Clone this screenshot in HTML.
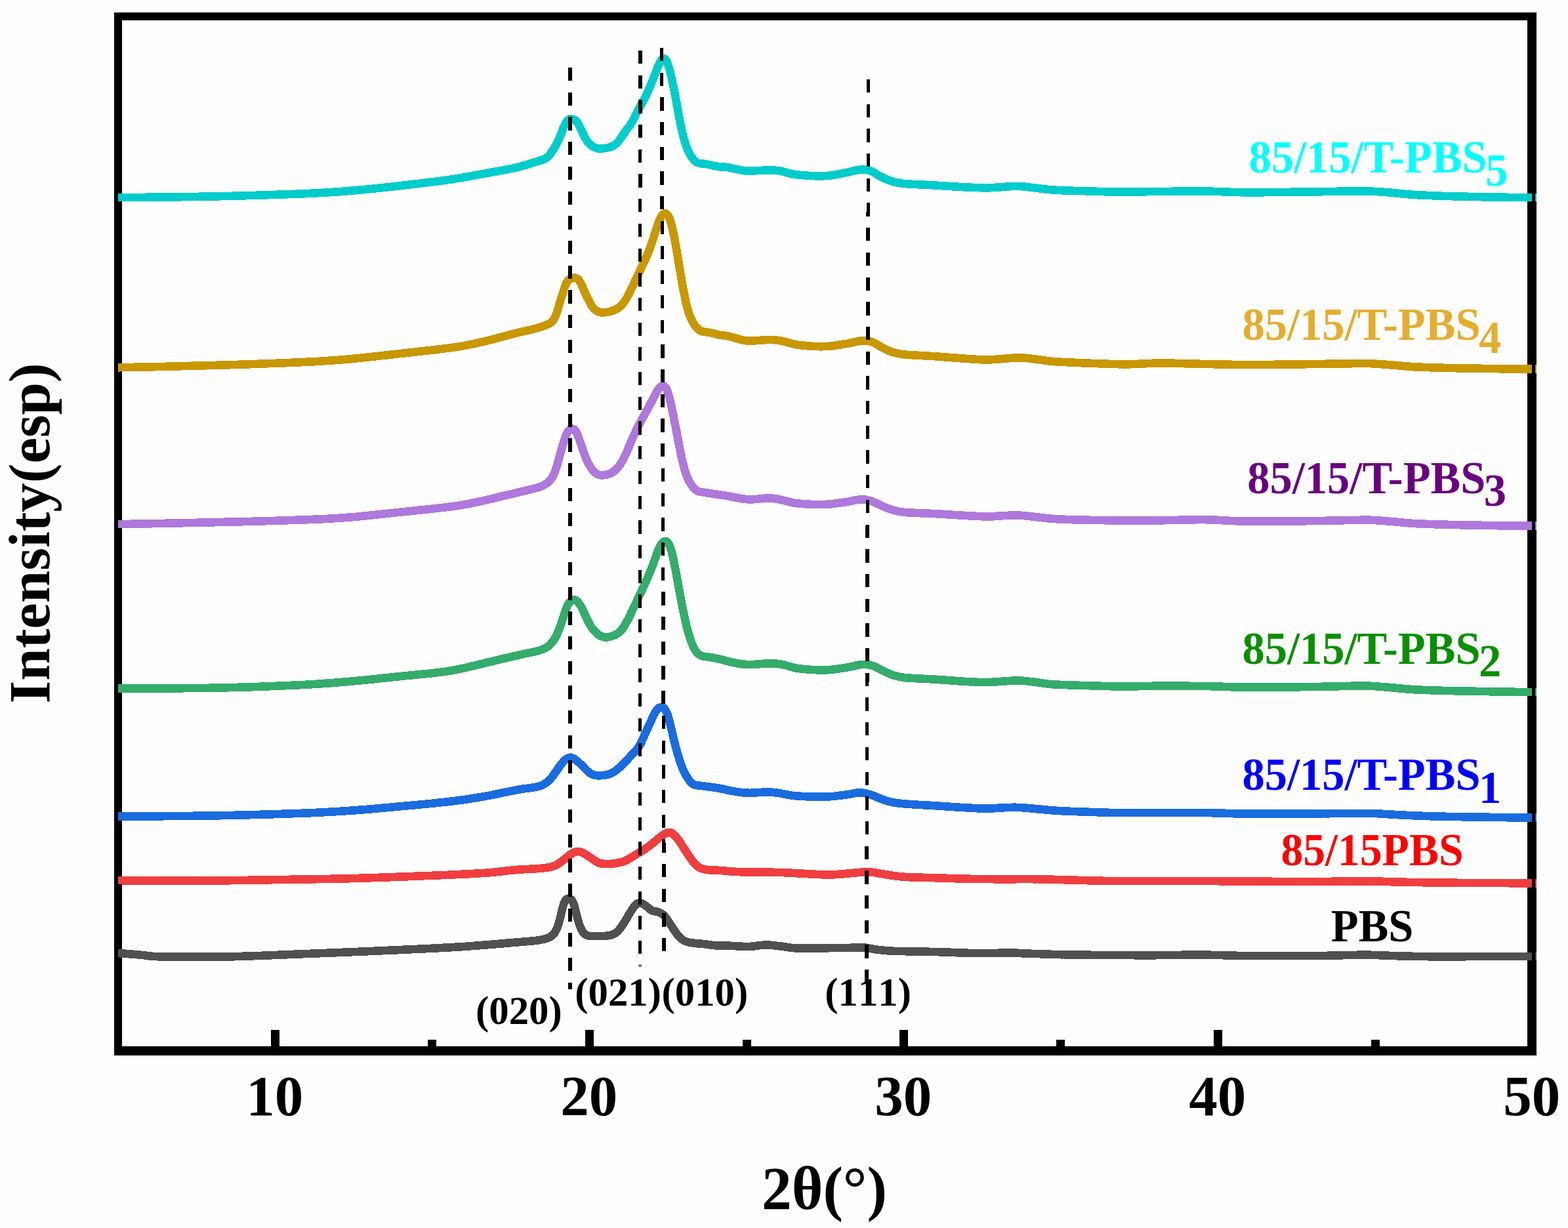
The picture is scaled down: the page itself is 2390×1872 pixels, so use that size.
<!DOCTYPE html>
<html lang="en">
<head>
<meta charset="utf-8">
<title>XRD patterns of PBS blends</title>
<style>
html,body{margin:0;padding:0;background:#fefefe;}
body{width:2390px;height:1872px;overflow:hidden;}
svg{display:block;}
text{font-family:'Liberation Serif','Times New Roman',Times,serif;font-weight:bold;}
.c{fill:none;stroke-width:12.6;stroke-linejoin:round;stroke-linecap:butt;shape-rendering:crispEdges;}
.ci{fill:none;stroke-width:10;stroke-linejoin:round;stroke-linecap:butt;}
.d{stroke:#000;fill:none;shape-rendering:crispEdges;}
</style>
</head>
<body>
<svg xmlns="http://www.w3.org/2000/svg" width="2390" height="1872" viewBox="0 0 2390 1872">
<rect x="0" y="0" width="2390" height="1872" fill="#fefefe"/>
<g fill="#000">
<rect x="174" y="19" width="2168" height="12"/>
<rect x="174" y="19" width="12" height="1590"/>
<rect x="174" y="1595" width="2168" height="14"/>
<rect x="2328" y="19" width="14" height="1590"/>
<rect x="413" y="1570" width="13" height="26"/>
<rect x="892" y="1570" width="13" height="26"/>
<rect x="1371" y="1570" width="13" height="26"/>
<rect x="1850" y="1570" width="13" height="26"/>
<rect x="652" y="1585" width="13" height="11"/>
<rect x="1132" y="1585" width="13" height="11"/>
<rect x="1610" y="1585" width="13" height="11"/>
<rect x="2090" y="1585" width="13" height="11"/>
</g>
<g stroke="#505050"><path class="c" d="M180,1453L183,1453.2L186,1453.4L189,1453.6L192,1453.8L195,1454.1L198,1454.3L201,1454.5L204,1454.8L207,1455L210,1455.3L213,1455.6L216,1455.9L219,1456.2L221.9,1456.6L224.9,1457L227.9,1457.4L230.9,1457.7L233.9,1457.9L236.9,1458.1L239.9,1458.2L242.9,1458.3L245.9,1458.3L248.9,1458.4L251.9,1458.4L254.9,1458.4L257.9,1458.4L260.9,1458.5L264,1458.5L267,1458.5L270,1458.5L273,1458.5L276,1458.5L279,1458.5L282,1458.5L285,1458.5L288,1458.5L291,1458.5L294,1458.5L297,1458.5L300,1458.5L303,1458.5L306.1,1458.5L309.1,1458.5L312.1,1458.5L315.1,1458.5L318.1,1458.5L321.1,1458.5L324.1,1458.5L327.1,1458.5L330.1,1458.5L333.1,1458.5L336.1,1458.5L339.1,1458.5L342.1,1458.4L345.2,1458.4L348.2,1458.4L351.2,1458.3L354.2,1458.2L357.2,1458.2L360.2,1458.1L363.2,1458L366.2,1457.9L369.2,1457.8L372.2,1457.7L375.2,1457.6L378.2,1457.5L381.2,1457.4L384.2,1457.3L387.2,1457.2L390.2,1457.1L393.2,1457L396.2,1456.9L399.3,1456.8L402.3,1456.6L405.3,1456.5L408.3,1456.4L411.3,1456.3L414.3,1456.2L417.3,1456L420.3,1455.9L423.3,1455.8L426.3,1455.7L429.3,1455.5L432.3,1455.4L435.3,1455.3L438.3,1455.2L441.3,1455L444.3,1454.9L447.3,1454.8L450.3,1454.7L453.3,1454.6L456.3,1454.4L459.3,1454.3L462.4,1454.2L465.4,1454.1L468.4,1454L471.4,1453.9L474.4,1453.7L477.4,1453.6L480.4,1453.5L483.4,1453.4L486.4,1453.3L489.4,1453.1L492.4,1453L495.4,1452.9L498.4,1452.8L501.4,1452.7L504.4,1452.5L507.4,1452.4L510.4,1452.3L513.4,1452.2L516.4,1452.1L519.4,1451.9L522.5,1451.8L525.5,1451.7L528.5,1451.6L531.5,1451.4L534.5,1451.3L537.5,1451.2L540.5,1451.1L543.5,1450.9L546.5,1450.8L549.5,1450.7L552.5,1450.6L555.5,1450.4L558.5,1450.3L561.5,1450.2L564.5,1450L567.5,1449.9L570.5,1449.8L573.5,1449.6L576.5,1449.5L579.5,1449.4L582.5,1449.2L585.5,1449.1L588.5,1449L591.6,1448.8L594.6,1448.7L597.6,1448.6L600.6,1448.4L603.6,1448.3L606.6,1448.2L609.6,1448L612.6,1447.9L615.6,1447.7L618.6,1447.6L621.6,1447.5L624.6,1447.3L627.6,1447.2L630.6,1447.1L633.6,1446.9L636.6,1446.8L639.6,1446.6L642.6,1446.5L645.6,1446.4L648.6,1446.2L651.6,1446.1L654.6,1445.9L657.6,1445.8L660.6,1445.6L663.6,1445.5L666.7,1445.3L669.7,1445.2L672.7,1445L675.7,1444.8L678.7,1444.7L681.7,1444.5L684.7,1444.4L687.7,1444.2L690.7,1444L693.7,1443.8L696.7,1443.7L699.7,1443.5L702.7,1443.3L705.7,1443.1L708.7,1442.9L711.7,1442.7L714.7,1442.5L717.7,1442.2L720.7,1442L723.7,1441.8L726.7,1441.6L729.7,1441.3L732.7,1441.1L735.7,1440.8L738.7,1440.6L741.7,1440.4L744.7,1440.1L747.7,1439.9L750.7,1439.6L753.7,1439.4L756.6,1439.1L759.6,1438.9L762.6,1438.6L765.6,1438.4L768.6,1438.1L771.6,1437.8L774.6,1437.6L777.6,1437.3L780.6,1437.1L783.6,1436.8L786.6,1436.5L789.6,1436.3L792.6,1436L795.6,1435.8L798.6,1435.5L801.6,1435.3L804.6,1435L807.6,1434.8L810.6,1434.5L813.6,1434.2L816.6,1433.9L819.6,1433.6L822.5,1433.1L825.5,1432.5L828.4,1431.8L831.3,1431.1L834.2,1430.2L837,1429L839.6,1427.6L842,1425.8L844.1,1423.6L845.9,1421.2L847.4,1418.6L848.7,1415.9L849.8,1413.1L850.8,1410.3L851.7,1407.4L852.5,1404.5L853.2,1401.6L854,1398.7L854.7,1395.7L855.3,1392.8L856,1389.9L856.7,1386.9L857.5,1384L858.3,1381.1L859.2,1378.3L860.2,1375.4L861.6,1372.8L863.6,1370.6L866.4,1369.6L869.3,1370.2L871.6,1372.2L873.1,1374.8L874.3,1377.5L875.2,1380.4L876.1,1383.3L876.9,1386.2L877.6,1389.1L878.3,1392L879,1394.9L879.8,1397.8L880.5,1400.7L881.3,1403.6L882.2,1406.5L883.1,1409.4L884.1,1412.2L885.3,1415L886.6,1417.7L888.2,1420.3L890.1,1422.6L892.3,1424.6L895,1426L897.9,1426.8L900.9,1427L903.9,1427L906.9,1427.1L909.9,1427.1L912.9,1427.1L915.9,1427L918.9,1426.9L921.9,1426.8L924.9,1426.5L927.9,1426.1L930.8,1425.5L933.7,1424.7L936.5,1423.5L939,1421.9L941.3,1419.9L943.3,1417.7L945.2,1415.4L947,1413L948.7,1410.5L950.4,1408L952,1405.4L953.5,1402.9L955.1,1400.3L956.6,1397.7L958.1,1395.1L959.6,1392.5L961.2,1389.9L962.8,1387.4L964.4,1384.9L966.2,1382.4L968.1,1380.1L970.3,1378.1L973,1376.7L975.9,1376.3L978.8,1377.2L981.4,1378.6L983.9,1380.4L986.2,1382.2L988.5,1384.2L990.7,1386.2L993.2,1387.9L996,1389L998.9,1389.5L1001.9,1389.9L1004.8,1390.8L1007.5,1392.1L1010,1393.8L1012.2,1395.9L1014.2,1398.1L1016,1400.5L1017.8,1402.9L1019.5,1405.4L1021.1,1407.9L1022.7,1410.4L1024.4,1413L1026,1415.5L1027.7,1418L1029.4,1420.5L1031.1,1422.9L1033,1425.3L1035,1427.6L1037.1,1429.7L1039.4,1431.6L1041.8,1433.4L1044.5,1434.8L1047.3,1435.8L1050.2,1436.5L1053.2,1437.1L1056.2,1437.5L1059.1,1437.9L1062.1,1438.2L1065.1,1438.5L1068.1,1438.7L1071.1,1439L1074.1,1439.2L1077.1,1439.6L1080.1,1440L1083.1,1440.4L1086,1440.9L1089,1441.2L1092,1441.3L1095,1441.3L1098,1441.3L1101,1441.3L1104.1,1441.4L1107.1,1441.5L1110.1,1441.6L1113.1,1441.8L1116.1,1442L1119.1,1442.1L1122.1,1442.3L1125.1,1442.5L1128.1,1442.6L1131.1,1442.8L1134.1,1442.9L1137.1,1443L1140.1,1443L1143.1,1442.9L1146.1,1442.7L1149.1,1442.4L1152.1,1442L1155.1,1441.6L1158,1441.2L1161,1440.9L1164,1440.6L1167,1440.5L1170,1440.5L1173,1440.7L1176,1440.9L1179,1441.2L1182,1441.6L1185,1441.9L1188,1442.3L1191,1442.6L1194,1443L1196.9,1443.5L1199.9,1443.9L1202.9,1444.4L1205.8,1444.8L1208.8,1445.1L1211.8,1445.4L1214.8,1445.5L1217.8,1445.5L1220.9,1445.5L1223.9,1445.5L1226.9,1445.5L1229.9,1445.5L1232.9,1445.5L1235.9,1445.5L1238.9,1445.4L1241.9,1445.4L1244.9,1445.4L1247.9,1445.3L1250.9,1445.3L1253.9,1445.3L1256.9,1445.2L1259.9,1445.2L1263,1445.2L1266,1445.1L1269,1445.1L1272,1445.1L1275,1445L1278,1445L1281,1445L1284,1444.9L1287,1444.9L1290,1444.9L1293,1444.8L1296,1444.8L1299,1444.7L1302,1444.7L1305.1,1444.7L1308.1,1444.6L1311.1,1444.6L1314.1,1444.6L1317.1,1444.6L1320.1,1444.8L1323.1,1445.2L1326,1445.7L1329,1446.3L1331.9,1446.9L1334.9,1447.4L1337.9,1447.8L1340.9,1448.1L1343.8,1448.4L1346.8,1448.7L1349.8,1449L1352.8,1449.3L1355.8,1449.5L1358.8,1449.6L1361.8,1449.8L1364.8,1449.8L1367.9,1449.9L1370.9,1450L1373.9,1450.1L1376.9,1450.1L1379.9,1450.2L1382.9,1450.2L1385.9,1450.3L1388.9,1450.4L1391.9,1450.4L1394.9,1450.4L1397.9,1450.5L1400.9,1450.5L1403.9,1450.6L1406.9,1450.6L1409.9,1450.7L1413,1450.7L1416,1450.8L1419,1450.9L1422,1450.9L1425,1451L1428,1451.1L1431,1451.2L1434,1451.3L1437,1451.4L1440,1451.5L1443,1451.6L1446,1451.7L1449,1451.8L1452,1451.9L1455,1452.1L1458,1452.2L1461,1452.3L1464,1452.4L1467.1,1452.5L1470.1,1452.6L1473.1,1452.7L1476.1,1452.8L1479.1,1452.8L1482.1,1452.9L1485.1,1452.9L1488.1,1453L1491.1,1453L1494.1,1453L1497.1,1453.1L1500.1,1453.1L1503.1,1453L1506.1,1453L1509.1,1453L1512.2,1453L1515.2,1453L1518.2,1452.9L1521.2,1452.8L1524.2,1452.7L1527.2,1452.6L1530.2,1452.4L1533.2,1452.3L1536.2,1452.3L1539.2,1452.3L1542.2,1452.4L1545.2,1452.5L1548.2,1452.6L1551.2,1452.8L1554.2,1453L1557.2,1453.2L1560.2,1453.3L1563.2,1453.5L1566.2,1453.6L1569.2,1453.7L1572.2,1453.8L1575.3,1453.9L1578.3,1454L1581.3,1454.1L1584.3,1454.2L1587.3,1454.3L1590.3,1454.4L1593.3,1454.5L1596.3,1454.6L1599.3,1454.7L1602.3,1454.8L1605.3,1454.9L1608.3,1454.9L1611.3,1455L1614.3,1455.1L1617.3,1455.2L1620.3,1455.2L1623.3,1455.3L1626.4,1455.3L1629.4,1455.4L1632.4,1455.4L1635.4,1455.5L1638.4,1455.5L1641.4,1455.5L1644.4,1455.6L1647.4,1455.6L1650.4,1455.6L1653.4,1455.7L1656.4,1455.7L1659.4,1455.7L1662.4,1455.8L1665.4,1455.8L1668.5,1455.8L1671.5,1455.8L1674.5,1455.8L1677.5,1455.9L1680.5,1455.9L1683.5,1455.9L1686.5,1455.9L1689.5,1455.9L1692.5,1456L1695.5,1456L1698.5,1456L1701.5,1456L1704.5,1456L1707.5,1456.1L1710.6,1456.1L1713.6,1456.1L1716.6,1456.1L1719.6,1456.1L1722.6,1456.1L1725.6,1456.1L1728.6,1456.2L1731.6,1456.2L1734.6,1456.2L1737.6,1456.2L1740.6,1456.2L1743.6,1456.2L1746.6,1456.2L1749.6,1456.2L1752.7,1456.2L1755.7,1456.2L1758.7,1456.2L1761.7,1456.2L1764.7,1456.1L1767.7,1456.1L1770.7,1456.1L1773.7,1456.1L1776.7,1456L1779.7,1456L1782.7,1456L1785.7,1455.9L1788.7,1455.9L1791.7,1455.9L1794.8,1455.8L1797.8,1455.8L1800.8,1455.8L1803.8,1455.7L1806.8,1455.7L1809.8,1455.7L1812.8,1455.7L1815.8,1455.6L1818.8,1455.6L1821.8,1455.6L1824.8,1455.6L1827.8,1455.6L1830.8,1455.6L1833.8,1455.6L1836.9,1455.6L1839.9,1455.7L1842.9,1455.7L1845.9,1455.8L1848.9,1455.8L1851.9,1455.9L1854.9,1456L1857.9,1456L1860.9,1456.1L1863.9,1456.2L1866.9,1456.3L1869.9,1456.4L1872.9,1456.5L1875.9,1456.5L1878.9,1456.6L1881.9,1456.7L1885,1456.8L1888,1456.8L1891,1456.9L1894,1456.9L1897,1457L1900,1457L1903,1457L1906,1457L1909,1457L1912,1457L1915,1457L1918,1457L1921,1457.1L1924,1457.1L1927.1,1457.1L1930.1,1457.1L1933.1,1457.1L1936.1,1457.1L1939.1,1457.1L1942.1,1457.1L1945.1,1457.1L1948.1,1457.1L1951.1,1457.1L1954.1,1457.1L1957.1,1457.1L1960.1,1457.1L1963.1,1457.1L1966.1,1457.1L1969.2,1457.1L1972.2,1457.1L1975.2,1457.1L1978.2,1457.1L1981.2,1457L1984.2,1457L1987.2,1457L1990.2,1457L1993.2,1457L1996.2,1457L1999.2,1457L2002.2,1457L2005.2,1457L2008.3,1457L2011.3,1457L2014.3,1456.9L2017.3,1456.9L2020.3,1456.9L2023.3,1456.8L2026.3,1456.7L2029.3,1456.7L2032.3,1456.6L2035.3,1456.5L2038.3,1456.4L2041.3,1456.4L2044.3,1456.3L2047.3,1456.2L2050.3,1456.1L2053.3,1456.1L2056.4,1456L2059.4,1455.9L2062.4,1455.9L2065.4,1455.8L2068.4,1455.8L2071.4,1455.7L2074.4,1455.7L2077.4,1455.7L2080.4,1455.7L2083.4,1455.7L2086.4,1455.7L2089.4,1455.8L2092.4,1455.9L2095.4,1456L2098.4,1456.1L2101.5,1456.2L2104.5,1456.3L2107.5,1456.5L2110.5,1456.6L2113.5,1456.7L2116.5,1456.8L2119.5,1456.9L2122.5,1457L2125.5,1457.1L2128.5,1457.2L2131.5,1457.2L2134.5,1457.3L2137.5,1457.4L2140.5,1457.5L2143.5,1457.5L2146.5,1457.6L2149.5,1457.7L2152.5,1457.8L2155.6,1457.8L2158.6,1457.9L2161.6,1457.9L2164.6,1458L2167.6,1458L2170.6,1458.1L2173.6,1458.1L2176.6,1458.2L2179.6,1458.2L2182.6,1458.2L2185.6,1458.2L2188.6,1458.2L2191.6,1458.2L2194.6,1458.2L2197.7,1458.2L2200.7,1458.2L2203.7,1458.2L2206.7,1458.2L2209.7,1458.2L2212.7,1458.2L2215.7,1458.2L2218.7,1458.2L2221.7,1458.2L2224.7,1458.2L2227.7,1458.2L2230.7,1458.2L2233.7,1458.2L2236.7,1458.1L2239.8,1458.1L2242.8,1458.1L2245.8,1458.1L2248.8,1458.1L2251.8,1458.1L2254.8,1458.1L2257.8,1458.1L2260.8,1458.1L2263.8,1458.1L2266.8,1458.1L2269.8,1458.1L2272.8,1458.1L2275.8,1458.1L2278.8,1458.1L2281.9,1458.1L2284.9,1458L2287.9,1458L2290.9,1458L2293.9,1458L2296.9,1458L2299.9,1458L2302.9,1458L2305.9,1458L2308.9,1458L2311.9,1458L2314.9,1458L2317.9,1458L2320.9,1458L2324,1458L2327,1458L2330,1458L2333,1458L2336,1458L2339,1458L2342,1458"/><path class="ci" d="M180,1453L183,1453.2L186,1453.4L189,1453.6L192,1453.8L195,1454.1L198,1454.3L201,1454.5L204,1454.8L207,1455L210,1455.3L213,1455.6L216,1455.9L219,1456.2L221.9,1456.6L224.9,1457L227.9,1457.4L230.9,1457.7L233.9,1457.9L236.9,1458.1L239.9,1458.2L242.9,1458.3L245.9,1458.3L248.9,1458.4L251.9,1458.4L254.9,1458.4L257.9,1458.4L260.9,1458.5L264,1458.5L267,1458.5L270,1458.5L273,1458.5L276,1458.5L279,1458.5L282,1458.5L285,1458.5L288,1458.5L291,1458.5L294,1458.5L297,1458.5L300,1458.5L303,1458.5L306.1,1458.5L309.1,1458.5L312.1,1458.5L315.1,1458.5L318.1,1458.5L321.1,1458.5L324.1,1458.5L327.1,1458.5L330.1,1458.5L333.1,1458.5L336.1,1458.5L339.1,1458.5L342.1,1458.4L345.2,1458.4L348.2,1458.4L351.2,1458.3L354.2,1458.2L357.2,1458.2L360.2,1458.1L363.2,1458L366.2,1457.9L369.2,1457.8L372.2,1457.7L375.2,1457.6L378.2,1457.5L381.2,1457.4L384.2,1457.3L387.2,1457.2L390.2,1457.1L393.2,1457L396.2,1456.9L399.3,1456.8L402.3,1456.6L405.3,1456.5L408.3,1456.4L411.3,1456.3L414.3,1456.2L417.3,1456L420.3,1455.9L423.3,1455.8L426.3,1455.7L429.3,1455.5L432.3,1455.4L435.3,1455.3L438.3,1455.2L441.3,1455L444.3,1454.9L447.3,1454.8L450.3,1454.7L453.3,1454.6L456.3,1454.4L459.3,1454.3L462.4,1454.2L465.4,1454.1L468.4,1454L471.4,1453.9L474.4,1453.7L477.4,1453.6L480.4,1453.5L483.4,1453.4L486.4,1453.3L489.4,1453.1L492.4,1453L495.4,1452.9L498.4,1452.8L501.4,1452.7L504.4,1452.5L507.4,1452.4L510.4,1452.3L513.4,1452.2L516.4,1452.1L519.4,1451.9L522.5,1451.8L525.5,1451.7L528.5,1451.6L531.5,1451.4L534.5,1451.3L537.5,1451.2L540.5,1451.1L543.5,1450.9L546.5,1450.8L549.5,1450.7L552.5,1450.6L555.5,1450.4L558.5,1450.3L561.5,1450.2L564.5,1450L567.5,1449.9L570.5,1449.8L573.5,1449.6L576.5,1449.5L579.5,1449.4L582.5,1449.2L585.5,1449.1L588.5,1449L591.6,1448.8L594.6,1448.7L597.6,1448.6L600.6,1448.4L603.6,1448.3L606.6,1448.2L609.6,1448L612.6,1447.9L615.6,1447.7L618.6,1447.6L621.6,1447.5L624.6,1447.3L627.6,1447.2L630.6,1447.1L633.6,1446.9L636.6,1446.8L639.6,1446.6L642.6,1446.5L645.6,1446.4L648.6,1446.2L651.6,1446.1L654.6,1445.9L657.6,1445.8L660.6,1445.6L663.6,1445.5L666.7,1445.3L669.7,1445.2L672.7,1445L675.7,1444.8L678.7,1444.7L681.7,1444.5L684.7,1444.4L687.7,1444.2L690.7,1444L693.7,1443.8L696.7,1443.7L699.7,1443.5L702.7,1443.3L705.7,1443.1L708.7,1442.9L711.7,1442.7L714.7,1442.5L717.7,1442.2L720.7,1442L723.7,1441.8L726.7,1441.6L729.7,1441.3L732.7,1441.1L735.7,1440.8L738.7,1440.6L741.7,1440.4L744.7,1440.1L747.7,1439.9L750.7,1439.6L753.7,1439.4L756.6,1439.1L759.6,1438.9L762.6,1438.6L765.6,1438.4L768.6,1438.1L771.6,1437.8L774.6,1437.6L777.6,1437.3L780.6,1437.1L783.6,1436.8L786.6,1436.5L789.6,1436.3L792.6,1436L795.6,1435.8L798.6,1435.5L801.6,1435.3L804.6,1435L807.6,1434.8L810.6,1434.5L813.6,1434.2L816.6,1433.9L819.6,1433.6L822.5,1433.1L825.5,1432.5L828.4,1431.8L831.3,1431.1L834.2,1430.2L837,1429L839.6,1427.6L842,1425.8L844.1,1423.6L845.9,1421.2L847.4,1418.6L848.7,1415.9L849.8,1413.1L850.8,1410.3L851.7,1407.4L852.5,1404.5L853.2,1401.6L854,1398.7L854.7,1395.7L855.3,1392.8L856,1389.9L856.7,1386.9L857.5,1384L858.3,1381.1L859.2,1378.3L860.2,1375.4L861.6,1372.8L863.6,1370.6L866.4,1369.6L869.3,1370.2L871.6,1372.2L873.1,1374.8L874.3,1377.5L875.2,1380.4L876.1,1383.3L876.9,1386.2L877.6,1389.1L878.3,1392L879,1394.9L879.8,1397.8L880.5,1400.7L881.3,1403.6L882.2,1406.5L883.1,1409.4L884.1,1412.2L885.3,1415L886.6,1417.7L888.2,1420.3L890.1,1422.6L892.3,1424.6L895,1426L897.9,1426.8L900.9,1427L903.9,1427L906.9,1427.1L909.9,1427.1L912.9,1427.1L915.9,1427L918.9,1426.9L921.9,1426.8L924.9,1426.5L927.9,1426.1L930.8,1425.5L933.7,1424.7L936.5,1423.5L939,1421.9L941.3,1419.9L943.3,1417.7L945.2,1415.4L947,1413L948.7,1410.5L950.4,1408L952,1405.4L953.5,1402.9L955.1,1400.3L956.6,1397.7L958.1,1395.1L959.6,1392.5L961.2,1389.9L962.8,1387.4L964.4,1384.9L966.2,1382.4L968.1,1380.1L970.3,1378.1L973,1376.7L975.9,1376.3L978.8,1377.2L981.4,1378.6L983.9,1380.4L986.2,1382.2L988.5,1384.2L990.7,1386.2L993.2,1387.9L996,1389L998.9,1389.5L1001.9,1389.9L1004.8,1390.8L1007.5,1392.1L1010,1393.8L1012.2,1395.9L1014.2,1398.1L1016,1400.5L1017.8,1402.9L1019.5,1405.4L1021.1,1407.9L1022.7,1410.4L1024.4,1413L1026,1415.5L1027.7,1418L1029.4,1420.5L1031.1,1422.9L1033,1425.3L1035,1427.6L1037.1,1429.7L1039.4,1431.6L1041.8,1433.4L1044.5,1434.8L1047.3,1435.8L1050.2,1436.5L1053.2,1437.1L1056.2,1437.5L1059.1,1437.9L1062.1,1438.2L1065.1,1438.5L1068.1,1438.7L1071.1,1439L1074.1,1439.2L1077.1,1439.6L1080.1,1440L1083.1,1440.4L1086,1440.9L1089,1441.2L1092,1441.3L1095,1441.3L1098,1441.3L1101,1441.3L1104.1,1441.4L1107.1,1441.5L1110.1,1441.6L1113.1,1441.8L1116.1,1442L1119.1,1442.1L1122.1,1442.3L1125.1,1442.5L1128.1,1442.6L1131.1,1442.8L1134.1,1442.9L1137.1,1443L1140.1,1443L1143.1,1442.9L1146.1,1442.7L1149.1,1442.4L1152.1,1442L1155.1,1441.6L1158,1441.2L1161,1440.9L1164,1440.6L1167,1440.5L1170,1440.5L1173,1440.7L1176,1440.9L1179,1441.2L1182,1441.6L1185,1441.9L1188,1442.3L1191,1442.6L1194,1443L1196.9,1443.5L1199.9,1443.9L1202.9,1444.4L1205.8,1444.8L1208.8,1445.1L1211.8,1445.4L1214.8,1445.5L1217.8,1445.5L1220.9,1445.5L1223.9,1445.5L1226.9,1445.5L1229.9,1445.5L1232.9,1445.5L1235.9,1445.5L1238.9,1445.4L1241.9,1445.4L1244.9,1445.4L1247.9,1445.3L1250.9,1445.3L1253.9,1445.3L1256.9,1445.2L1259.9,1445.2L1263,1445.2L1266,1445.1L1269,1445.1L1272,1445.1L1275,1445L1278,1445L1281,1445L1284,1444.9L1287,1444.9L1290,1444.9L1293,1444.8L1296,1444.8L1299,1444.7L1302,1444.7L1305.1,1444.7L1308.1,1444.6L1311.1,1444.6L1314.1,1444.6L1317.1,1444.6L1320.1,1444.8L1323.1,1445.2L1326,1445.7L1329,1446.3L1331.9,1446.9L1334.9,1447.4L1337.9,1447.8L1340.9,1448.1L1343.8,1448.4L1346.8,1448.7L1349.8,1449L1352.8,1449.3L1355.8,1449.5L1358.8,1449.6L1361.8,1449.8L1364.8,1449.8L1367.9,1449.9L1370.9,1450L1373.9,1450.1L1376.9,1450.1L1379.9,1450.2L1382.9,1450.2L1385.9,1450.3L1388.9,1450.4L1391.9,1450.4L1394.9,1450.4L1397.9,1450.5L1400.9,1450.5L1403.9,1450.6L1406.9,1450.6L1409.9,1450.7L1413,1450.7L1416,1450.8L1419,1450.9L1422,1450.9L1425,1451L1428,1451.1L1431,1451.2L1434,1451.3L1437,1451.4L1440,1451.5L1443,1451.6L1446,1451.7L1449,1451.8L1452,1451.9L1455,1452.1L1458,1452.2L1461,1452.3L1464,1452.4L1467.1,1452.5L1470.1,1452.6L1473.1,1452.7L1476.1,1452.8L1479.1,1452.8L1482.1,1452.9L1485.1,1452.9L1488.1,1453L1491.1,1453L1494.1,1453L1497.1,1453.1L1500.1,1453.1L1503.1,1453L1506.1,1453L1509.1,1453L1512.2,1453L1515.2,1453L1518.2,1452.9L1521.2,1452.8L1524.2,1452.7L1527.2,1452.6L1530.2,1452.4L1533.2,1452.3L1536.2,1452.3L1539.2,1452.3L1542.2,1452.4L1545.2,1452.5L1548.2,1452.6L1551.2,1452.8L1554.2,1453L1557.2,1453.2L1560.2,1453.3L1563.2,1453.5L1566.2,1453.6L1569.2,1453.7L1572.2,1453.8L1575.3,1453.9L1578.3,1454L1581.3,1454.1L1584.3,1454.2L1587.3,1454.3L1590.3,1454.4L1593.3,1454.5L1596.3,1454.6L1599.3,1454.7L1602.3,1454.8L1605.3,1454.9L1608.3,1454.9L1611.3,1455L1614.3,1455.1L1617.3,1455.2L1620.3,1455.2L1623.3,1455.3L1626.4,1455.3L1629.4,1455.4L1632.4,1455.4L1635.4,1455.5L1638.4,1455.5L1641.4,1455.5L1644.4,1455.6L1647.4,1455.6L1650.4,1455.6L1653.4,1455.7L1656.4,1455.7L1659.4,1455.7L1662.4,1455.8L1665.4,1455.8L1668.5,1455.8L1671.5,1455.8L1674.5,1455.8L1677.5,1455.9L1680.5,1455.9L1683.5,1455.9L1686.5,1455.9L1689.5,1455.9L1692.5,1456L1695.5,1456L1698.5,1456L1701.5,1456L1704.5,1456L1707.5,1456.1L1710.6,1456.1L1713.6,1456.1L1716.6,1456.1L1719.6,1456.1L1722.6,1456.1L1725.6,1456.1L1728.6,1456.2L1731.6,1456.2L1734.6,1456.2L1737.6,1456.2L1740.6,1456.2L1743.6,1456.2L1746.6,1456.2L1749.6,1456.2L1752.7,1456.2L1755.7,1456.2L1758.7,1456.2L1761.7,1456.2L1764.7,1456.1L1767.7,1456.1L1770.7,1456.1L1773.7,1456.1L1776.7,1456L1779.7,1456L1782.7,1456L1785.7,1455.9L1788.7,1455.9L1791.7,1455.9L1794.8,1455.8L1797.8,1455.8L1800.8,1455.8L1803.8,1455.7L1806.8,1455.7L1809.8,1455.7L1812.8,1455.7L1815.8,1455.6L1818.8,1455.6L1821.8,1455.6L1824.8,1455.6L1827.8,1455.6L1830.8,1455.6L1833.8,1455.6L1836.9,1455.6L1839.9,1455.7L1842.9,1455.7L1845.9,1455.8L1848.9,1455.8L1851.9,1455.9L1854.9,1456L1857.9,1456L1860.9,1456.1L1863.9,1456.2L1866.9,1456.3L1869.9,1456.4L1872.9,1456.5L1875.9,1456.5L1878.9,1456.6L1881.9,1456.7L1885,1456.8L1888,1456.8L1891,1456.9L1894,1456.9L1897,1457L1900,1457L1903,1457L1906,1457L1909,1457L1912,1457L1915,1457L1918,1457L1921,1457.1L1924,1457.1L1927.1,1457.1L1930.1,1457.1L1933.1,1457.1L1936.1,1457.1L1939.1,1457.1L1942.1,1457.1L1945.1,1457.1L1948.1,1457.1L1951.1,1457.1L1954.1,1457.1L1957.1,1457.1L1960.1,1457.1L1963.1,1457.1L1966.1,1457.1L1969.2,1457.1L1972.2,1457.1L1975.2,1457.1L1978.2,1457.1L1981.2,1457L1984.2,1457L1987.2,1457L1990.2,1457L1993.2,1457L1996.2,1457L1999.2,1457L2002.2,1457L2005.2,1457L2008.3,1457L2011.3,1457L2014.3,1456.9L2017.3,1456.9L2020.3,1456.9L2023.3,1456.8L2026.3,1456.7L2029.3,1456.7L2032.3,1456.6L2035.3,1456.5L2038.3,1456.4L2041.3,1456.4L2044.3,1456.3L2047.3,1456.2L2050.3,1456.1L2053.3,1456.1L2056.4,1456L2059.4,1455.9L2062.4,1455.9L2065.4,1455.8L2068.4,1455.8L2071.4,1455.7L2074.4,1455.7L2077.4,1455.7L2080.4,1455.7L2083.4,1455.7L2086.4,1455.7L2089.4,1455.8L2092.4,1455.9L2095.4,1456L2098.4,1456.1L2101.5,1456.2L2104.5,1456.3L2107.5,1456.5L2110.5,1456.6L2113.5,1456.7L2116.5,1456.8L2119.5,1456.9L2122.5,1457L2125.5,1457.1L2128.5,1457.2L2131.5,1457.2L2134.5,1457.3L2137.5,1457.4L2140.5,1457.5L2143.5,1457.5L2146.5,1457.6L2149.5,1457.7L2152.5,1457.8L2155.6,1457.8L2158.6,1457.9L2161.6,1457.9L2164.6,1458L2167.6,1458L2170.6,1458.1L2173.6,1458.1L2176.6,1458.2L2179.6,1458.2L2182.6,1458.2L2185.6,1458.2L2188.6,1458.2L2191.6,1458.2L2194.6,1458.2L2197.7,1458.2L2200.7,1458.2L2203.7,1458.2L2206.7,1458.2L2209.7,1458.2L2212.7,1458.2L2215.7,1458.2L2218.7,1458.2L2221.7,1458.2L2224.7,1458.2L2227.7,1458.2L2230.7,1458.2L2233.7,1458.2L2236.7,1458.1L2239.8,1458.1L2242.8,1458.1L2245.8,1458.1L2248.8,1458.1L2251.8,1458.1L2254.8,1458.1L2257.8,1458.1L2260.8,1458.1L2263.8,1458.1L2266.8,1458.1L2269.8,1458.1L2272.8,1458.1L2275.8,1458.1L2278.8,1458.1L2281.9,1458.1L2284.9,1458L2287.9,1458L2290.9,1458L2293.9,1458L2296.9,1458L2299.9,1458L2302.9,1458L2305.9,1458L2308.9,1458L2311.9,1458L2314.9,1458L2317.9,1458L2320.9,1458L2324,1458L2327,1458L2330,1458L2333,1458L2336,1458L2339,1458L2342,1458"/></g>
<g stroke="#f03e40"><path class="c" d="M180,1342.1L183,1342.1L186,1342.2L189,1342.2L192,1342.2L195,1342.3L198,1342.3L201,1342.3L204.1,1342.4L207.1,1342.4L210.1,1342.4L213.1,1342.4L216.1,1342.5L219.1,1342.5L222.1,1342.5L225.1,1342.5L228.1,1342.6L231.1,1342.6L234.1,1342.6L237.1,1342.6L240.1,1342.6L243.1,1342.6L246.1,1342.6L249.2,1342.7L252.2,1342.7L255.2,1342.7L258.2,1342.7L261.2,1342.7L264.2,1342.7L267.2,1342.7L270.2,1342.7L273.2,1342.7L276.2,1342.7L279.2,1342.7L282.2,1342.7L285.2,1342.7L288.2,1342.7L291.2,1342.7L294.3,1342.7L297.3,1342.6L300.3,1342.6L303.3,1342.6L306.3,1342.6L309.3,1342.6L312.3,1342.6L315.3,1342.6L318.3,1342.5L321.3,1342.5L324.3,1342.5L327.3,1342.4L330.3,1342.4L333.3,1342.4L336.3,1342.4L339.4,1342.3L342.4,1342.3L345.4,1342.3L348.4,1342.2L351.4,1342.2L354.4,1342.1L357.4,1342.1L360.4,1342.1L363.4,1342L366.4,1342L369.4,1341.9L372.4,1341.9L375.4,1341.8L378.4,1341.8L381.4,1341.7L384.4,1341.7L387.5,1341.6L390.5,1341.6L393.5,1341.5L396.5,1341.5L399.5,1341.4L402.5,1341.4L405.5,1341.3L408.5,1341.3L411.5,1341.2L414.5,1341.2L417.5,1341.1L420.5,1341.1L423.5,1341L426.5,1341L429.5,1340.9L432.5,1340.9L435.6,1340.8L438.6,1340.8L441.6,1340.8L444.6,1340.7L447.6,1340.7L450.6,1340.6L453.6,1340.6L456.6,1340.5L459.6,1340.5L462.6,1340.4L465.6,1340.4L468.6,1340.3L471.6,1340.3L474.6,1340.3L477.6,1340.2L480.6,1340.2L483.7,1340.1L486.7,1340.1L489.7,1340L492.7,1340L495.7,1339.9L498.7,1339.9L501.7,1339.8L504.7,1339.8L507.7,1339.7L510.7,1339.6L513.7,1339.6L516.7,1339.5L519.7,1339.5L522.7,1339.4L525.7,1339.3L528.7,1339.3L531.8,1339.2L534.8,1339.1L537.8,1339.1L540.8,1339L543.8,1338.9L546.8,1338.8L549.8,1338.7L552.8,1338.6L555.8,1338.5L558.8,1338.4L561.8,1338.3L564.8,1338.2L567.8,1338.1L570.8,1338L573.8,1337.9L576.8,1337.8L579.8,1337.7L582.8,1337.6L585.8,1337.5L588.9,1337.4L591.9,1337.3L594.9,1337.2L597.9,1337L600.9,1336.9L603.9,1336.8L606.9,1336.7L609.9,1336.6L612.9,1336.5L615.9,1336.4L618.9,1336.3L621.9,1336.2L624.9,1336.1L627.9,1335.9L630.9,1335.8L633.9,1335.7L636.9,1335.6L639.9,1335.5L642.9,1335.4L645.9,1335.2L648.9,1335.1L651.9,1335L655,1334.9L658,1334.8L661,1334.6L664,1334.5L667,1334.4L670,1334.3L673,1334.1L676,1334L679,1333.9L682,1333.8L685,1333.6L688,1333.5L691,1333.4L694,1333.2L697,1333.1L700,1333L703,1332.8L706,1332.7L709,1332.5L712,1332.4L715,1332.2L718,1332.1L721,1331.9L724,1331.7L727,1331.6L730,1331.4L733,1331.2L736,1331L739,1330.8L742,1330.6L745,1330.4L748,1330.1L751,1329.8L754,1329.5L757,1329.2L760,1328.9L763,1328.5L766,1328.2L769,1327.8L771.9,1327.5L774.9,1327.2L777.9,1326.8L780.9,1326.5L783.9,1326.3L786.9,1326L789.9,1325.8L792.9,1325.6L795.9,1325.4L798.9,1325.2L801.9,1325.1L804.9,1324.9L807.9,1324.8L810.9,1324.6L813.9,1324.5L816.9,1324.3L819.9,1324.1L822.9,1323.9L825.9,1323.6L828.9,1323.3L831.9,1322.9L834.9,1322.5L837.8,1322L840.8,1321.3L843.6,1320.4L846.4,1319.3L849.1,1317.9L851.6,1316.3L854.1,1314.5L856.5,1312.8L858.9,1311L861.3,1309.1L863.6,1307.2L865.9,1305.3L868.3,1303.5L870.8,1301.8L873.4,1300.2L876.1,1299L879,1298.1L882,1298L884.9,1298.6L887.7,1299.7L890.3,1301.1L892.9,1302.7L895.4,1304.3L897.9,1306L900.4,1307.7L902.9,1309.4L905.4,1311.1L907.9,1312.7L910.5,1314.3L913.2,1315.5L916.1,1316.3L919.1,1316.7L922.1,1316.9L925.1,1317L928.1,1317L931.1,1316.8L934.1,1316.6L937.1,1316.2L940,1315.8L943,1315.3L945.9,1314.6L948.8,1313.8L951.7,1312.8L954.4,1311.6L957.1,1310.2L959.7,1308.7L962.3,1307.1L964.8,1305.5L967.4,1304L969.9,1302.4L972.5,1300.9L975.1,1299.3L977.7,1297.8L980.2,1296.2L982.7,1294.5L985.2,1292.8L987.6,1291.1L990,1289.3L992.4,1287.4L994.8,1285.6L997.1,1283.7L999.4,1281.7L1001.7,1279.8L1004.1,1277.9L1006.4,1276.1L1008.9,1274.3L1011.3,1272.5L1013.9,1270.9L1016.6,1269.6L1019.5,1269L1022.4,1269.4L1025.1,1270.8L1027.4,1272.7L1029.5,1274.9L1031.5,1277.1L1033.4,1279.5L1035.2,1281.9L1036.9,1284.4L1038.5,1286.9L1040.2,1289.4L1041.8,1291.9L1043.4,1294.5L1045,1297L1046.6,1299.6L1048.3,1302.1L1049.9,1304.6L1051.6,1307.1L1053.3,1309.5L1055.1,1312L1056.9,1314.3L1058.9,1316.6L1061.1,1318.7L1063.4,1320.6L1065.9,1322.3L1068.5,1323.7L1071.4,1324.7L1074.3,1325.4L1077.3,1325.8L1080.2,1326.2L1083.2,1326.4L1086.2,1326.6L1089.3,1326.7L1092.3,1326.7L1095.3,1326.8L1098.3,1326.9L1101.3,1327.2L1104.2,1327.6L1107.2,1327.9L1110.2,1328.1L1113.2,1328.4L1116.2,1328.6L1119.2,1328.7L1122.2,1328.9L1125.2,1329L1128.2,1329.2L1131.2,1329.3L1134.2,1329.4L1137.3,1329.4L1140.3,1329.5L1143.3,1329.6L1146.3,1329.6L1149.3,1329.6L1152.3,1329.6L1155.3,1329.7L1158.3,1329.7L1161.3,1329.7L1164.3,1329.7L1167.3,1329.7L1170.3,1329.7L1173.3,1329.7L1176.3,1329.7L1179.3,1329.8L1182.4,1329.8L1185.4,1329.9L1188.4,1330L1191.4,1330L1194.4,1330.2L1197.4,1330.3L1200.4,1330.5L1203.4,1330.6L1206.4,1330.8L1209.4,1331L1212.4,1331.1L1215.4,1331.3L1218.4,1331.4L1221.4,1331.6L1224.4,1331.7L1227.4,1331.9L1230.4,1332.1L1233.4,1332.3L1236.4,1332.4L1239.4,1332.6L1242.4,1332.8L1245.4,1332.9L1248.4,1333.1L1251.4,1333.2L1254.4,1333.3L1257.4,1333.3L1260.4,1333.4L1263.4,1333.4L1266.5,1333.4L1269.5,1333.3L1272.5,1333.2L1275.5,1333L1278.5,1332.8L1281.5,1332.6L1284.5,1332.3L1287.4,1332L1290.4,1331.7L1293.4,1331.4L1296.4,1331.1L1299.4,1330.9L1302.4,1330.6L1305.4,1330.3L1308.4,1330.1L1311.4,1329.8L1314.4,1329.6L1317.4,1329.4L1320.4,1329.2L1323.4,1329.2L1326.4,1329.4L1329.4,1329.7L1332.4,1330.1L1335.3,1330.6L1338.3,1331.1L1341.3,1331.6L1344.2,1332.1L1347.2,1332.5L1350.2,1333.1L1353.1,1333.6L1356.1,1334.1L1359.1,1334.6L1362,1335L1365,1335.4L1368,1335.7L1371,1336.1L1374,1336.4L1377,1336.6L1380,1336.9L1383,1337.1L1386,1337.2L1389,1337.3L1392,1337.4L1395,1337.5L1398,1337.6L1401,1337.6L1404,1337.7L1407,1337.8L1410,1337.8L1413,1337.9L1416,1338L1419,1338.1L1422,1338.1L1425.1,1338.2L1428.1,1338.3L1431.1,1338.4L1434.1,1338.5L1437.1,1338.6L1440.1,1338.7L1443.1,1338.8L1446.1,1338.9L1449.1,1339L1452.1,1339.1L1455.1,1339.2L1458.1,1339.2L1461.1,1339.3L1464.1,1339.4L1467.1,1339.5L1470.1,1339.6L1473.1,1339.6L1476.1,1339.7L1479.2,1339.8L1482.2,1339.8L1485.2,1339.9L1488.2,1339.9L1491.2,1339.9L1494.2,1340L1497.2,1340L1500.2,1340L1503.2,1340.1L1506.2,1340.1L1509.2,1340.1L1512.2,1340.1L1515.2,1340.2L1518.2,1340.2L1521.2,1340.2L1524.2,1340.2L1527.3,1340.2L1530.3,1340.2L1533.3,1340.2L1536.3,1340.2L1539.3,1340.2L1542.3,1340.2L1545.3,1340.2L1548.3,1340.2L1551.3,1340.1L1554.3,1340.1L1557.3,1340.1L1560.3,1340.1L1563.3,1340.1L1566.3,1340.1L1569.4,1340.1L1572.4,1340.1L1575.4,1340.2L1578.4,1340.2L1581.4,1340.2L1584.4,1340.3L1587.4,1340.3L1590.4,1340.4L1593.4,1340.5L1596.4,1340.5L1599.4,1340.6L1602.4,1340.7L1605.4,1340.8L1608.4,1340.9L1611.4,1341L1614.4,1341L1617.4,1341.1L1620.5,1341.2L1623.5,1341.3L1626.5,1341.4L1629.5,1341.5L1632.5,1341.5L1635.5,1341.6L1638.5,1341.7L1641.5,1341.8L1644.5,1341.9L1647.5,1342L1650.5,1342.1L1653.5,1342.1L1656.5,1342.2L1659.5,1342.3L1662.5,1342.4L1665.5,1342.5L1668.5,1342.5L1671.5,1342.6L1674.6,1342.7L1677.6,1342.7L1680.6,1342.8L1683.6,1342.8L1686.6,1342.9L1689.6,1342.9L1692.6,1342.9L1695.6,1343L1698.6,1343L1701.6,1343L1704.6,1343L1707.6,1343L1710.6,1343L1713.6,1343L1716.6,1343L1719.6,1343L1722.7,1343L1725.7,1343L1728.7,1343L1731.7,1343L1734.7,1343L1737.7,1343L1740.7,1343L1743.7,1343L1746.7,1343L1749.7,1343L1752.7,1343L1755.7,1343L1758.7,1343L1761.7,1343L1764.7,1343L1767.8,1343L1770.8,1343L1773.8,1343L1776.8,1343L1779.8,1343L1782.8,1343L1785.8,1343L1788.8,1343L1791.8,1343L1794.8,1343L1797.8,1343L1800.8,1343L1803.8,1343L1806.8,1343L1809.8,1343L1812.9,1343L1815.9,1343L1818.9,1343L1821.9,1343L1824.9,1343L1827.9,1343L1830.9,1343L1833.9,1343L1836.9,1343L1839.9,1343L1842.9,1343.1L1845.9,1343.1L1848.9,1343.1L1851.9,1343.1L1854.9,1343.1L1858,1343.2L1861,1343.2L1864,1343.2L1867,1343.3L1870,1343.3L1873,1343.3L1876,1343.4L1879,1343.4L1882,1343.4L1885,1343.5L1888,1343.5L1891,1343.5L1894,1343.5L1897,1343.6L1900,1343.6L1903.1,1343.6L1906.1,1343.6L1909.1,1343.6L1912.1,1343.6L1915.1,1343.7L1918.1,1343.7L1921.1,1343.7L1924.1,1343.7L1927.1,1343.7L1930.1,1343.7L1933.1,1343.7L1936.1,1343.7L1939.1,1343.8L1942.1,1343.8L1945.1,1343.8L1948.2,1343.8L1951.2,1343.8L1954.2,1343.8L1957.2,1343.8L1960.2,1343.8L1963.2,1343.8L1966.2,1343.8L1969.2,1343.8L1972.2,1343.9L1975.2,1343.9L1978.2,1343.9L1981.2,1343.9L1984.2,1343.9L1987.2,1343.9L1990.2,1343.9L1993.3,1343.9L1996.3,1343.9L1999.3,1343.9L2002.3,1343.9L2005.3,1343.9L2008.3,1343.9L2011.3,1343.9L2014.3,1343.9L2017.3,1343.9L2020.3,1343.8L2023.3,1343.8L2026.3,1343.8L2029.3,1343.8L2032.3,1343.7L2035.3,1343.7L2038.4,1343.6L2041.4,1343.6L2044.4,1343.6L2047.4,1343.5L2050.4,1343.5L2053.4,1343.5L2056.4,1343.4L2059.4,1343.4L2062.4,1343.4L2065.4,1343.3L2068.4,1343.3L2071.4,1343.3L2074.4,1343.3L2077.4,1343.3L2080.4,1343.3L2083.5,1343.3L2086.5,1343.3L2089.5,1343.4L2092.5,1343.4L2095.5,1343.5L2098.5,1343.5L2101.5,1343.6L2104.5,1343.7L2107.5,1343.8L2110.5,1343.9L2113.5,1344L2116.5,1344.1L2119.5,1344.2L2122.5,1344.3L2125.5,1344.4L2128.5,1344.5L2131.5,1344.5L2134.5,1344.6L2137.6,1344.6L2140.6,1344.7L2143.6,1344.8L2146.6,1344.8L2149.6,1344.9L2152.6,1344.9L2155.6,1345L2158.6,1345L2161.6,1345.1L2164.6,1345.1L2167.6,1345.2L2170.6,1345.2L2173.6,1345.3L2176.6,1345.3L2179.6,1345.3L2182.6,1345.4L2185.7,1345.4L2188.7,1345.5L2191.7,1345.5L2194.7,1345.5L2197.7,1345.6L2200.7,1345.6L2203.7,1345.6L2206.7,1345.7L2209.7,1345.7L2212.7,1345.7L2215.7,1345.7L2218.7,1345.7L2221.7,1345.8L2224.7,1345.8L2227.7,1345.8L2230.8,1345.8L2233.8,1345.8L2236.8,1345.9L2239.8,1345.9L2242.8,1345.9L2245.8,1345.9L2248.8,1345.9L2251.8,1346L2254.8,1346L2257.8,1346L2260.8,1346L2263.8,1346L2266.8,1346L2269.8,1346L2272.8,1346.1L2275.9,1346.1L2278.9,1346.1L2281.9,1346.1L2284.9,1346.1L2287.9,1346.1L2290.9,1346.1L2293.9,1346.1L2296.9,1346.1L2299.9,1346.2L2302.9,1346.2L2305.9,1346.2L2308.9,1346.2L2311.9,1346.2L2314.9,1346.2L2317.9,1346.2L2321,1346.2L2324,1346.2L2327,1346.2L2330,1346.2L2333,1346.2L2336,1346.2L2339,1346.2L2342,1346.2"/><path class="ci" d="M180,1342.1L183,1342.1L186,1342.2L189,1342.2L192,1342.2L195,1342.3L198,1342.3L201,1342.3L204.1,1342.4L207.1,1342.4L210.1,1342.4L213.1,1342.4L216.1,1342.5L219.1,1342.5L222.1,1342.5L225.1,1342.5L228.1,1342.6L231.1,1342.6L234.1,1342.6L237.1,1342.6L240.1,1342.6L243.1,1342.6L246.1,1342.6L249.2,1342.7L252.2,1342.7L255.2,1342.7L258.2,1342.7L261.2,1342.7L264.2,1342.7L267.2,1342.7L270.2,1342.7L273.2,1342.7L276.2,1342.7L279.2,1342.7L282.2,1342.7L285.2,1342.7L288.2,1342.7L291.2,1342.7L294.3,1342.7L297.3,1342.6L300.3,1342.6L303.3,1342.6L306.3,1342.6L309.3,1342.6L312.3,1342.6L315.3,1342.6L318.3,1342.5L321.3,1342.5L324.3,1342.5L327.3,1342.4L330.3,1342.4L333.3,1342.4L336.3,1342.4L339.4,1342.3L342.4,1342.3L345.4,1342.3L348.4,1342.2L351.4,1342.2L354.4,1342.1L357.4,1342.1L360.4,1342.1L363.4,1342L366.4,1342L369.4,1341.9L372.4,1341.9L375.4,1341.8L378.4,1341.8L381.4,1341.7L384.4,1341.7L387.5,1341.6L390.5,1341.6L393.5,1341.5L396.5,1341.5L399.5,1341.4L402.5,1341.4L405.5,1341.3L408.5,1341.3L411.5,1341.2L414.5,1341.2L417.5,1341.1L420.5,1341.1L423.5,1341L426.5,1341L429.5,1340.9L432.5,1340.9L435.6,1340.8L438.6,1340.8L441.6,1340.8L444.6,1340.7L447.6,1340.7L450.6,1340.6L453.6,1340.6L456.6,1340.5L459.6,1340.5L462.6,1340.4L465.6,1340.4L468.6,1340.3L471.6,1340.3L474.6,1340.3L477.6,1340.2L480.6,1340.2L483.7,1340.1L486.7,1340.1L489.7,1340L492.7,1340L495.7,1339.9L498.7,1339.9L501.7,1339.8L504.7,1339.8L507.7,1339.7L510.7,1339.6L513.7,1339.6L516.7,1339.5L519.7,1339.5L522.7,1339.4L525.7,1339.3L528.7,1339.3L531.8,1339.2L534.8,1339.1L537.8,1339.1L540.8,1339L543.8,1338.9L546.8,1338.8L549.8,1338.7L552.8,1338.6L555.8,1338.5L558.8,1338.4L561.8,1338.3L564.8,1338.2L567.8,1338.1L570.8,1338L573.8,1337.9L576.8,1337.8L579.8,1337.7L582.8,1337.6L585.8,1337.5L588.9,1337.4L591.9,1337.3L594.9,1337.2L597.9,1337L600.9,1336.9L603.9,1336.8L606.9,1336.7L609.9,1336.6L612.9,1336.5L615.9,1336.4L618.9,1336.3L621.9,1336.2L624.9,1336.1L627.9,1335.9L630.9,1335.8L633.9,1335.7L636.9,1335.6L639.9,1335.5L642.9,1335.4L645.9,1335.2L648.9,1335.1L651.9,1335L655,1334.9L658,1334.8L661,1334.6L664,1334.5L667,1334.4L670,1334.3L673,1334.1L676,1334L679,1333.9L682,1333.8L685,1333.6L688,1333.5L691,1333.4L694,1333.2L697,1333.1L700,1333L703,1332.8L706,1332.7L709,1332.5L712,1332.4L715,1332.2L718,1332.1L721,1331.9L724,1331.7L727,1331.6L730,1331.4L733,1331.2L736,1331L739,1330.8L742,1330.6L745,1330.4L748,1330.1L751,1329.8L754,1329.5L757,1329.2L760,1328.9L763,1328.5L766,1328.2L769,1327.8L771.9,1327.5L774.9,1327.2L777.9,1326.8L780.9,1326.5L783.9,1326.3L786.9,1326L789.9,1325.8L792.9,1325.6L795.9,1325.4L798.9,1325.2L801.9,1325.1L804.9,1324.9L807.9,1324.8L810.9,1324.6L813.9,1324.5L816.9,1324.3L819.9,1324.1L822.9,1323.9L825.9,1323.6L828.9,1323.3L831.9,1322.9L834.9,1322.5L837.8,1322L840.8,1321.3L843.6,1320.4L846.4,1319.3L849.1,1317.9L851.6,1316.3L854.1,1314.5L856.5,1312.8L858.9,1311L861.3,1309.1L863.6,1307.2L865.9,1305.3L868.3,1303.5L870.8,1301.8L873.4,1300.2L876.1,1299L879,1298.1L882,1298L884.9,1298.6L887.7,1299.7L890.3,1301.1L892.9,1302.7L895.4,1304.3L897.9,1306L900.4,1307.7L902.9,1309.4L905.4,1311.1L907.9,1312.7L910.5,1314.3L913.2,1315.5L916.1,1316.3L919.1,1316.7L922.1,1316.9L925.1,1317L928.1,1317L931.1,1316.8L934.1,1316.6L937.1,1316.2L940,1315.8L943,1315.3L945.9,1314.6L948.8,1313.8L951.7,1312.8L954.4,1311.6L957.1,1310.2L959.7,1308.7L962.3,1307.1L964.8,1305.5L967.4,1304L969.9,1302.4L972.5,1300.9L975.1,1299.3L977.7,1297.8L980.2,1296.2L982.7,1294.5L985.2,1292.8L987.6,1291.1L990,1289.3L992.4,1287.4L994.8,1285.6L997.1,1283.7L999.4,1281.7L1001.7,1279.8L1004.1,1277.9L1006.4,1276.1L1008.9,1274.3L1011.3,1272.5L1013.9,1270.9L1016.6,1269.6L1019.5,1269L1022.4,1269.4L1025.1,1270.8L1027.4,1272.7L1029.5,1274.9L1031.5,1277.1L1033.4,1279.5L1035.2,1281.9L1036.9,1284.4L1038.5,1286.9L1040.2,1289.4L1041.8,1291.9L1043.4,1294.5L1045,1297L1046.6,1299.6L1048.3,1302.1L1049.9,1304.6L1051.6,1307.1L1053.3,1309.5L1055.1,1312L1056.9,1314.3L1058.9,1316.6L1061.1,1318.7L1063.4,1320.6L1065.9,1322.3L1068.5,1323.7L1071.4,1324.7L1074.3,1325.4L1077.3,1325.8L1080.2,1326.2L1083.2,1326.4L1086.2,1326.6L1089.3,1326.7L1092.3,1326.7L1095.3,1326.8L1098.3,1326.9L1101.3,1327.2L1104.2,1327.6L1107.2,1327.9L1110.2,1328.1L1113.2,1328.4L1116.2,1328.6L1119.2,1328.7L1122.2,1328.9L1125.2,1329L1128.2,1329.2L1131.2,1329.3L1134.2,1329.4L1137.3,1329.4L1140.3,1329.5L1143.3,1329.6L1146.3,1329.6L1149.3,1329.6L1152.3,1329.6L1155.3,1329.7L1158.3,1329.7L1161.3,1329.7L1164.3,1329.7L1167.3,1329.7L1170.3,1329.7L1173.3,1329.7L1176.3,1329.7L1179.3,1329.8L1182.4,1329.8L1185.4,1329.9L1188.4,1330L1191.4,1330L1194.4,1330.2L1197.4,1330.3L1200.4,1330.5L1203.4,1330.6L1206.4,1330.8L1209.4,1331L1212.4,1331.1L1215.4,1331.3L1218.4,1331.4L1221.4,1331.6L1224.4,1331.7L1227.4,1331.9L1230.4,1332.1L1233.4,1332.3L1236.4,1332.4L1239.4,1332.6L1242.4,1332.8L1245.4,1332.9L1248.4,1333.1L1251.4,1333.2L1254.4,1333.3L1257.4,1333.3L1260.4,1333.4L1263.4,1333.4L1266.5,1333.4L1269.5,1333.3L1272.5,1333.2L1275.5,1333L1278.5,1332.8L1281.5,1332.6L1284.5,1332.3L1287.4,1332L1290.4,1331.7L1293.4,1331.4L1296.4,1331.1L1299.4,1330.9L1302.4,1330.6L1305.4,1330.3L1308.4,1330.1L1311.4,1329.8L1314.4,1329.6L1317.4,1329.4L1320.4,1329.2L1323.4,1329.2L1326.4,1329.4L1329.4,1329.7L1332.4,1330.1L1335.3,1330.6L1338.3,1331.1L1341.3,1331.6L1344.2,1332.1L1347.2,1332.5L1350.2,1333.1L1353.1,1333.6L1356.1,1334.1L1359.1,1334.6L1362,1335L1365,1335.4L1368,1335.7L1371,1336.1L1374,1336.4L1377,1336.6L1380,1336.9L1383,1337.1L1386,1337.2L1389,1337.3L1392,1337.4L1395,1337.5L1398,1337.6L1401,1337.6L1404,1337.7L1407,1337.8L1410,1337.8L1413,1337.9L1416,1338L1419,1338.1L1422,1338.1L1425.1,1338.2L1428.1,1338.3L1431.1,1338.4L1434.1,1338.5L1437.1,1338.6L1440.1,1338.7L1443.1,1338.8L1446.1,1338.9L1449.1,1339L1452.1,1339.1L1455.1,1339.2L1458.1,1339.2L1461.1,1339.3L1464.1,1339.4L1467.1,1339.5L1470.1,1339.6L1473.1,1339.6L1476.1,1339.7L1479.2,1339.8L1482.2,1339.8L1485.2,1339.9L1488.2,1339.9L1491.2,1339.9L1494.2,1340L1497.2,1340L1500.2,1340L1503.2,1340.1L1506.2,1340.1L1509.2,1340.1L1512.2,1340.1L1515.2,1340.2L1518.2,1340.2L1521.2,1340.2L1524.2,1340.2L1527.3,1340.2L1530.3,1340.2L1533.3,1340.2L1536.3,1340.2L1539.3,1340.2L1542.3,1340.2L1545.3,1340.2L1548.3,1340.2L1551.3,1340.1L1554.3,1340.1L1557.3,1340.1L1560.3,1340.1L1563.3,1340.1L1566.3,1340.1L1569.4,1340.1L1572.4,1340.1L1575.4,1340.2L1578.4,1340.2L1581.4,1340.2L1584.4,1340.3L1587.4,1340.3L1590.4,1340.4L1593.4,1340.5L1596.4,1340.5L1599.4,1340.6L1602.4,1340.7L1605.4,1340.8L1608.4,1340.9L1611.4,1341L1614.4,1341L1617.4,1341.1L1620.5,1341.2L1623.5,1341.3L1626.5,1341.4L1629.5,1341.5L1632.5,1341.5L1635.5,1341.6L1638.5,1341.7L1641.5,1341.8L1644.5,1341.9L1647.5,1342L1650.5,1342.1L1653.5,1342.1L1656.5,1342.2L1659.5,1342.3L1662.5,1342.4L1665.5,1342.5L1668.5,1342.5L1671.5,1342.6L1674.6,1342.7L1677.6,1342.7L1680.6,1342.8L1683.6,1342.8L1686.6,1342.9L1689.6,1342.9L1692.6,1342.9L1695.6,1343L1698.6,1343L1701.6,1343L1704.6,1343L1707.6,1343L1710.6,1343L1713.6,1343L1716.6,1343L1719.6,1343L1722.7,1343L1725.7,1343L1728.7,1343L1731.7,1343L1734.7,1343L1737.7,1343L1740.7,1343L1743.7,1343L1746.7,1343L1749.7,1343L1752.7,1343L1755.7,1343L1758.7,1343L1761.7,1343L1764.7,1343L1767.8,1343L1770.8,1343L1773.8,1343L1776.8,1343L1779.8,1343L1782.8,1343L1785.8,1343L1788.8,1343L1791.8,1343L1794.8,1343L1797.8,1343L1800.8,1343L1803.8,1343L1806.8,1343L1809.8,1343L1812.9,1343L1815.9,1343L1818.9,1343L1821.9,1343L1824.9,1343L1827.9,1343L1830.9,1343L1833.9,1343L1836.9,1343L1839.9,1343L1842.9,1343.1L1845.9,1343.1L1848.9,1343.1L1851.9,1343.1L1854.9,1343.1L1858,1343.2L1861,1343.2L1864,1343.2L1867,1343.3L1870,1343.3L1873,1343.3L1876,1343.4L1879,1343.4L1882,1343.4L1885,1343.5L1888,1343.5L1891,1343.5L1894,1343.5L1897,1343.6L1900,1343.6L1903.1,1343.6L1906.1,1343.6L1909.1,1343.6L1912.1,1343.6L1915.1,1343.7L1918.1,1343.7L1921.1,1343.7L1924.1,1343.7L1927.1,1343.7L1930.1,1343.7L1933.1,1343.7L1936.1,1343.7L1939.1,1343.8L1942.1,1343.8L1945.1,1343.8L1948.2,1343.8L1951.2,1343.8L1954.2,1343.8L1957.2,1343.8L1960.2,1343.8L1963.2,1343.8L1966.2,1343.8L1969.2,1343.8L1972.2,1343.9L1975.2,1343.9L1978.2,1343.9L1981.2,1343.9L1984.2,1343.9L1987.2,1343.9L1990.2,1343.9L1993.3,1343.9L1996.3,1343.9L1999.3,1343.9L2002.3,1343.9L2005.3,1343.9L2008.3,1343.9L2011.3,1343.9L2014.3,1343.9L2017.3,1343.9L2020.3,1343.8L2023.3,1343.8L2026.3,1343.8L2029.3,1343.8L2032.3,1343.7L2035.3,1343.7L2038.4,1343.6L2041.4,1343.6L2044.4,1343.6L2047.4,1343.5L2050.4,1343.5L2053.4,1343.5L2056.4,1343.4L2059.4,1343.4L2062.4,1343.4L2065.4,1343.3L2068.4,1343.3L2071.4,1343.3L2074.4,1343.3L2077.4,1343.3L2080.4,1343.3L2083.5,1343.3L2086.5,1343.3L2089.5,1343.4L2092.5,1343.4L2095.5,1343.5L2098.5,1343.5L2101.5,1343.6L2104.5,1343.7L2107.5,1343.8L2110.5,1343.9L2113.5,1344L2116.5,1344.1L2119.5,1344.2L2122.5,1344.3L2125.5,1344.4L2128.5,1344.5L2131.5,1344.5L2134.5,1344.6L2137.6,1344.6L2140.6,1344.7L2143.6,1344.8L2146.6,1344.8L2149.6,1344.9L2152.6,1344.9L2155.6,1345L2158.6,1345L2161.6,1345.1L2164.6,1345.1L2167.6,1345.2L2170.6,1345.2L2173.6,1345.3L2176.6,1345.3L2179.6,1345.3L2182.6,1345.4L2185.7,1345.4L2188.7,1345.5L2191.7,1345.5L2194.7,1345.5L2197.7,1345.6L2200.7,1345.6L2203.7,1345.6L2206.7,1345.7L2209.7,1345.7L2212.7,1345.7L2215.7,1345.7L2218.7,1345.7L2221.7,1345.8L2224.7,1345.8L2227.7,1345.8L2230.8,1345.8L2233.8,1345.8L2236.8,1345.9L2239.8,1345.9L2242.8,1345.9L2245.8,1345.9L2248.8,1345.9L2251.8,1346L2254.8,1346L2257.8,1346L2260.8,1346L2263.8,1346L2266.8,1346L2269.8,1346L2272.8,1346.1L2275.9,1346.1L2278.9,1346.1L2281.9,1346.1L2284.9,1346.1L2287.9,1346.1L2290.9,1346.1L2293.9,1346.1L2296.9,1346.1L2299.9,1346.2L2302.9,1346.2L2305.9,1346.2L2308.9,1346.2L2311.9,1346.2L2314.9,1346.2L2317.9,1346.2L2321,1346.2L2324,1346.2L2327,1346.2L2330,1346.2L2333,1346.2L2336,1346.2L2339,1346.2L2342,1346.2"/></g>
<g stroke="#1a6cde"><path class="c" d="M180,1244.4L183,1244.4L186,1244.4L189,1244.4L192,1244.4L195,1244.4L198,1244.4L201,1244.4L204,1244.4L207,1244.4L210,1244.4L213,1244.4L216.1,1244.4L219.1,1244.3L222.1,1244.3L225.1,1244.3L228.1,1244.3L231.1,1244.3L234.1,1244.3L237.1,1244.3L240.1,1244.2L243.1,1244.2L246.1,1244.2L249.1,1244.2L252.1,1244.1L255.1,1244.1L258.1,1244.1L261.1,1244.1L264.1,1244L267.1,1244L270.1,1244L273.1,1244L276.1,1243.9L279.1,1243.9L282.1,1243.9L285.2,1243.8L288.2,1243.8L291.2,1243.8L294.2,1243.8L297.2,1243.7L300.2,1243.7L303.2,1243.7L306.2,1243.6L309.2,1243.6L312.2,1243.5L315.2,1243.5L318.2,1243.5L321.2,1243.4L324.2,1243.4L327.2,1243.3L330.2,1243.3L333.2,1243.2L336.2,1243.2L339.2,1243.1L342.2,1243.1L345.2,1243L348.2,1242.9L351.2,1242.9L354.2,1242.8L357.3,1242.8L360.3,1242.7L363.3,1242.6L366.3,1242.6L369.3,1242.5L372.3,1242.4L375.3,1242.3L378.3,1242.3L381.3,1242.2L384.3,1242.1L387.3,1242L390.3,1242L393.3,1241.9L396.3,1241.8L399.3,1241.7L402.3,1241.6L405.3,1241.5L408.3,1241.4L411.3,1241.4L414.3,1241.3L417.3,1241.2L420.3,1241.1L423.3,1241L426.3,1240.9L429.3,1240.8L432.3,1240.7L435.3,1240.6L438.3,1240.5L441.3,1240.4L444.3,1240.3L447.3,1240.2L450.3,1240.1L453.4,1240L456.4,1239.9L459.4,1239.8L462.4,1239.7L465.4,1239.5L468.4,1239.4L471.4,1239.3L474.4,1239.2L477.4,1239L480.4,1238.9L483.4,1238.7L486.4,1238.6L489.4,1238.4L492.4,1238.3L495.4,1238.1L498.4,1238L501.4,1237.8L504.4,1237.6L507.4,1237.5L510.4,1237.3L513.4,1237.1L516.4,1236.9L519.4,1236.7L522.4,1236.5L525.4,1236.3L528.4,1236.1L531.4,1235.9L534.4,1235.7L537.4,1235.5L540.3,1235.3L543.3,1235.1L546.3,1234.8L549.3,1234.6L552.3,1234.4L555.3,1234.1L558.3,1233.9L561.3,1233.6L564.3,1233.4L567.3,1233.1L570.3,1232.9L573.3,1232.6L576.3,1232.3L579.3,1232.1L582.3,1231.8L585.3,1231.5L588.2,1231.3L591.2,1231L594.2,1230.7L597.2,1230.5L600.2,1230.2L603.2,1229.9L606.2,1229.6L609.2,1229.4L612.2,1229.1L615.2,1228.8L618.2,1228.6L621.2,1228.3L624.2,1228L627.1,1227.7L630.1,1227.5L633.1,1227.2L636.1,1226.9L639.1,1226.6L642.1,1226.3L645.1,1226L648.1,1225.8L651.1,1225.5L654.1,1225.2L657.1,1224.9L660,1224.6L663,1224.3L666,1224L669,1223.6L672,1223.3L675,1223L678,1222.7L681,1222.4L683.9,1222L686.9,1221.7L689.9,1221.3L692.9,1221L695.9,1220.6L698.9,1220.2L701.8,1219.8L704.8,1219.4L707.8,1219L710.8,1218.6L713.7,1218.1L716.7,1217.7L719.7,1217.2L722.6,1216.7L725.6,1216.2L728.6,1215.7L731.5,1215.2L734.5,1214.7L737.4,1214.2L740.4,1213.7L743.4,1213.1L746.3,1212.6L749.3,1212L752.2,1211.4L755.2,1210.8L758.1,1210.2L761,1209.6L764,1209L766.9,1208.4L769.9,1207.8L772.8,1207.2L775.7,1206.6L778.7,1205.9L781.6,1205.4L784.6,1204.8L787.5,1204.2L790.5,1203.7L793.4,1203.2L796.4,1202.7L799.4,1202.3L802.4,1201.9L805.3,1201.5L808.3,1201.1L811.3,1200.7L814.3,1200.2L817.2,1199.7L820.2,1199.1L823,1198.2L825.8,1197.1L828.5,1195.7L831.1,1194.2L833.6,1192.5L835.9,1190.6L838,1188.5L840,1186.2L841.9,1183.9L843.7,1181.5L845.4,1179L847.2,1176.6L848.9,1174.1L850.6,1171.6L852.3,1169.2L854.1,1166.7L855.9,1164.3L857.8,1162L859.9,1159.8L862.1,1157.8L864.5,1156.1L867.3,1154.9L870.3,1154.7L873.1,1155.7L875.7,1157.1L878.2,1158.9L880.5,1160.8L882.8,1162.8L884.9,1164.8L887.1,1166.9L889.2,1169.1L891.3,1171.2L893.3,1173.4L895.5,1175.5L897.8,1177.5L900.2,1179.2L902.9,1180.5L905.8,1181.5L908.7,1182.1L911.7,1182.3L914.7,1182.3L917.7,1182.1L920.7,1181.8L923.7,1181.3L926.6,1180.6L929.4,1179.6L932.2,1178.5L934.9,1177.1L937.4,1175.5L939.8,1173.7L942.2,1171.8L944.4,1169.8L946.6,1167.8L948.7,1165.7L950.9,1163.6L953,1161.4L955,1159.2L957.1,1157L959.2,1154.8L961.2,1152.7L963.3,1150.5L965.4,1148.4L967.5,1146.2L969.6,1144L971.5,1141.7L973.2,1139.3L974.8,1136.7L976.2,1134.1L977.6,1131.4L978.8,1128.6L980,1125.9L981.3,1123.1L982.5,1120.4L983.7,1117.7L985,1114.9L986.3,1112.2L987.5,1109.5L988.8,1106.8L990.1,1104.1L991.3,1101.3L992.6,1098.6L993.8,1095.8L995,1093.1L996.3,1090.4L997.7,1087.7L999.1,1085.1L1000.8,1082.6L1002.8,1080.4L1005.2,1078.6L1008.1,1077.9L1011,1078.8L1013.2,1080.9L1014.8,1083.4L1016.2,1086L1017.3,1088.8L1018.3,1091.7L1019.1,1094.6L1019.9,1097.4L1020.7,1100.4L1021.4,1103.3L1022.1,1106.2L1022.8,1109.1L1023.5,1112L1024.2,1115L1024.9,1117.9L1025.5,1120.8L1026.2,1123.7L1026.9,1126.7L1027.7,1129.6L1028.4,1132.5L1029.1,1135.4L1029.9,1138.3L1030.7,1141.2L1031.5,1144.1L1032.3,1147L1033.1,1149.9L1034,1152.8L1034.9,1155.6L1035.7,1158.5L1036.7,1161.4L1037.6,1164.2L1038.7,1167L1039.7,1169.8L1040.9,1172.6L1042.1,1175.4L1043.4,1178.1L1044.8,1180.7L1046.4,1183.3L1048,1185.8L1049.7,1188.3L1051.5,1190.7L1053.4,1193L1055.7,1195L1058.3,1196.4L1061.2,1197.1L1064.2,1197.4L1067.2,1197.7L1070.2,1198.1L1073.2,1198.5L1076.1,1198.9L1079.1,1199.3L1082.1,1199.6L1085.1,1200L1088.1,1200.4L1091,1200.9L1094,1201.3L1097,1201.8L1099.9,1202.4L1102.8,1203L1105.8,1203.7L1108.7,1204.4L1111.6,1205L1114.6,1205.6L1117.5,1206.1L1120.5,1206.6L1123.5,1207.1L1126.4,1207.6L1129.4,1207.9L1132.4,1208.3L1135.4,1208.5L1138.4,1208.7L1141.4,1208.8L1144.4,1208.8L1147.4,1208.7L1150.4,1208.5L1153.4,1208.3L1156.4,1208.1L1159.4,1207.9L1162.4,1207.7L1165.4,1207.6L1168.4,1207.5L1171.4,1207.5L1174.4,1207.6L1177.4,1207.8L1180.4,1208.2L1183.4,1208.5L1186.3,1208.9L1189.3,1209.4L1192.3,1210L1195.2,1210.5L1198.2,1211.1L1201.1,1211.7L1204.1,1212.2L1207,1212.7L1210,1213L1213,1213.3L1216,1213.5L1219,1213.7L1222,1213.9L1225,1214.1L1228,1214.2L1231,1214.3L1234,1214.5L1237,1214.5L1240,1214.6L1243,1214.7L1246,1214.7L1249,1214.7L1252,1214.7L1255,1214.6L1258,1214.6L1261,1214.5L1264,1214.3L1267,1214.1L1270,1213.9L1273,1213.6L1276,1213.2L1279,1212.9L1282,1212.5L1285,1212.1L1287.9,1211.7L1290.9,1211.3L1293.9,1210.9L1296.8,1210.3L1299.8,1209.7L1302.7,1209.1L1305.7,1208.7L1308.7,1208.4L1311.7,1208.4L1314.7,1208.7L1317.7,1209.1L1320.6,1209.7L1323.5,1210.5L1326.4,1211.3L1329.2,1212.3L1332.1,1213.3L1334.8,1214.5L1337.6,1215.7L1340.4,1216.8L1343.2,1217.8L1346,1218.9L1348.8,1219.9L1351.7,1220.9L1354.6,1221.7L1357.5,1222.5L1360.4,1223.1L1363.4,1223.6L1366.3,1224.1L1369.3,1224.5L1372.3,1224.8L1375.3,1225.1L1378.3,1225.4L1381.3,1225.6L1384.3,1225.8L1387.3,1226L1390.3,1226.2L1393.3,1226.4L1396.3,1226.6L1399.3,1226.8L1402.3,1226.9L1405.3,1227.1L1408.3,1227.3L1411.3,1227.4L1414.3,1227.6L1417.3,1227.8L1420.3,1227.9L1423.3,1228.1L1426.3,1228.3L1429.3,1228.5L1432.3,1228.7L1435.3,1228.9L1438.3,1229.1L1441.2,1229.3L1444.2,1229.5L1447.2,1229.7L1450.2,1229.9L1453.2,1230.1L1456.2,1230.3L1459.2,1230.5L1462.2,1230.7L1465.2,1230.9L1468.2,1231.1L1471.2,1231.2L1474.2,1231.4L1477.2,1231.6L1480.2,1231.7L1483.2,1231.9L1486.2,1232L1489.2,1232.2L1492.2,1232.3L1495.2,1232.4L1498.2,1232.5L1501.2,1232.6L1504.2,1232.6L1507.3,1232.6L1510.3,1232.5L1513.3,1232.4L1516.3,1232.1L1519.2,1231.9L1522.2,1231.6L1525.2,1231.4L1528.2,1231.3L1531.2,1231.2L1534.2,1231L1537.2,1230.9L1540.2,1230.8L1543.3,1230.8L1546.3,1230.7L1549.3,1230.8L1552.3,1230.9L1555.3,1231L1558.3,1231.2L1561.3,1231.4L1564.2,1231.7L1567.2,1232L1570.2,1232.3L1573.2,1232.5L1576.2,1232.8L1579.2,1233.1L1582.2,1233.4L1585.2,1233.6L1588.2,1233.9L1591.2,1234.2L1594.2,1234.5L1597.2,1234.8L1600.1,1235L1603.1,1235.3L1606.1,1235.5L1609.1,1235.7L1612.1,1235.9L1615.1,1236L1618.1,1236.2L1621.1,1236.3L1624.1,1236.5L1627.1,1236.6L1630.1,1236.8L1633.1,1236.9L1636.1,1237L1639.1,1237.1L1642.1,1237.2L1645.2,1237.3L1648.2,1237.4L1651.2,1237.5L1654.2,1237.6L1657.2,1237.7L1660.2,1237.8L1663.2,1237.9L1666.2,1238L1669.2,1238.1L1672.2,1238.2L1675.2,1238.3L1678.2,1238.4L1681.2,1238.5L1684.2,1238.6L1687.2,1238.7L1690.2,1238.8L1693.2,1238.8L1696.2,1238.9L1699.2,1238.9L1702.2,1239L1705.2,1239L1708.2,1239L1711.2,1239L1714.2,1239L1717.2,1239L1720.2,1239L1723.2,1239L1726.2,1239L1729.3,1239L1732.3,1239L1735.3,1239L1738.3,1239L1741.3,1239L1744.3,1239L1747.3,1239L1750.3,1239L1753.3,1239L1756.3,1239L1759.3,1239L1762.3,1239L1765.3,1239L1768.3,1239L1771.3,1239L1774.3,1239L1777.3,1239L1780.3,1239L1783.3,1239L1786.3,1239L1789.3,1239L1792.3,1239L1795.3,1239L1798.4,1239L1801.4,1239L1804.4,1239L1807.4,1239L1810.4,1239L1813.4,1239L1816.4,1239L1819.4,1239L1822.4,1239L1825.4,1239L1828.4,1239L1831.4,1239L1834.4,1239L1837.4,1239L1840.4,1239.1L1843.4,1239.1L1846.4,1239.2L1849.4,1239.3L1852.4,1239.4L1855.4,1239.4L1858.4,1239.5L1861.4,1239.6L1864.4,1239.7L1867.4,1239.8L1870.4,1239.9L1873.4,1240L1876.5,1240.1L1879.5,1240.2L1882.5,1240.3L1885.5,1240.4L1888.5,1240.4L1891.5,1240.5L1894.5,1240.5L1897.5,1240.6L1900.5,1240.6L1903.5,1240.6L1906.5,1240.6L1909.5,1240.6L1912.5,1240.6L1915.5,1240.6L1918.5,1240.6L1921.5,1240.6L1924.5,1240.6L1927.5,1240.6L1930.5,1240.6L1933.5,1240.6L1936.5,1240.6L1939.5,1240.6L1942.5,1240.5L1945.5,1240.5L1948.6,1240.5L1951.6,1240.5L1954.6,1240.5L1957.6,1240.5L1960.6,1240.5L1963.6,1240.5L1966.6,1240.5L1969.6,1240.4L1972.6,1240.4L1975.6,1240.4L1978.6,1240.4L1981.6,1240.4L1984.6,1240.4L1987.6,1240.4L1990.6,1240.4L1993.6,1240.4L1996.6,1240.3L1999.6,1240.3L2002.6,1240.3L2005.6,1240.3L2008.6,1240.3L2011.6,1240.3L2014.6,1240.3L2017.7,1240.2L2020.7,1240.2L2023.7,1240.2L2026.7,1240.2L2029.7,1240.1L2032.7,1240.1L2035.7,1240.1L2038.7,1240L2041.7,1240L2044.7,1240L2047.7,1239.9L2050.7,1239.9L2053.7,1239.9L2056.7,1239.9L2059.7,1239.9L2062.7,1239.8L2065.7,1239.8L2068.7,1239.8L2071.7,1239.8L2074.7,1239.8L2077.7,1239.8L2080.7,1239.8L2083.7,1239.8L2086.8,1239.8L2089.8,1239.9L2092.8,1240L2095.8,1240.1L2098.8,1240.2L2101.8,1240.4L2104.8,1240.6L2107.8,1240.8L2110.8,1240.9L2113.8,1241.1L2116.8,1241.3L2119.8,1241.5L2122.8,1241.7L2125.8,1241.9L2128.8,1242.1L2131.8,1242.2L2134.8,1242.4L2137.8,1242.5L2140.8,1242.7L2143.8,1242.8L2146.8,1242.9L2149.8,1243.1L2152.8,1243.2L2155.8,1243.3L2158.8,1243.4L2161.8,1243.6L2164.8,1243.7L2167.8,1243.8L2170.8,1243.9L2173.8,1244L2176.8,1244.1L2179.8,1244.2L2182.8,1244.3L2185.8,1244.4L2188.8,1244.5L2191.8,1244.5L2194.8,1244.6L2197.8,1244.7L2200.8,1244.7L2203.8,1244.8L2206.8,1244.8L2209.8,1244.9L2212.8,1244.9L2215.8,1245L2218.8,1245L2221.8,1245.1L2224.8,1245.1L2227.8,1245.2L2230.8,1245.2L2233.8,1245.3L2236.9,1245.3L2239.9,1245.4L2242.9,1245.4L2245.9,1245.4L2248.9,1245.5L2251.9,1245.5L2254.9,1245.6L2257.9,1245.6L2260.9,1245.7L2263.9,1245.7L2266.9,1245.7L2269.9,1245.8L2272.9,1245.8L2275.9,1245.9L2278.9,1245.9L2281.9,1246L2284.9,1246L2287.9,1246.1L2290.9,1246.1L2293.9,1246.1L2296.9,1246.2L2299.9,1246.2L2302.9,1246.3L2305.9,1246.3L2309,1246.3L2312,1246.4L2315,1246.4L2318,1246.4L2321,1246.5L2324,1246.5L2327,1246.5L2330,1246.5L2333,1246.5L2336,1246.5L2339,1246.5L2342,1246.5"/><path class="ci" d="M180,1244.4L183,1244.4L186,1244.4L189,1244.4L192,1244.4L195,1244.4L198,1244.4L201,1244.4L204,1244.4L207,1244.4L210,1244.4L213,1244.4L216.1,1244.4L219.1,1244.3L222.1,1244.3L225.1,1244.3L228.1,1244.3L231.1,1244.3L234.1,1244.3L237.1,1244.3L240.1,1244.2L243.1,1244.2L246.1,1244.2L249.1,1244.2L252.1,1244.1L255.1,1244.1L258.1,1244.1L261.1,1244.1L264.1,1244L267.1,1244L270.1,1244L273.1,1244L276.1,1243.9L279.1,1243.9L282.1,1243.9L285.2,1243.8L288.2,1243.8L291.2,1243.8L294.2,1243.8L297.2,1243.7L300.2,1243.7L303.2,1243.7L306.2,1243.6L309.2,1243.6L312.2,1243.5L315.2,1243.5L318.2,1243.5L321.2,1243.4L324.2,1243.4L327.2,1243.3L330.2,1243.3L333.2,1243.2L336.2,1243.2L339.2,1243.1L342.2,1243.1L345.2,1243L348.2,1242.9L351.2,1242.9L354.2,1242.8L357.3,1242.8L360.3,1242.7L363.3,1242.6L366.3,1242.6L369.3,1242.5L372.3,1242.4L375.3,1242.3L378.3,1242.3L381.3,1242.2L384.3,1242.1L387.3,1242L390.3,1242L393.3,1241.9L396.3,1241.8L399.3,1241.7L402.3,1241.6L405.3,1241.5L408.3,1241.4L411.3,1241.4L414.3,1241.3L417.3,1241.2L420.3,1241.1L423.3,1241L426.3,1240.9L429.3,1240.8L432.3,1240.7L435.3,1240.6L438.3,1240.5L441.3,1240.4L444.3,1240.3L447.3,1240.2L450.3,1240.1L453.4,1240L456.4,1239.9L459.4,1239.8L462.4,1239.7L465.4,1239.5L468.4,1239.4L471.4,1239.3L474.4,1239.2L477.4,1239L480.4,1238.9L483.4,1238.7L486.4,1238.6L489.4,1238.4L492.4,1238.3L495.4,1238.1L498.4,1238L501.4,1237.8L504.4,1237.6L507.4,1237.5L510.4,1237.3L513.4,1237.1L516.4,1236.9L519.4,1236.7L522.4,1236.5L525.4,1236.3L528.4,1236.1L531.4,1235.9L534.4,1235.7L537.4,1235.5L540.3,1235.3L543.3,1235.1L546.3,1234.8L549.3,1234.6L552.3,1234.4L555.3,1234.1L558.3,1233.9L561.3,1233.6L564.3,1233.4L567.3,1233.1L570.3,1232.9L573.3,1232.6L576.3,1232.3L579.3,1232.1L582.3,1231.8L585.3,1231.5L588.2,1231.3L591.2,1231L594.2,1230.7L597.2,1230.5L600.2,1230.2L603.2,1229.9L606.2,1229.6L609.2,1229.4L612.2,1229.1L615.2,1228.8L618.2,1228.6L621.2,1228.3L624.2,1228L627.1,1227.7L630.1,1227.5L633.1,1227.2L636.1,1226.9L639.1,1226.6L642.1,1226.3L645.1,1226L648.1,1225.8L651.1,1225.5L654.1,1225.2L657.1,1224.9L660,1224.6L663,1224.3L666,1224L669,1223.6L672,1223.3L675,1223L678,1222.7L681,1222.4L683.9,1222L686.9,1221.7L689.9,1221.3L692.9,1221L695.9,1220.6L698.9,1220.2L701.8,1219.8L704.8,1219.4L707.8,1219L710.8,1218.6L713.7,1218.1L716.7,1217.7L719.7,1217.2L722.6,1216.7L725.6,1216.2L728.6,1215.7L731.5,1215.2L734.5,1214.7L737.4,1214.2L740.4,1213.7L743.4,1213.1L746.3,1212.6L749.3,1212L752.2,1211.4L755.2,1210.8L758.1,1210.2L761,1209.6L764,1209L766.9,1208.4L769.9,1207.8L772.8,1207.2L775.7,1206.6L778.7,1205.9L781.6,1205.4L784.6,1204.8L787.5,1204.2L790.5,1203.7L793.4,1203.2L796.4,1202.7L799.4,1202.3L802.4,1201.9L805.3,1201.5L808.3,1201.1L811.3,1200.7L814.3,1200.2L817.2,1199.7L820.2,1199.1L823,1198.2L825.8,1197.1L828.5,1195.7L831.1,1194.2L833.6,1192.5L835.9,1190.6L838,1188.5L840,1186.2L841.9,1183.9L843.7,1181.5L845.4,1179L847.2,1176.6L848.9,1174.1L850.6,1171.6L852.3,1169.2L854.1,1166.7L855.9,1164.3L857.8,1162L859.9,1159.8L862.1,1157.8L864.5,1156.1L867.3,1154.9L870.3,1154.7L873.1,1155.7L875.7,1157.1L878.2,1158.9L880.5,1160.8L882.8,1162.8L884.9,1164.8L887.1,1166.9L889.2,1169.1L891.3,1171.2L893.3,1173.4L895.5,1175.5L897.8,1177.5L900.2,1179.2L902.9,1180.5L905.8,1181.5L908.7,1182.1L911.7,1182.3L914.7,1182.3L917.7,1182.1L920.7,1181.8L923.7,1181.3L926.6,1180.6L929.4,1179.6L932.2,1178.5L934.9,1177.1L937.4,1175.5L939.8,1173.7L942.2,1171.8L944.4,1169.8L946.6,1167.8L948.7,1165.7L950.9,1163.6L953,1161.4L955,1159.2L957.1,1157L959.2,1154.8L961.2,1152.7L963.3,1150.5L965.4,1148.4L967.5,1146.2L969.6,1144L971.5,1141.7L973.2,1139.3L974.8,1136.7L976.2,1134.1L977.6,1131.4L978.8,1128.6L980,1125.9L981.3,1123.1L982.5,1120.4L983.7,1117.7L985,1114.9L986.3,1112.2L987.5,1109.5L988.8,1106.8L990.1,1104.1L991.3,1101.3L992.6,1098.6L993.8,1095.8L995,1093.1L996.3,1090.4L997.7,1087.7L999.1,1085.1L1000.8,1082.6L1002.8,1080.4L1005.2,1078.6L1008.1,1077.9L1011,1078.8L1013.2,1080.9L1014.8,1083.4L1016.2,1086L1017.3,1088.8L1018.3,1091.7L1019.1,1094.6L1019.9,1097.4L1020.7,1100.4L1021.4,1103.3L1022.1,1106.2L1022.8,1109.1L1023.5,1112L1024.2,1115L1024.9,1117.9L1025.5,1120.8L1026.2,1123.7L1026.9,1126.7L1027.7,1129.6L1028.4,1132.5L1029.1,1135.4L1029.9,1138.3L1030.7,1141.2L1031.5,1144.1L1032.3,1147L1033.1,1149.9L1034,1152.8L1034.9,1155.6L1035.7,1158.5L1036.7,1161.4L1037.6,1164.2L1038.7,1167L1039.7,1169.8L1040.9,1172.6L1042.1,1175.4L1043.4,1178.1L1044.8,1180.7L1046.4,1183.3L1048,1185.8L1049.7,1188.3L1051.5,1190.7L1053.4,1193L1055.7,1195L1058.3,1196.4L1061.2,1197.1L1064.2,1197.4L1067.2,1197.7L1070.2,1198.1L1073.2,1198.5L1076.1,1198.9L1079.1,1199.3L1082.1,1199.6L1085.1,1200L1088.1,1200.4L1091,1200.9L1094,1201.3L1097,1201.8L1099.9,1202.4L1102.8,1203L1105.8,1203.7L1108.7,1204.4L1111.6,1205L1114.6,1205.6L1117.5,1206.1L1120.5,1206.6L1123.5,1207.1L1126.4,1207.6L1129.4,1207.9L1132.4,1208.3L1135.4,1208.5L1138.4,1208.7L1141.4,1208.8L1144.4,1208.8L1147.4,1208.7L1150.4,1208.5L1153.4,1208.3L1156.4,1208.1L1159.4,1207.9L1162.4,1207.7L1165.4,1207.6L1168.4,1207.5L1171.4,1207.5L1174.4,1207.6L1177.4,1207.8L1180.4,1208.2L1183.4,1208.5L1186.3,1208.9L1189.3,1209.4L1192.3,1210L1195.2,1210.5L1198.2,1211.1L1201.1,1211.7L1204.1,1212.2L1207,1212.7L1210,1213L1213,1213.3L1216,1213.5L1219,1213.7L1222,1213.9L1225,1214.1L1228,1214.2L1231,1214.3L1234,1214.5L1237,1214.5L1240,1214.6L1243,1214.7L1246,1214.7L1249,1214.7L1252,1214.7L1255,1214.6L1258,1214.6L1261,1214.5L1264,1214.3L1267,1214.1L1270,1213.9L1273,1213.6L1276,1213.2L1279,1212.9L1282,1212.5L1285,1212.1L1287.9,1211.7L1290.9,1211.3L1293.9,1210.9L1296.8,1210.3L1299.8,1209.7L1302.7,1209.1L1305.7,1208.7L1308.7,1208.4L1311.7,1208.4L1314.7,1208.7L1317.7,1209.1L1320.6,1209.7L1323.5,1210.5L1326.4,1211.3L1329.2,1212.3L1332.1,1213.3L1334.8,1214.5L1337.6,1215.7L1340.4,1216.8L1343.2,1217.8L1346,1218.9L1348.8,1219.9L1351.7,1220.9L1354.6,1221.7L1357.5,1222.5L1360.4,1223.1L1363.4,1223.6L1366.3,1224.1L1369.3,1224.5L1372.3,1224.8L1375.3,1225.1L1378.3,1225.4L1381.3,1225.6L1384.3,1225.8L1387.3,1226L1390.3,1226.2L1393.3,1226.4L1396.3,1226.6L1399.3,1226.8L1402.3,1226.9L1405.3,1227.1L1408.3,1227.3L1411.3,1227.4L1414.3,1227.6L1417.3,1227.8L1420.3,1227.9L1423.3,1228.1L1426.3,1228.3L1429.3,1228.5L1432.3,1228.7L1435.3,1228.9L1438.3,1229.1L1441.2,1229.3L1444.2,1229.5L1447.2,1229.7L1450.2,1229.9L1453.2,1230.1L1456.2,1230.3L1459.2,1230.5L1462.2,1230.7L1465.2,1230.9L1468.2,1231.1L1471.2,1231.2L1474.2,1231.4L1477.2,1231.6L1480.2,1231.7L1483.2,1231.9L1486.2,1232L1489.2,1232.2L1492.2,1232.3L1495.2,1232.4L1498.2,1232.5L1501.2,1232.6L1504.2,1232.6L1507.3,1232.6L1510.3,1232.5L1513.3,1232.4L1516.3,1232.1L1519.2,1231.9L1522.2,1231.6L1525.2,1231.4L1528.2,1231.3L1531.2,1231.2L1534.2,1231L1537.2,1230.9L1540.2,1230.8L1543.3,1230.8L1546.3,1230.7L1549.3,1230.8L1552.3,1230.9L1555.3,1231L1558.3,1231.2L1561.3,1231.4L1564.2,1231.7L1567.2,1232L1570.2,1232.3L1573.2,1232.5L1576.2,1232.8L1579.2,1233.1L1582.2,1233.4L1585.2,1233.6L1588.2,1233.9L1591.2,1234.2L1594.2,1234.5L1597.2,1234.8L1600.1,1235L1603.1,1235.3L1606.1,1235.5L1609.1,1235.7L1612.1,1235.9L1615.1,1236L1618.1,1236.2L1621.1,1236.3L1624.1,1236.5L1627.1,1236.6L1630.1,1236.8L1633.1,1236.9L1636.1,1237L1639.1,1237.1L1642.1,1237.2L1645.2,1237.3L1648.2,1237.4L1651.2,1237.5L1654.2,1237.6L1657.2,1237.7L1660.2,1237.8L1663.2,1237.9L1666.2,1238L1669.2,1238.1L1672.2,1238.2L1675.2,1238.3L1678.2,1238.4L1681.2,1238.5L1684.2,1238.6L1687.2,1238.7L1690.2,1238.8L1693.2,1238.8L1696.2,1238.9L1699.2,1238.9L1702.2,1239L1705.2,1239L1708.2,1239L1711.2,1239L1714.2,1239L1717.2,1239L1720.2,1239L1723.2,1239L1726.2,1239L1729.3,1239L1732.3,1239L1735.3,1239L1738.3,1239L1741.3,1239L1744.3,1239L1747.3,1239L1750.3,1239L1753.3,1239L1756.3,1239L1759.3,1239L1762.3,1239L1765.3,1239L1768.3,1239L1771.3,1239L1774.3,1239L1777.3,1239L1780.3,1239L1783.3,1239L1786.3,1239L1789.3,1239L1792.3,1239L1795.3,1239L1798.4,1239L1801.4,1239L1804.4,1239L1807.4,1239L1810.4,1239L1813.4,1239L1816.4,1239L1819.4,1239L1822.4,1239L1825.4,1239L1828.4,1239L1831.4,1239L1834.4,1239L1837.4,1239L1840.4,1239.1L1843.4,1239.1L1846.4,1239.2L1849.4,1239.3L1852.4,1239.4L1855.4,1239.4L1858.4,1239.5L1861.4,1239.6L1864.4,1239.7L1867.4,1239.8L1870.4,1239.9L1873.4,1240L1876.5,1240.1L1879.5,1240.2L1882.5,1240.3L1885.5,1240.4L1888.5,1240.4L1891.5,1240.5L1894.5,1240.5L1897.5,1240.6L1900.5,1240.6L1903.5,1240.6L1906.5,1240.6L1909.5,1240.6L1912.5,1240.6L1915.5,1240.6L1918.5,1240.6L1921.5,1240.6L1924.5,1240.6L1927.5,1240.6L1930.5,1240.6L1933.5,1240.6L1936.5,1240.6L1939.5,1240.6L1942.5,1240.5L1945.5,1240.5L1948.6,1240.5L1951.6,1240.5L1954.6,1240.5L1957.6,1240.5L1960.6,1240.5L1963.6,1240.5L1966.6,1240.5L1969.6,1240.4L1972.6,1240.4L1975.6,1240.4L1978.6,1240.4L1981.6,1240.4L1984.6,1240.4L1987.6,1240.4L1990.6,1240.4L1993.6,1240.4L1996.6,1240.3L1999.6,1240.3L2002.6,1240.3L2005.6,1240.3L2008.6,1240.3L2011.6,1240.3L2014.6,1240.3L2017.7,1240.2L2020.7,1240.2L2023.7,1240.2L2026.7,1240.2L2029.7,1240.1L2032.7,1240.1L2035.7,1240.1L2038.7,1240L2041.7,1240L2044.7,1240L2047.7,1239.9L2050.7,1239.9L2053.7,1239.9L2056.7,1239.9L2059.7,1239.9L2062.7,1239.8L2065.7,1239.8L2068.7,1239.8L2071.7,1239.8L2074.7,1239.8L2077.7,1239.8L2080.7,1239.8L2083.7,1239.8L2086.8,1239.8L2089.8,1239.9L2092.8,1240L2095.8,1240.1L2098.8,1240.2L2101.8,1240.4L2104.8,1240.6L2107.8,1240.8L2110.8,1240.9L2113.8,1241.1L2116.8,1241.3L2119.8,1241.5L2122.8,1241.7L2125.8,1241.9L2128.8,1242.1L2131.8,1242.2L2134.8,1242.4L2137.8,1242.5L2140.8,1242.7L2143.8,1242.8L2146.8,1242.9L2149.8,1243.1L2152.8,1243.2L2155.8,1243.3L2158.8,1243.4L2161.8,1243.6L2164.8,1243.7L2167.8,1243.8L2170.8,1243.9L2173.8,1244L2176.8,1244.1L2179.8,1244.2L2182.8,1244.3L2185.8,1244.4L2188.8,1244.5L2191.8,1244.5L2194.8,1244.6L2197.8,1244.7L2200.8,1244.7L2203.8,1244.8L2206.8,1244.8L2209.8,1244.9L2212.8,1244.9L2215.8,1245L2218.8,1245L2221.8,1245.1L2224.8,1245.1L2227.8,1245.2L2230.8,1245.2L2233.8,1245.3L2236.9,1245.3L2239.9,1245.4L2242.9,1245.4L2245.9,1245.4L2248.9,1245.5L2251.9,1245.5L2254.9,1245.6L2257.9,1245.6L2260.9,1245.7L2263.9,1245.7L2266.9,1245.7L2269.9,1245.8L2272.9,1245.8L2275.9,1245.9L2278.9,1245.9L2281.9,1246L2284.9,1246L2287.9,1246.1L2290.9,1246.1L2293.9,1246.1L2296.9,1246.2L2299.9,1246.2L2302.9,1246.3L2305.9,1246.3L2309,1246.3L2312,1246.4L2315,1246.4L2318,1246.4L2321,1246.5L2324,1246.5L2327,1246.5L2330,1246.5L2333,1246.5L2336,1246.5L2339,1246.5L2342,1246.5"/></g>
<g stroke="#34ac6c"><path class="c" d="M180,1049.4L183,1049.4L186,1049.4L189,1049.4L192,1049.4L195,1049.5L198,1049.5L201,1049.5L204.1,1049.5L207.1,1049.5L210.1,1049.5L213.1,1049.5L216.1,1049.5L219.1,1049.5L222.1,1049.5L225.1,1049.5L228.1,1049.4L231.1,1049.4L234.1,1049.4L237.1,1049.4L240.1,1049.4L243.1,1049.4L246.2,1049.4L249.2,1049.4L252.2,1049.4L255.2,1049.3L258.2,1049.3L261.2,1049.3L264.2,1049.3L267.2,1049.3L270.2,1049.2L273.2,1049.2L276.2,1049.2L279.2,1049.2L282.2,1049.1L285.2,1049.1L288.2,1049.1L291.3,1049.1L294.3,1049L297.3,1049L300.3,1049L303.3,1048.9L306.3,1048.9L309.3,1048.9L312.3,1048.8L315.3,1048.8L318.3,1048.8L321.3,1048.7L324.3,1048.7L327.3,1048.6L330.3,1048.6L333.4,1048.5L336.4,1048.5L339.4,1048.4L342.4,1048.3L345.4,1048.3L348.4,1048.2L351.4,1048.1L354.4,1048L357.4,1048L360.4,1047.9L363.4,1047.8L366.4,1047.7L369.4,1047.6L372.4,1047.5L375.4,1047.4L378.4,1047.4L381.4,1047.3L384.5,1047.2L387.5,1047.1L390.5,1047L393.5,1046.9L396.5,1046.7L399.5,1046.6L402.5,1046.5L405.5,1046.4L408.5,1046.3L411.5,1046.2L414.5,1046.1L417.5,1046L420.5,1045.8L423.5,1045.7L426.5,1045.6L429.5,1045.5L432.5,1045.3L435.5,1045.2L438.5,1045.1L441.5,1045L444.5,1044.8L447.5,1044.7L450.6,1044.5L453.6,1044.4L456.6,1044.2L459.6,1044.1L462.6,1043.9L465.6,1043.8L468.6,1043.6L471.6,1043.4L474.6,1043.2L477.6,1043L480.6,1042.9L483.6,1042.7L486.6,1042.5L489.6,1042.3L492.6,1042L495.6,1041.8L498.6,1041.6L501.6,1041.4L504.6,1041.2L507.6,1040.9L510.6,1040.7L513.6,1040.5L516.6,1040.2L519.6,1040L522.6,1039.7L525.6,1039.5L528.5,1039.2L531.5,1039L534.5,1038.7L537.5,1038.4L540.5,1038.1L543.5,1037.9L546.5,1037.6L549.5,1037.3L552.5,1037L555.5,1036.7L558.5,1036.4L561.5,1036.1L564.5,1035.8L567.5,1035.5L570.5,1035.2L573.4,1034.9L576.4,1034.6L579.4,1034.3L582.4,1033.9L585.4,1033.6L588.4,1033.3L591.4,1033L594.4,1032.7L597.4,1032.3L600.4,1032L603.3,1031.7L606.3,1031.4L609.3,1031.1L612.3,1030.8L615.3,1030.5L618.3,1030.2L621.3,1029.9L624.3,1029.6L627.3,1029.3L630.3,1029L633.3,1028.7L636.3,1028.4L639.3,1028.2L642.2,1027.9L645.2,1027.6L648.2,1027.3L651.2,1027L654.2,1026.7L657.2,1026.4L660.2,1026L663.2,1025.7L666.2,1025.3L669.2,1025L672.1,1024.6L675.1,1024.2L678.1,1023.8L681.1,1023.3L684,1022.9L687,1022.4L690,1021.9L692.9,1021.4L695.9,1020.8L698.8,1020.2L701.8,1019.6L704.7,1019L707.7,1018.3L710.6,1017.6L713.5,1016.9L716.4,1016.2L719.4,1015.5L722.3,1014.8L725.2,1014.1L728.1,1013.4L731,1012.7L734,1011.9L736.9,1011.2L739.8,1010.5L742.7,1009.9L745.7,1009.2L748.6,1008.5L751.5,1007.8L754.4,1007.1L757.4,1006.4L760.3,1005.7L763.2,1005L766.1,1004.3L769.1,1003.6L772,1003L774.9,1002.3L777.9,1001.6L780.8,1000.9L783.7,1000.2L786.6,999.5L789.6,998.8L792.5,998.2L795.4,997.6L798.4,996.9L801.3,996.3L804.3,995.7L807.2,995.1L810.2,994.5L813.1,993.9L816,993.2L819,992.5L821.9,991.7L824.7,990.7L827.5,989.6L830.3,988.4L832.9,987L835.4,985.3L837.7,983.4L839.8,981.2L841.7,978.9L843.5,976.5L845.1,974L846.7,971.4L848.1,968.7L849.4,966L850.6,963.3L851.7,960.5L852.8,957.7L853.8,954.9L854.8,952L855.8,949.2L856.7,946.3L857.7,943.5L858.6,940.6L859.5,937.7L860.5,934.9L861.4,932L862.5,929.2L863.6,926.4L864.8,923.7L866.2,921L868,918.6L870,916.4L872.5,914.7L875.4,914.2L878.2,915.3L880.4,917.2L882.3,919.6L884,922.1L885.6,924.6L887,927.3L888.4,930L889.7,932.7L890.9,935.4L892.2,938.2L893.4,940.9L894.6,943.6L895.9,946.3L897.3,949L898.8,951.7L900.3,954.2L902,956.7L903.8,959.1L905.8,961.4L907.8,963.6L910,965.7L912.3,967.6L914.8,969.2L917.6,970.5L920.5,971.2L923.5,971.4L926.5,971.2L929.4,970.7L932.3,969.9L935.2,969L938,967.8L940.6,966.3L943,964.5L945.2,962.5L947.3,960.3L949.1,957.9L950.8,955.5L952.4,952.9L953.9,950.3L955.4,947.7L956.8,945L958.2,942.4L959.5,939.7L960.8,937L962.1,934.3L963.4,931.6L964.8,928.8L966.1,926.1L967.4,923.4L968.6,920.7L969.9,918L971.2,915.3L972.5,912.5L973.8,909.8L975,907.1L976.3,904.4L977.6,901.6L978.8,898.9L980.1,896.2L981.4,893.5L982.6,890.7L983.9,888L985.1,885.3L986.3,882.5L987.5,879.8L988.7,877L989.9,874.2L991.1,871.4L992.2,868.7L993.3,865.9L994.4,863.1L995.4,860.2L996.5,857.4L997.5,854.6L998.5,851.8L999.5,848.9L1000.5,846.1L1001.5,843.3L1002.6,840.4L1003.7,837.7L1004.9,834.9L1006.3,832.2L1007.9,829.7L1009.7,827.3L1012.1,825.5L1015,825.1L1017.5,826.7L1019.3,829.1L1020.6,831.8L1021.7,834.6L1022.7,837.5L1023.5,840.3L1024.3,843.3L1025,846.2L1025.7,849.1L1026.3,852L1026.9,855L1027.6,857.9L1028.1,860.9L1028.7,863.8L1029.3,866.8L1029.9,869.7L1030.4,872.7L1031,875.6L1031.5,878.6L1032.1,881.6L1032.6,884.5L1033.1,887.5L1033.7,890.4L1034.2,893.4L1034.7,896.4L1035.3,899.3L1035.8,902.3L1036.3,905.2L1036.9,908.2L1037.4,911.1L1038,914.1L1038.6,917.1L1039.1,920L1039.7,923L1040.3,925.9L1040.9,928.8L1041.5,931.8L1042.1,934.7L1042.8,937.7L1043.4,940.6L1044,943.6L1044.7,946.5L1045.3,949.4L1046,952.4L1046.7,955.3L1047.5,958.2L1048.2,961.1L1049,964L1049.9,966.9L1050.7,969.8L1051.7,972.6L1052.6,975.5L1053.7,978.3L1054.7,981.1L1055.9,983.9L1057.1,986.6L1058.5,989.3L1060.1,991.9L1061.9,994.3L1064,996.4L1066.4,998.2L1069.1,999.6L1071.9,1000.5L1074.9,1001L1077.9,1001.3L1080.9,1001.7L1083.8,1002.2L1086.8,1002.7L1089.8,1003.2L1092.7,1003.8L1095.7,1004.4L1098.6,1005.1L1101.5,1005.9L1104.4,1006.7L1107.3,1007.5L1110.2,1008.3L1113.1,1009L1116,1009.6L1119,1010.3L1121.9,1010.9L1124.9,1011.4L1127.8,1011.9L1130.8,1012.3L1133.8,1012.6L1136.8,1012.8L1139.8,1013L1142.8,1013L1145.8,1013L1148.8,1012.9L1151.8,1012.7L1154.8,1012.5L1157.8,1012.2L1160.8,1012L1163.8,1011.8L1166.8,1011.5L1169.8,1011.4L1172.8,1011.3L1175.8,1011.2L1178.8,1011.3L1181.8,1011.5L1184.8,1011.8L1187.8,1012.2L1190.8,1012.6L1193.7,1013.2L1196.7,1014L1199.5,1014.8L1202.4,1015.7L1205.3,1016.5L1208.2,1017.3L1211.1,1018.1L1214.1,1018.6L1217.1,1019L1220,1019.4L1223,1019.7L1226,1020L1229,1020.3L1232,1020.5L1235,1020.8L1238,1021L1241,1021.1L1244,1021.2L1247,1021.3L1250,1021.4L1253,1021.4L1256,1021.4L1259.1,1021.3L1262.1,1021.2L1265.1,1021L1268.1,1020.7L1271,1020.4L1274,1020L1277,1019.6L1280,1019.2L1283,1018.7L1285.9,1018.3L1288.9,1017.9L1291.9,1017.4L1294.8,1016.8L1297.8,1016.2L1300.7,1015.5L1303.6,1014.8L1306.6,1014.2L1309.5,1013.6L1312.5,1013.1L1315.5,1012.9L1318.5,1012.9L1321.5,1013.1L1324.5,1013.5L1327.4,1014.2L1330.3,1015L1333.1,1016L1335.9,1017.2L1338.5,1018.6L1341.2,1020L1343.8,1021.4L1346.5,1022.8L1349.2,1024.1L1352,1025.4L1354.7,1026.6L1357.5,1027.8L1360.3,1028.9L1363.1,1029.8L1366,1030.6L1368.9,1031.3L1371.9,1032L1374.8,1032.5L1377.8,1032.9L1380.8,1033.3L1383.8,1033.5L1386.8,1033.7L1389.8,1033.9L1392.8,1034.1L1395.8,1034.2L1398.8,1034.4L1401.8,1034.5L1404.8,1034.6L1407.8,1034.8L1410.8,1034.9L1413.8,1035L1416.8,1035.2L1419.8,1035.3L1422.8,1035.5L1425.8,1035.7L1428.8,1035.9L1431.8,1036.1L1434.8,1036.3L1437.8,1036.5L1440.8,1036.7L1443.8,1037L1446.8,1037.2L1449.8,1037.4L1452.8,1037.7L1455.8,1037.9L1458.8,1038.1L1461.8,1038.3L1464.8,1038.5L1467.8,1038.7L1470.8,1038.9L1473.8,1039.1L1476.8,1039.2L1479.8,1039.4L1482.8,1039.5L1485.8,1039.7L1488.8,1039.8L1491.8,1039.9L1494.9,1040L1497.9,1040L1500.9,1040.1L1503.9,1040.1L1506.9,1040L1509.9,1039.9L1512.9,1039.7L1515.9,1039.5L1518.9,1039.3L1521.9,1039.1L1524.9,1038.9L1527.9,1038.7L1530.9,1038.5L1533.9,1038.3L1536.9,1038.1L1539.9,1037.9L1542.9,1037.7L1545.9,1037.6L1548.9,1037.4L1551.9,1037.4L1554.9,1037.5L1557.9,1037.6L1560.9,1037.9L1563.9,1038.2L1566.9,1038.6L1569.9,1038.9L1572.9,1039.3L1575.8,1039.6L1578.8,1040L1581.8,1040.4L1584.8,1040.8L1587.8,1041.3L1590.7,1041.7L1593.7,1042.2L1596.7,1042.5L1599.7,1042.9L1602.7,1043.1L1605.7,1043.3L1608.7,1043.5L1611.7,1043.6L1614.7,1043.8L1617.7,1043.9L1620.7,1044L1623.7,1044.1L1626.7,1044.2L1629.7,1044.3L1632.7,1044.4L1635.7,1044.5L1638.7,1044.6L1641.7,1044.7L1644.7,1044.8L1647.7,1044.9L1650.7,1044.9L1653.8,1045L1656.8,1045.1L1659.8,1045.2L1662.8,1045.3L1665.8,1045.4L1668.8,1045.5L1671.8,1045.6L1674.8,1045.7L1677.8,1045.8L1680.8,1045.9L1683.8,1045.9L1686.8,1046L1689.8,1046.1L1692.8,1046.2L1695.8,1046.2L1698.8,1046.3L1701.8,1046.3L1704.9,1046.4L1707.9,1046.4L1710.9,1046.4L1713.9,1046.4L1716.9,1046.4L1719.9,1046.4L1722.9,1046.3L1725.9,1046.3L1728.9,1046.3L1731.9,1046.2L1734.9,1046.2L1737.9,1046.1L1740.9,1046L1743.9,1046L1746.9,1045.9L1750,1045.9L1753,1045.8L1756,1045.8L1759,1045.7L1762,1045.7L1765,1045.6L1768,1045.6L1771,1045.6L1774,1045.6L1777,1045.6L1780,1045.6L1783,1045.6L1786,1045.6L1789,1045.6L1792,1045.6L1795.1,1045.6L1798.1,1045.7L1801.1,1045.7L1804.1,1045.7L1807.1,1045.7L1810.1,1045.7L1813.1,1045.8L1816.1,1045.8L1819.1,1045.8L1822.1,1045.8L1825.1,1045.9L1828.1,1045.9L1831.1,1045.9L1834.1,1046L1837.1,1046L1840.2,1046.1L1843.2,1046.1L1846.2,1046.2L1849.2,1046.3L1852.2,1046.4L1855.2,1046.5L1858.2,1046.6L1861.2,1046.7L1864.2,1046.8L1867.2,1046.9L1870.2,1047L1873.2,1047.1L1876.2,1047.2L1879.2,1047.3L1882.2,1047.4L1885.2,1047.5L1888.2,1047.5L1891.3,1047.6L1894.3,1047.6L1897.3,1047.7L1900.3,1047.7L1903.3,1047.7L1906.3,1047.7L1909.3,1047.7L1912.3,1047.7L1915.3,1047.7L1918.3,1047.7L1921.3,1047.7L1924.3,1047.7L1927.3,1047.7L1930.3,1047.6L1933.3,1047.6L1936.4,1047.6L1939.4,1047.6L1942.4,1047.6L1945.4,1047.5L1948.4,1047.5L1951.4,1047.5L1954.4,1047.5L1957.4,1047.4L1960.4,1047.4L1963.4,1047.4L1966.4,1047.3L1969.4,1047.3L1972.4,1047.3L1975.4,1047.2L1978.5,1047.2L1981.5,1047.2L1984.5,1047.1L1987.5,1047.1L1990.5,1047.1L1993.5,1047L1996.5,1047L1999.5,1047L2002.5,1046.9L2005.5,1046.9L2008.5,1046.9L2011.5,1046.8L2014.5,1046.8L2017.5,1046.7L2020.5,1046.7L2023.6,1046.6L2026.6,1046.5L2029.6,1046.5L2032.6,1046.4L2035.6,1046.3L2038.6,1046.3L2041.6,1046.2L2044.6,1046.1L2047.6,1046L2050.6,1046L2053.6,1045.9L2056.6,1045.9L2059.6,1045.8L2062.6,1045.7L2065.6,1045.7L2068.6,1045.7L2071.7,1045.6L2074.7,1045.6L2077.7,1045.6L2080.7,1045.6L2083.7,1045.6L2086.7,1045.7L2089.7,1045.8L2092.7,1045.9L2095.7,1046.1L2098.7,1046.4L2101.7,1046.6L2104.7,1046.9L2107.7,1047.1L2110.7,1047.3L2113.7,1047.6L2116.7,1047.8L2119.7,1048.1L2122.7,1048.4L2125.7,1048.6L2128.7,1048.9L2131.6,1049.2L2134.6,1049.5L2137.6,1049.8L2140.6,1050.1L2143.6,1050.3L2146.6,1050.6L2149.6,1050.8L2152.6,1051L2155.6,1051.2L2158.6,1051.4L2161.6,1051.5L2164.6,1051.7L2167.6,1051.8L2170.6,1051.9L2173.6,1052L2176.6,1052.1L2179.6,1052.2L2182.7,1052.3L2185.7,1052.4L2188.7,1052.5L2191.7,1052.6L2194.7,1052.7L2197.7,1052.8L2200.7,1052.8L2203.7,1052.9L2206.7,1053L2209.7,1053.1L2212.7,1053.1L2215.7,1053.2L2218.7,1053.2L2221.7,1053.3L2224.7,1053.4L2227.7,1053.4L2230.8,1053.5L2233.8,1053.5L2236.8,1053.6L2239.8,1053.6L2242.8,1053.7L2245.8,1053.7L2248.8,1053.8L2251.8,1053.9L2254.8,1053.9L2257.8,1054L2260.8,1054L2263.8,1054.1L2266.8,1054.1L2269.8,1054.2L2272.8,1054.2L2275.9,1054.3L2278.9,1054.3L2281.9,1054.4L2284.9,1054.4L2287.9,1054.5L2290.9,1054.5L2293.9,1054.6L2296.9,1054.6L2299.9,1054.7L2302.9,1054.7L2305.9,1054.7L2308.9,1054.8L2311.9,1054.8L2314.9,1054.8L2317.9,1054.8L2321,1054.9L2324,1054.9L2327,1054.9L2330,1054.9L2333,1054.9L2336,1054.9L2339,1054.9L2342,1054.9"/><path class="ci" d="M180,1049.4L183,1049.4L186,1049.4L189,1049.4L192,1049.4L195,1049.5L198,1049.5L201,1049.5L204.1,1049.5L207.1,1049.5L210.1,1049.5L213.1,1049.5L216.1,1049.5L219.1,1049.5L222.1,1049.5L225.1,1049.5L228.1,1049.4L231.1,1049.4L234.1,1049.4L237.1,1049.4L240.1,1049.4L243.1,1049.4L246.2,1049.4L249.2,1049.4L252.2,1049.4L255.2,1049.3L258.2,1049.3L261.2,1049.3L264.2,1049.3L267.2,1049.3L270.2,1049.2L273.2,1049.2L276.2,1049.2L279.2,1049.2L282.2,1049.1L285.2,1049.1L288.2,1049.1L291.3,1049.1L294.3,1049L297.3,1049L300.3,1049L303.3,1048.9L306.3,1048.9L309.3,1048.9L312.3,1048.8L315.3,1048.8L318.3,1048.8L321.3,1048.7L324.3,1048.7L327.3,1048.6L330.3,1048.6L333.4,1048.5L336.4,1048.5L339.4,1048.4L342.4,1048.3L345.4,1048.3L348.4,1048.2L351.4,1048.1L354.4,1048L357.4,1048L360.4,1047.9L363.4,1047.8L366.4,1047.7L369.4,1047.6L372.4,1047.5L375.4,1047.4L378.4,1047.4L381.4,1047.3L384.5,1047.2L387.5,1047.1L390.5,1047L393.5,1046.9L396.5,1046.7L399.5,1046.6L402.5,1046.5L405.5,1046.4L408.5,1046.3L411.5,1046.2L414.5,1046.1L417.5,1046L420.5,1045.8L423.5,1045.7L426.5,1045.6L429.5,1045.5L432.5,1045.3L435.5,1045.2L438.5,1045.1L441.5,1045L444.5,1044.8L447.5,1044.7L450.6,1044.5L453.6,1044.4L456.6,1044.2L459.6,1044.1L462.6,1043.9L465.6,1043.8L468.6,1043.6L471.6,1043.4L474.6,1043.2L477.6,1043L480.6,1042.9L483.6,1042.7L486.6,1042.5L489.6,1042.3L492.6,1042L495.6,1041.8L498.6,1041.6L501.6,1041.4L504.6,1041.2L507.6,1040.9L510.6,1040.7L513.6,1040.5L516.6,1040.2L519.6,1040L522.6,1039.7L525.6,1039.5L528.5,1039.2L531.5,1039L534.5,1038.7L537.5,1038.4L540.5,1038.1L543.5,1037.9L546.5,1037.6L549.5,1037.3L552.5,1037L555.5,1036.7L558.5,1036.4L561.5,1036.1L564.5,1035.8L567.5,1035.5L570.5,1035.2L573.4,1034.9L576.4,1034.6L579.4,1034.3L582.4,1033.9L585.4,1033.6L588.4,1033.3L591.4,1033L594.4,1032.7L597.4,1032.3L600.4,1032L603.3,1031.7L606.3,1031.4L609.3,1031.1L612.3,1030.8L615.3,1030.5L618.3,1030.2L621.3,1029.9L624.3,1029.6L627.3,1029.3L630.3,1029L633.3,1028.7L636.3,1028.4L639.3,1028.2L642.2,1027.9L645.2,1027.6L648.2,1027.3L651.2,1027L654.2,1026.7L657.2,1026.4L660.2,1026L663.2,1025.7L666.2,1025.3L669.2,1025L672.1,1024.6L675.1,1024.2L678.1,1023.8L681.1,1023.3L684,1022.9L687,1022.4L690,1021.9L692.9,1021.4L695.9,1020.8L698.8,1020.2L701.8,1019.6L704.7,1019L707.7,1018.3L710.6,1017.6L713.5,1016.9L716.4,1016.2L719.4,1015.5L722.3,1014.8L725.2,1014.1L728.1,1013.4L731,1012.7L734,1011.9L736.9,1011.2L739.8,1010.5L742.7,1009.9L745.7,1009.2L748.6,1008.5L751.5,1007.8L754.4,1007.1L757.4,1006.4L760.3,1005.7L763.2,1005L766.1,1004.3L769.1,1003.6L772,1003L774.9,1002.3L777.9,1001.6L780.8,1000.9L783.7,1000.2L786.6,999.5L789.6,998.8L792.5,998.2L795.4,997.6L798.4,996.9L801.3,996.3L804.3,995.7L807.2,995.1L810.2,994.5L813.1,993.9L816,993.2L819,992.5L821.9,991.7L824.7,990.7L827.5,989.6L830.3,988.4L832.9,987L835.4,985.3L837.7,983.4L839.8,981.2L841.7,978.9L843.5,976.5L845.1,974L846.7,971.4L848.1,968.7L849.4,966L850.6,963.3L851.7,960.5L852.8,957.7L853.8,954.9L854.8,952L855.8,949.2L856.7,946.3L857.7,943.5L858.6,940.6L859.5,937.7L860.5,934.9L861.4,932L862.5,929.2L863.6,926.4L864.8,923.7L866.2,921L868,918.6L870,916.4L872.5,914.7L875.4,914.2L878.2,915.3L880.4,917.2L882.3,919.6L884,922.1L885.6,924.6L887,927.3L888.4,930L889.7,932.7L890.9,935.4L892.2,938.2L893.4,940.9L894.6,943.6L895.9,946.3L897.3,949L898.8,951.7L900.3,954.2L902,956.7L903.8,959.1L905.8,961.4L907.8,963.6L910,965.7L912.3,967.6L914.8,969.2L917.6,970.5L920.5,971.2L923.5,971.4L926.5,971.2L929.4,970.7L932.3,969.9L935.2,969L938,967.8L940.6,966.3L943,964.5L945.2,962.5L947.3,960.3L949.1,957.9L950.8,955.5L952.4,952.9L953.9,950.3L955.4,947.7L956.8,945L958.2,942.4L959.5,939.7L960.8,937L962.1,934.3L963.4,931.6L964.8,928.8L966.1,926.1L967.4,923.4L968.6,920.7L969.9,918L971.2,915.3L972.5,912.5L973.8,909.8L975,907.1L976.3,904.4L977.6,901.6L978.8,898.9L980.1,896.2L981.4,893.5L982.6,890.7L983.9,888L985.1,885.3L986.3,882.5L987.5,879.8L988.7,877L989.9,874.2L991.1,871.4L992.2,868.7L993.3,865.9L994.4,863.1L995.4,860.2L996.5,857.4L997.5,854.6L998.5,851.8L999.5,848.9L1000.5,846.1L1001.5,843.3L1002.6,840.4L1003.7,837.7L1004.9,834.9L1006.3,832.2L1007.9,829.7L1009.7,827.3L1012.1,825.5L1015,825.1L1017.5,826.7L1019.3,829.1L1020.6,831.8L1021.7,834.6L1022.7,837.5L1023.5,840.3L1024.3,843.3L1025,846.2L1025.7,849.1L1026.3,852L1026.9,855L1027.6,857.9L1028.1,860.9L1028.7,863.8L1029.3,866.8L1029.9,869.7L1030.4,872.7L1031,875.6L1031.5,878.6L1032.1,881.6L1032.6,884.5L1033.1,887.5L1033.7,890.4L1034.2,893.4L1034.7,896.4L1035.3,899.3L1035.8,902.3L1036.3,905.2L1036.9,908.2L1037.4,911.1L1038,914.1L1038.6,917.1L1039.1,920L1039.7,923L1040.3,925.9L1040.9,928.8L1041.5,931.8L1042.1,934.7L1042.8,937.7L1043.4,940.6L1044,943.6L1044.7,946.5L1045.3,949.4L1046,952.4L1046.7,955.3L1047.5,958.2L1048.2,961.1L1049,964L1049.9,966.9L1050.7,969.8L1051.7,972.6L1052.6,975.5L1053.7,978.3L1054.7,981.1L1055.9,983.9L1057.1,986.6L1058.5,989.3L1060.1,991.9L1061.9,994.3L1064,996.4L1066.4,998.2L1069.1,999.6L1071.9,1000.5L1074.9,1001L1077.9,1001.3L1080.9,1001.7L1083.8,1002.2L1086.8,1002.7L1089.8,1003.2L1092.7,1003.8L1095.7,1004.4L1098.6,1005.1L1101.5,1005.9L1104.4,1006.7L1107.3,1007.5L1110.2,1008.3L1113.1,1009L1116,1009.6L1119,1010.3L1121.9,1010.9L1124.9,1011.4L1127.8,1011.9L1130.8,1012.3L1133.8,1012.6L1136.8,1012.8L1139.8,1013L1142.8,1013L1145.8,1013L1148.8,1012.9L1151.8,1012.7L1154.8,1012.5L1157.8,1012.2L1160.8,1012L1163.8,1011.8L1166.8,1011.5L1169.8,1011.4L1172.8,1011.3L1175.8,1011.2L1178.8,1011.3L1181.8,1011.5L1184.8,1011.8L1187.8,1012.2L1190.8,1012.6L1193.7,1013.2L1196.7,1014L1199.5,1014.8L1202.4,1015.7L1205.3,1016.5L1208.2,1017.3L1211.1,1018.1L1214.1,1018.6L1217.1,1019L1220,1019.4L1223,1019.7L1226,1020L1229,1020.3L1232,1020.5L1235,1020.8L1238,1021L1241,1021.1L1244,1021.2L1247,1021.3L1250,1021.4L1253,1021.4L1256,1021.4L1259.1,1021.3L1262.1,1021.2L1265.1,1021L1268.1,1020.7L1271,1020.4L1274,1020L1277,1019.6L1280,1019.2L1283,1018.7L1285.9,1018.3L1288.9,1017.9L1291.9,1017.4L1294.8,1016.8L1297.8,1016.2L1300.7,1015.5L1303.6,1014.8L1306.6,1014.2L1309.5,1013.6L1312.5,1013.1L1315.5,1012.9L1318.5,1012.9L1321.5,1013.1L1324.5,1013.5L1327.4,1014.2L1330.3,1015L1333.1,1016L1335.9,1017.2L1338.5,1018.6L1341.2,1020L1343.8,1021.4L1346.5,1022.8L1349.2,1024.1L1352,1025.4L1354.7,1026.6L1357.5,1027.8L1360.3,1028.9L1363.1,1029.8L1366,1030.6L1368.9,1031.3L1371.9,1032L1374.8,1032.5L1377.8,1032.9L1380.8,1033.3L1383.8,1033.5L1386.8,1033.7L1389.8,1033.9L1392.8,1034.1L1395.8,1034.2L1398.8,1034.4L1401.8,1034.5L1404.8,1034.6L1407.8,1034.8L1410.8,1034.9L1413.8,1035L1416.8,1035.2L1419.8,1035.3L1422.8,1035.5L1425.8,1035.7L1428.8,1035.9L1431.8,1036.1L1434.8,1036.3L1437.8,1036.5L1440.8,1036.7L1443.8,1037L1446.8,1037.2L1449.8,1037.4L1452.8,1037.7L1455.8,1037.9L1458.8,1038.1L1461.8,1038.3L1464.8,1038.5L1467.8,1038.7L1470.8,1038.9L1473.8,1039.1L1476.8,1039.2L1479.8,1039.4L1482.8,1039.5L1485.8,1039.7L1488.8,1039.8L1491.8,1039.9L1494.9,1040L1497.9,1040L1500.9,1040.1L1503.9,1040.1L1506.9,1040L1509.9,1039.9L1512.9,1039.7L1515.9,1039.5L1518.9,1039.3L1521.9,1039.1L1524.9,1038.9L1527.9,1038.7L1530.9,1038.5L1533.9,1038.3L1536.9,1038.1L1539.9,1037.9L1542.9,1037.7L1545.9,1037.6L1548.9,1037.4L1551.9,1037.4L1554.9,1037.5L1557.9,1037.6L1560.9,1037.9L1563.9,1038.2L1566.9,1038.6L1569.9,1038.9L1572.9,1039.3L1575.8,1039.6L1578.8,1040L1581.8,1040.4L1584.8,1040.8L1587.8,1041.3L1590.7,1041.7L1593.7,1042.2L1596.7,1042.5L1599.7,1042.9L1602.7,1043.1L1605.7,1043.3L1608.7,1043.5L1611.7,1043.6L1614.7,1043.8L1617.7,1043.9L1620.7,1044L1623.7,1044.1L1626.7,1044.2L1629.7,1044.3L1632.7,1044.4L1635.7,1044.5L1638.7,1044.6L1641.7,1044.7L1644.7,1044.8L1647.7,1044.9L1650.7,1044.9L1653.8,1045L1656.8,1045.1L1659.8,1045.2L1662.8,1045.3L1665.8,1045.4L1668.8,1045.5L1671.8,1045.6L1674.8,1045.7L1677.8,1045.8L1680.8,1045.9L1683.8,1045.9L1686.8,1046L1689.8,1046.1L1692.8,1046.2L1695.8,1046.2L1698.8,1046.3L1701.8,1046.3L1704.9,1046.4L1707.9,1046.4L1710.9,1046.4L1713.9,1046.4L1716.9,1046.4L1719.9,1046.4L1722.9,1046.3L1725.9,1046.3L1728.9,1046.3L1731.9,1046.2L1734.9,1046.2L1737.9,1046.1L1740.9,1046L1743.9,1046L1746.9,1045.9L1750,1045.9L1753,1045.8L1756,1045.8L1759,1045.7L1762,1045.7L1765,1045.6L1768,1045.6L1771,1045.6L1774,1045.6L1777,1045.6L1780,1045.6L1783,1045.6L1786,1045.6L1789,1045.6L1792,1045.6L1795.1,1045.6L1798.1,1045.7L1801.1,1045.7L1804.1,1045.7L1807.1,1045.7L1810.1,1045.7L1813.1,1045.8L1816.1,1045.8L1819.1,1045.8L1822.1,1045.8L1825.1,1045.9L1828.1,1045.9L1831.1,1045.9L1834.1,1046L1837.1,1046L1840.2,1046.1L1843.2,1046.1L1846.2,1046.2L1849.2,1046.3L1852.2,1046.4L1855.2,1046.5L1858.2,1046.6L1861.2,1046.7L1864.2,1046.8L1867.2,1046.9L1870.2,1047L1873.2,1047.1L1876.2,1047.2L1879.2,1047.3L1882.2,1047.4L1885.2,1047.5L1888.2,1047.5L1891.3,1047.6L1894.3,1047.6L1897.3,1047.7L1900.3,1047.7L1903.3,1047.7L1906.3,1047.7L1909.3,1047.7L1912.3,1047.7L1915.3,1047.7L1918.3,1047.7L1921.3,1047.7L1924.3,1047.7L1927.3,1047.7L1930.3,1047.6L1933.3,1047.6L1936.4,1047.6L1939.4,1047.6L1942.4,1047.6L1945.4,1047.5L1948.4,1047.5L1951.4,1047.5L1954.4,1047.5L1957.4,1047.4L1960.4,1047.4L1963.4,1047.4L1966.4,1047.3L1969.4,1047.3L1972.4,1047.3L1975.4,1047.2L1978.5,1047.2L1981.5,1047.2L1984.5,1047.1L1987.5,1047.1L1990.5,1047.1L1993.5,1047L1996.5,1047L1999.5,1047L2002.5,1046.9L2005.5,1046.9L2008.5,1046.9L2011.5,1046.8L2014.5,1046.8L2017.5,1046.7L2020.5,1046.7L2023.6,1046.6L2026.6,1046.5L2029.6,1046.5L2032.6,1046.4L2035.6,1046.3L2038.6,1046.3L2041.6,1046.2L2044.6,1046.1L2047.6,1046L2050.6,1046L2053.6,1045.9L2056.6,1045.9L2059.6,1045.8L2062.6,1045.7L2065.6,1045.7L2068.6,1045.7L2071.7,1045.6L2074.7,1045.6L2077.7,1045.6L2080.7,1045.6L2083.7,1045.6L2086.7,1045.7L2089.7,1045.8L2092.7,1045.9L2095.7,1046.1L2098.7,1046.4L2101.7,1046.6L2104.7,1046.9L2107.7,1047.1L2110.7,1047.3L2113.7,1047.6L2116.7,1047.8L2119.7,1048.1L2122.7,1048.4L2125.7,1048.6L2128.7,1048.9L2131.6,1049.2L2134.6,1049.5L2137.6,1049.8L2140.6,1050.1L2143.6,1050.3L2146.6,1050.6L2149.6,1050.8L2152.6,1051L2155.6,1051.2L2158.6,1051.4L2161.6,1051.5L2164.6,1051.7L2167.6,1051.8L2170.6,1051.9L2173.6,1052L2176.6,1052.1L2179.6,1052.2L2182.7,1052.3L2185.7,1052.4L2188.7,1052.5L2191.7,1052.6L2194.7,1052.7L2197.7,1052.8L2200.7,1052.8L2203.7,1052.9L2206.7,1053L2209.7,1053.1L2212.7,1053.1L2215.7,1053.2L2218.7,1053.2L2221.7,1053.3L2224.7,1053.4L2227.7,1053.4L2230.8,1053.5L2233.8,1053.5L2236.8,1053.6L2239.8,1053.6L2242.8,1053.7L2245.8,1053.7L2248.8,1053.8L2251.8,1053.9L2254.8,1053.9L2257.8,1054L2260.8,1054L2263.8,1054.1L2266.8,1054.1L2269.8,1054.2L2272.8,1054.2L2275.9,1054.3L2278.9,1054.3L2281.9,1054.4L2284.9,1054.4L2287.9,1054.5L2290.9,1054.5L2293.9,1054.6L2296.9,1054.6L2299.9,1054.7L2302.9,1054.7L2305.9,1054.7L2308.9,1054.8L2311.9,1054.8L2314.9,1054.8L2317.9,1054.8L2321,1054.9L2324,1054.9L2327,1054.9L2330,1054.9L2333,1054.9L2336,1054.9L2339,1054.9L2342,1054.9"/></g>
<g stroke="#af78dc"><path class="c" d="M180,799.1L183,799.1L186,799L189,799L192,798.9L195,798.8L198,798.8L201,798.7L204,798.7L207,798.6L210,798.6L213,798.5L216,798.5L219,798.4L222.1,798.4L225.1,798.3L228.1,798.2L231.1,798.2L234.1,798.1L237.1,798.1L240.1,798L243.1,797.9L246.1,797.9L249.1,797.8L252.1,797.8L255.1,797.7L258.1,797.6L261.1,797.6L264.1,797.5L267.1,797.5L270.1,797.4L273.1,797.3L276.1,797.3L279.1,797.2L282.1,797.1L285.1,797.1L288.1,797L291.1,797L294.1,796.9L297.1,796.8L300.1,796.8L303.1,796.7L306.1,796.6L309.2,796.6L312.2,796.5L315.2,796.4L318.2,796.4L321.2,796.3L324.2,796.2L327.2,796.2L330.2,796.1L333.2,796L336.2,796L339.2,795.9L342.2,795.8L345.2,795.7L348.2,795.7L351.2,795.6L354.2,795.5L357.2,795.5L360.2,795.4L363.2,795.3L366.2,795.2L369.2,795.2L372.2,795.1L375.2,795L378.2,794.9L381.2,794.8L384.2,794.8L387.2,794.7L390.2,794.6L393.2,794.5L396.2,794.4L399.2,794.4L402.3,794.3L405.3,794.2L408.3,794.1L411.3,794L414.3,793.9L417.3,793.8L420.3,793.8L423.3,793.7L426.3,793.6L429.3,793.5L432.3,793.4L435.3,793.3L438.3,793.2L441.3,793.1L444.3,793L447.3,792.9L450.3,792.8L453.3,792.7L456.3,792.6L459.3,792.5L462.3,792.4L465.3,792.3L468.3,792.2L471.3,792.1L474.3,792L477.3,791.8L480.3,791.7L483.3,791.6L486.3,791.4L489.3,791.3L492.3,791.2L495.3,791L498.3,790.9L501.3,790.7L504.3,790.5L507.3,790.4L510.3,790.2L513.3,790L516.3,789.8L519.3,789.6L522.3,789.4L525.3,789.2L528.3,788.9L531.3,788.7L534.3,788.5L537.3,788.2L540.3,788L543.3,787.7L546.3,787.4L549.3,787.1L552.2,786.8L555.2,786.6L558.2,786.3L561.2,785.9L564.2,785.6L567.2,785.3L570.2,785L573.2,784.7L576.1,784.4L579.1,784L582.1,783.7L585.1,783.4L588.1,783.1L591.1,782.7L594.1,782.4L597.1,782.1L600,781.8L603,781.4L606,781.1L609,780.8L612,780.5L615,780.2L618,779.9L621,779.6L623.9,779.3L626.9,779L629.9,778.7L632.9,778.4L635.9,778L638.9,777.7L641.9,777.4L644.9,777.1L647.9,776.8L650.8,776.5L653.8,776.2L656.8,775.9L659.8,775.5L662.8,775.2L665.8,774.9L668.8,774.5L671.7,774.2L674.7,773.9L677.7,773.5L680.7,773.1L683.7,772.8L686.7,772.4L689.6,772L692.6,771.6L695.6,771.2L698.6,770.8L701.5,770.3L704.5,769.8L707.4,769.3L710.4,768.7L713.4,768.2L716.3,767.6L719.2,767L722.2,766.4L725.1,765.8L728.1,765.2L731,764.5L733.9,763.9L736.9,763.2L739.8,762.5L742.7,761.9L745.7,761.2L748.6,760.5L751.5,759.8L754.4,759.1L757.3,758.4L760.3,757.7L763.2,757L766.1,756.3L769,755.6L771.9,754.9L774.9,754.2L777.8,753.5L780.7,752.8L783.6,752L786.5,751.3L789.5,750.6L792.4,749.9L795.3,749.3L798.2,748.6L801.2,747.9L804.1,747.2L807,746.6L809.9,745.9L812.9,745.1L815.8,744.4L818.7,743.6L821.5,742.7L824.3,741.7L827.1,740.4L829.7,739L832.3,737.5L834.8,735.8L837.1,733.8L839.1,731.6L840.8,729.2L842.4,726.6L843.8,723.9L845,721.2L846.1,718.4L847.1,715.6L848,712.7L848.9,709.8L849.7,706.9L850.6,704L851.4,701.1L852.1,698.3L852.9,695.4L853.7,692.5L854.6,689.6L855.4,686.7L856.2,683.8L857,680.9L857.9,678L858.8,675.1L859.6,672.3L860.6,669.4L861.6,666.6L862.6,663.8L863.9,661L865.3,658.4L867.1,656L869.4,654.1L872.3,653.5L875,654.7L877.1,656.9L878.7,659.4L880,662.1L881.1,664.9L882.2,667.7L883.2,670.5L884.2,673.4L885.1,676.2L886.1,679.1L887.1,681.9L888.1,684.7L889.1,687.6L890.1,690.4L891.1,693.2L892.2,696L893.3,698.8L894.5,701.6L895.8,704.3L897.1,707L898.6,709.6L900.2,712.1L901.9,714.6L903.7,717L905.8,719.2L908,721.2L910.5,722.8L913.3,723.9L916.3,724.4L919.3,724.3L922.3,724L925.2,723.4L928.1,722.5L930.9,721.4L933.5,720L936,718.3L938.3,716.3L940.4,714.2L942.4,712L944.2,709.6L945.9,707.1L947.5,704.6L949,701.9L950.4,699.3L951.8,696.6L953.1,693.9L954.3,691.2L955.6,688.4L956.8,685.7L957.9,682.9L959.1,680.2L960.2,677.4L961.4,674.6L962.6,671.8L963.8,669.1L965,666.3L966.2,663.6L967.5,660.9L968.7,658.1L970,655.4L971.3,652.7L972.7,650L974.1,647.4L975.5,644.7L976.9,642.1L978.3,639.4L979.7,636.8L981.2,634.1L982.6,631.5L984.1,628.9L985.6,626.3L987,623.7L988.5,621L989.9,618.4L991.4,615.7L992.8,613.1L994.2,610.4L995.5,607.8L996.9,605.1L998.3,602.4L999.7,599.8L1001.2,597.1L1002.8,594.6L1004.5,592.2L1006.5,590L1009,588.3L1012,588.4L1014.2,590.3L1015.8,592.8L1017.1,595.6L1018.1,598.4L1019,601.3L1019.8,604.2L1020.6,607.1L1021.3,610L1022,612.9L1022.6,615.8L1023.3,618.8L1023.9,621.7L1024.5,624.6L1025.2,627.6L1025.8,630.5L1026.4,633.5L1026.9,636.4L1027.5,639.4L1028.1,642.3L1028.7,645.3L1029.3,648.2L1029.9,651.2L1030.4,654.1L1031,657.1L1031.6,660L1032.1,663L1032.7,665.9L1033.2,668.9L1033.8,671.8L1034.4,674.8L1034.9,677.7L1035.5,680.7L1036.1,683.6L1036.7,686.6L1037.3,689.5L1037.9,692.4L1038.5,695.4L1039.1,698.3L1039.8,701.2L1040.5,704.2L1041.2,707.1L1041.9,710L1042.7,712.9L1043.5,715.8L1044.4,718.7L1045.3,721.5L1046.3,724.4L1047.4,727.2L1048.7,729.9L1050,732.6L1051.4,735.2L1053,737.8L1054.6,740.3L1056.4,742.7L1058.4,745L1060.6,747L1063.2,748.5L1066.1,749.5L1069,750L1072,750.5L1075,750.9L1077.9,751.4L1080.9,751.8L1083.9,752.3L1086.8,752.8L1089.8,753.2L1092.8,753.7L1095.7,754.1L1098.7,754.5L1101.7,754.9L1104.7,755.3L1107.6,755.8L1110.6,756.3L1113.5,756.9L1116.5,757.5L1119.4,758.1L1122.4,758.7L1125.3,759.2L1128.3,759.8L1131.2,760.3L1134.2,760.7L1137.2,761L1140.2,761.3L1143.2,761.4L1146.2,761.3L1149.2,761.2L1152.2,761L1155.2,760.7L1158.2,760.4L1161.2,760.1L1164.2,759.8L1167.2,759.6L1170.2,759.5L1173.2,759.5L1176.2,759.6L1179.2,759.9L1182.1,760.3L1185.1,760.8L1188,761.4L1191,762L1193.9,762.7L1196.8,763.5L1199.7,764.2L1202.6,765L1205.5,765.7L1208.5,766.4L1211.4,766.9L1214.4,767.2L1217.4,767.5L1220.4,767.8L1223.4,768.1L1226.4,768.3L1229.4,768.5L1232.4,768.6L1235.4,768.8L1238.4,768.9L1241.4,768.9L1244.4,769L1247.4,769L1250.4,769L1253.4,769L1256.4,768.9L1259.4,768.8L1262.4,768.6L1265.4,768.4L1268.4,768.1L1271.4,767.8L1274.4,767.4L1277.3,767L1280.3,766.6L1283.3,766.2L1286.3,765.7L1289.2,765.3L1292.2,764.8L1295.2,764.3L1298.1,763.7L1301,763L1304,762.4L1306.9,761.9L1309.9,761.4L1312.9,761.2L1315.9,761.2L1318.9,761.6L1321.8,762.1L1324.7,762.9L1327.6,763.8L1330.4,764.8L1333.2,765.9L1335.9,767.2L1338.6,768.5L1341.3,769.8L1344.1,771L1346.8,772.2L1349.6,773.4L1352.4,774.5L1355.2,775.5L1358.1,776.5L1360.9,777.4L1363.8,778.2L1366.7,778.9L1369.7,779.6L1372.6,780.1L1375.6,780.6L1378.6,780.9L1381.6,781.2L1384.6,781.3L1387.6,781.5L1390.6,781.7L1393.6,781.8L1396.6,781.9L1399.6,782L1402.6,782.2L1405.6,782.3L1408.6,782.4L1411.6,782.5L1414.6,782.6L1417.6,782.8L1420.6,782.9L1423.6,783L1426.6,783.2L1429.6,783.4L1432.6,783.6L1435.6,783.7L1438.6,783.9L1441.6,784.1L1444.6,784.3L1447.6,784.5L1450.6,784.7L1453.6,784.9L1456.6,785.1L1459.6,785.2L1462.6,785.4L1465.6,785.6L1468.6,785.8L1471.6,786L1474.6,786.1L1477.6,786.3L1480.6,786.5L1483.6,786.6L1486.6,786.8L1489.6,787L1492.6,787.1L1495.6,787.2L1498.6,787.3L1501.6,787.4L1504.6,787.5L1507.6,787.5L1510.6,787.4L1513.6,787.3L1516.6,787L1519.6,786.8L1522.6,786.5L1525.6,786.3L1528.6,786.2L1531.6,786L1534.6,785.9L1537.6,785.7L1540.6,785.6L1543.6,785.5L1546.6,785.5L1549.6,785.5L1552.6,785.6L1555.6,785.7L1558.6,785.9L1561.6,786.2L1564.6,786.5L1567.5,786.8L1570.5,787.1L1573.5,787.4L1576.5,787.8L1579.5,788.1L1582.5,788.5L1585.5,788.8L1588.4,789.2L1591.4,789.6L1594.4,789.9L1597.4,790.3L1600.4,790.5L1603.4,790.8L1606.4,791L1609.4,791.2L1612.4,791.3L1615.4,791.5L1618.4,791.6L1621.4,791.7L1624.4,791.9L1627.4,792L1630.4,792.1L1633.4,792.2L1636.4,792.3L1639.4,792.3L1642.4,792.4L1645.4,792.5L1648.4,792.5L1651.4,792.6L1654.4,792.7L1657.4,792.7L1660.4,792.8L1663.4,792.8L1666.4,792.9L1669.4,792.9L1672.4,793L1675.4,793L1678.4,793.1L1681.4,793.1L1684.4,793.2L1687.4,793.2L1690.4,793.3L1693.5,793.3L1696.5,793.3L1699.5,793.4L1702.5,793.4L1705.5,793.4L1708.5,793.4L1711.5,793.4L1714.5,793.4L1717.5,793.4L1720.5,793.4L1723.5,793.4L1726.5,793.4L1729.5,793.4L1732.5,793.4L1735.5,793.4L1738.5,793.4L1741.5,793.4L1744.5,793.3L1747.5,793.3L1750.5,793.3L1753.5,793.3L1756.5,793.3L1759.5,793.3L1762.5,793.3L1765.6,793.2L1768.6,793.2L1771.6,793.2L1774.6,793.2L1777.6,793.1L1780.6,793.1L1783.6,793L1786.6,793L1789.6,792.9L1792.6,792.8L1795.6,792.8L1798.6,792.7L1801.6,792.6L1804.6,792.5L1807.6,792.5L1810.6,792.4L1813.6,792.3L1816.6,792.3L1819.6,792.2L1822.6,792.2L1825.6,792.1L1828.6,792.1L1831.6,792.1L1834.6,792.1L1837.6,792.2L1840.6,792.2L1843.6,792.3L1846.6,792.4L1849.6,792.5L1852.7,792.7L1855.7,792.8L1858.7,793L1861.7,793.1L1864.7,793.3L1867.7,793.4L1870.7,793.6L1873.7,793.8L1876.7,793.9L1879.7,794.1L1882.7,794.2L1885.7,794.3L1888.7,794.4L1891.7,794.5L1894.7,794.6L1897.7,794.7L1900.7,794.7L1903.7,794.7L1906.7,794.7L1909.7,794.7L1912.7,794.7L1915.7,794.7L1918.7,794.7L1921.7,794.7L1924.7,794.7L1927.7,794.6L1930.7,794.6L1933.7,794.6L1936.7,794.6L1939.7,794.6L1942.7,794.6L1945.7,794.5L1948.7,794.5L1951.7,794.5L1954.7,794.5L1957.7,794.5L1960.8,794.4L1963.8,794.4L1966.8,794.4L1969.8,794.4L1972.8,794.3L1975.8,794.3L1978.8,794.3L1981.8,794.2L1984.8,794.2L1987.8,794.2L1990.8,794.2L1993.8,794.1L1996.8,794.1L1999.8,794.1L2002.8,794L2005.8,794L2008.8,794L2011.8,793.9L2014.8,793.9L2017.8,793.8L2020.8,793.8L2023.8,793.7L2026.8,793.7L2029.8,793.6L2032.8,793.5L2035.8,793.5L2038.9,793.4L2041.9,793.3L2044.9,793.3L2047.9,793.2L2050.9,793.1L2053.9,793.1L2056.9,793L2059.9,792.9L2062.9,792.9L2065.9,792.8L2068.9,792.8L2071.9,792.8L2074.9,792.7L2077.9,792.7L2080.9,792.7L2083.9,792.7L2086.9,792.7L2089.9,792.8L2092.9,793L2095.9,793.1L2098.9,793.3L2101.9,793.5L2104.9,793.7L2107.9,793.9L2110.9,794.1L2113.9,794.4L2116.9,794.6L2119.9,794.9L2122.9,795.1L2125.9,795.4L2128.9,795.7L2131.8,796L2134.8,796.3L2137.8,796.6L2140.8,796.9L2143.8,797.1L2146.8,797.4L2149.8,797.6L2152.8,797.9L2155.8,798.1L2158.8,798.2L2161.8,798.4L2164.8,798.5L2167.8,798.6L2170.8,798.7L2173.8,798.8L2176.8,798.9L2179.8,799L2182.8,799.1L2185.8,799.2L2188.8,799.3L2191.8,799.4L2194.8,799.5L2197.8,799.6L2200.8,799.6L2203.8,799.7L2206.8,799.8L2209.8,799.8L2212.8,799.9L2215.8,800L2218.8,800L2221.8,800.1L2224.9,800.2L2227.9,800.2L2230.9,800.3L2233.9,800.3L2236.9,800.4L2239.9,800.4L2242.9,800.5L2245.9,800.5L2248.9,800.6L2251.9,800.7L2254.9,800.7L2257.9,800.8L2260.9,800.8L2263.9,800.9L2266.9,800.9L2269.9,801L2272.9,801L2275.9,801.1L2278.9,801.1L2281.9,801.2L2284.9,801.2L2287.9,801.3L2290.9,801.3L2293.9,801.4L2296.9,801.4L2299.9,801.5L2302.9,801.5L2306,801.5L2309,801.6L2312,801.6L2315,801.6L2318,801.6L2321,801.7L2324,801.7L2327,801.7L2330,801.7L2333,801.7L2336,801.7L2339,801.7L2342,801.7"/><path class="ci" d="M180,799.1L183,799.1L186,799L189,799L192,798.9L195,798.8L198,798.8L201,798.7L204,798.7L207,798.6L210,798.6L213,798.5L216,798.5L219,798.4L222.1,798.4L225.1,798.3L228.1,798.2L231.1,798.2L234.1,798.1L237.1,798.1L240.1,798L243.1,797.9L246.1,797.9L249.1,797.8L252.1,797.8L255.1,797.7L258.1,797.6L261.1,797.6L264.1,797.5L267.1,797.5L270.1,797.4L273.1,797.3L276.1,797.3L279.1,797.2L282.1,797.1L285.1,797.1L288.1,797L291.1,797L294.1,796.9L297.1,796.8L300.1,796.8L303.1,796.7L306.1,796.6L309.2,796.6L312.2,796.5L315.2,796.4L318.2,796.4L321.2,796.3L324.2,796.2L327.2,796.2L330.2,796.1L333.2,796L336.2,796L339.2,795.9L342.2,795.8L345.2,795.7L348.2,795.7L351.2,795.6L354.2,795.5L357.2,795.5L360.2,795.4L363.2,795.3L366.2,795.2L369.2,795.2L372.2,795.1L375.2,795L378.2,794.9L381.2,794.8L384.2,794.8L387.2,794.7L390.2,794.6L393.2,794.5L396.2,794.4L399.2,794.4L402.3,794.3L405.3,794.2L408.3,794.1L411.3,794L414.3,793.9L417.3,793.8L420.3,793.8L423.3,793.7L426.3,793.6L429.3,793.5L432.3,793.4L435.3,793.3L438.3,793.2L441.3,793.1L444.3,793L447.3,792.9L450.3,792.8L453.3,792.7L456.3,792.6L459.3,792.5L462.3,792.4L465.3,792.3L468.3,792.2L471.3,792.1L474.3,792L477.3,791.8L480.3,791.7L483.3,791.6L486.3,791.4L489.3,791.3L492.3,791.2L495.3,791L498.3,790.9L501.3,790.7L504.3,790.5L507.3,790.4L510.3,790.2L513.3,790L516.3,789.8L519.3,789.6L522.3,789.4L525.3,789.2L528.3,788.9L531.3,788.7L534.3,788.5L537.3,788.2L540.3,788L543.3,787.7L546.3,787.4L549.3,787.1L552.2,786.8L555.2,786.6L558.2,786.3L561.2,785.9L564.2,785.6L567.2,785.3L570.2,785L573.2,784.7L576.1,784.4L579.1,784L582.1,783.7L585.1,783.4L588.1,783.1L591.1,782.7L594.1,782.4L597.1,782.1L600,781.8L603,781.4L606,781.1L609,780.8L612,780.5L615,780.2L618,779.9L621,779.6L623.9,779.3L626.9,779L629.9,778.7L632.9,778.4L635.9,778L638.9,777.7L641.9,777.4L644.9,777.1L647.9,776.8L650.8,776.5L653.8,776.2L656.8,775.9L659.8,775.5L662.8,775.2L665.8,774.9L668.8,774.5L671.7,774.2L674.7,773.9L677.7,773.5L680.7,773.1L683.7,772.8L686.7,772.4L689.6,772L692.6,771.6L695.6,771.2L698.6,770.8L701.5,770.3L704.5,769.8L707.4,769.3L710.4,768.7L713.4,768.2L716.3,767.6L719.2,767L722.2,766.4L725.1,765.8L728.1,765.2L731,764.5L733.9,763.9L736.9,763.2L739.8,762.5L742.7,761.9L745.7,761.2L748.6,760.5L751.5,759.8L754.4,759.1L757.3,758.4L760.3,757.7L763.2,757L766.1,756.3L769,755.6L771.9,754.9L774.9,754.2L777.8,753.5L780.7,752.8L783.6,752L786.5,751.3L789.5,750.6L792.4,749.9L795.3,749.3L798.2,748.6L801.2,747.9L804.1,747.2L807,746.6L809.9,745.9L812.9,745.1L815.8,744.4L818.7,743.6L821.5,742.7L824.3,741.7L827.1,740.4L829.7,739L832.3,737.5L834.8,735.8L837.1,733.8L839.1,731.6L840.8,729.2L842.4,726.6L843.8,723.9L845,721.2L846.1,718.4L847.1,715.6L848,712.7L848.9,709.8L849.7,706.9L850.6,704L851.4,701.1L852.1,698.3L852.9,695.4L853.7,692.5L854.6,689.6L855.4,686.7L856.2,683.8L857,680.9L857.9,678L858.8,675.1L859.6,672.3L860.6,669.4L861.6,666.6L862.6,663.8L863.9,661L865.3,658.4L867.1,656L869.4,654.1L872.3,653.5L875,654.7L877.1,656.9L878.7,659.4L880,662.1L881.1,664.9L882.2,667.7L883.2,670.5L884.2,673.4L885.1,676.2L886.1,679.1L887.1,681.9L888.1,684.7L889.1,687.6L890.1,690.4L891.1,693.2L892.2,696L893.3,698.8L894.5,701.6L895.8,704.3L897.1,707L898.6,709.6L900.2,712.1L901.9,714.6L903.7,717L905.8,719.2L908,721.2L910.5,722.8L913.3,723.9L916.3,724.4L919.3,724.3L922.3,724L925.2,723.4L928.1,722.5L930.9,721.4L933.5,720L936,718.3L938.3,716.3L940.4,714.2L942.4,712L944.2,709.6L945.9,707.1L947.5,704.6L949,701.9L950.4,699.3L951.8,696.6L953.1,693.9L954.3,691.2L955.6,688.4L956.8,685.7L957.9,682.9L959.1,680.2L960.2,677.4L961.4,674.6L962.6,671.8L963.8,669.1L965,666.3L966.2,663.6L967.5,660.9L968.7,658.1L970,655.4L971.3,652.7L972.7,650L974.1,647.4L975.5,644.7L976.9,642.1L978.3,639.4L979.7,636.8L981.2,634.1L982.6,631.5L984.1,628.9L985.6,626.3L987,623.7L988.5,621L989.9,618.4L991.4,615.7L992.8,613.1L994.2,610.4L995.5,607.8L996.9,605.1L998.3,602.4L999.7,599.8L1001.2,597.1L1002.8,594.6L1004.5,592.2L1006.5,590L1009,588.3L1012,588.4L1014.2,590.3L1015.8,592.8L1017.1,595.6L1018.1,598.4L1019,601.3L1019.8,604.2L1020.6,607.1L1021.3,610L1022,612.9L1022.6,615.8L1023.3,618.8L1023.9,621.7L1024.5,624.6L1025.2,627.6L1025.8,630.5L1026.4,633.5L1026.9,636.4L1027.5,639.4L1028.1,642.3L1028.7,645.3L1029.3,648.2L1029.9,651.2L1030.4,654.1L1031,657.1L1031.6,660L1032.1,663L1032.7,665.9L1033.2,668.9L1033.8,671.8L1034.4,674.8L1034.9,677.7L1035.5,680.7L1036.1,683.6L1036.7,686.6L1037.3,689.5L1037.9,692.4L1038.5,695.4L1039.1,698.3L1039.8,701.2L1040.5,704.2L1041.2,707.1L1041.9,710L1042.7,712.9L1043.5,715.8L1044.4,718.7L1045.3,721.5L1046.3,724.4L1047.4,727.2L1048.7,729.9L1050,732.6L1051.4,735.2L1053,737.8L1054.6,740.3L1056.4,742.7L1058.4,745L1060.6,747L1063.2,748.5L1066.1,749.5L1069,750L1072,750.5L1075,750.9L1077.9,751.4L1080.9,751.8L1083.9,752.3L1086.8,752.8L1089.8,753.2L1092.8,753.7L1095.7,754.1L1098.7,754.5L1101.7,754.9L1104.7,755.3L1107.6,755.8L1110.6,756.3L1113.5,756.9L1116.5,757.5L1119.4,758.1L1122.4,758.7L1125.3,759.2L1128.3,759.8L1131.2,760.3L1134.2,760.7L1137.2,761L1140.2,761.3L1143.2,761.4L1146.2,761.3L1149.2,761.2L1152.2,761L1155.2,760.7L1158.2,760.4L1161.2,760.1L1164.2,759.8L1167.2,759.6L1170.2,759.5L1173.2,759.5L1176.2,759.6L1179.2,759.9L1182.1,760.3L1185.1,760.8L1188,761.4L1191,762L1193.9,762.7L1196.8,763.5L1199.7,764.2L1202.6,765L1205.5,765.7L1208.5,766.4L1211.4,766.9L1214.4,767.2L1217.4,767.5L1220.4,767.8L1223.4,768.1L1226.4,768.3L1229.4,768.5L1232.4,768.6L1235.4,768.8L1238.4,768.9L1241.4,768.9L1244.4,769L1247.4,769L1250.4,769L1253.4,769L1256.4,768.9L1259.4,768.8L1262.4,768.6L1265.4,768.4L1268.4,768.1L1271.4,767.8L1274.4,767.4L1277.3,767L1280.3,766.6L1283.3,766.2L1286.3,765.7L1289.2,765.3L1292.2,764.8L1295.2,764.3L1298.1,763.7L1301,763L1304,762.4L1306.9,761.9L1309.9,761.4L1312.9,761.2L1315.9,761.2L1318.9,761.6L1321.8,762.1L1324.7,762.9L1327.6,763.8L1330.4,764.8L1333.2,765.9L1335.9,767.2L1338.6,768.5L1341.3,769.8L1344.1,771L1346.8,772.2L1349.6,773.4L1352.4,774.5L1355.2,775.5L1358.1,776.5L1360.9,777.4L1363.8,778.2L1366.7,778.9L1369.7,779.6L1372.6,780.1L1375.6,780.6L1378.6,780.9L1381.6,781.2L1384.6,781.3L1387.6,781.5L1390.6,781.7L1393.6,781.8L1396.6,781.9L1399.6,782L1402.6,782.2L1405.6,782.3L1408.6,782.4L1411.6,782.5L1414.6,782.6L1417.6,782.8L1420.6,782.9L1423.6,783L1426.6,783.2L1429.6,783.4L1432.6,783.6L1435.6,783.7L1438.6,783.9L1441.6,784.1L1444.6,784.3L1447.6,784.5L1450.6,784.7L1453.6,784.9L1456.6,785.1L1459.6,785.2L1462.6,785.4L1465.6,785.6L1468.6,785.8L1471.6,786L1474.6,786.1L1477.6,786.3L1480.6,786.5L1483.6,786.6L1486.6,786.8L1489.6,787L1492.6,787.1L1495.6,787.2L1498.6,787.3L1501.6,787.4L1504.6,787.5L1507.6,787.5L1510.6,787.4L1513.6,787.3L1516.6,787L1519.6,786.8L1522.6,786.5L1525.6,786.3L1528.6,786.2L1531.6,786L1534.6,785.9L1537.6,785.7L1540.6,785.6L1543.6,785.5L1546.6,785.5L1549.6,785.5L1552.6,785.6L1555.6,785.7L1558.6,785.9L1561.6,786.2L1564.6,786.5L1567.5,786.8L1570.5,787.1L1573.5,787.4L1576.5,787.8L1579.5,788.1L1582.5,788.5L1585.5,788.8L1588.4,789.2L1591.4,789.6L1594.4,789.9L1597.4,790.3L1600.4,790.5L1603.4,790.8L1606.4,791L1609.4,791.2L1612.4,791.3L1615.4,791.5L1618.4,791.6L1621.4,791.7L1624.4,791.9L1627.4,792L1630.4,792.1L1633.4,792.2L1636.4,792.3L1639.4,792.3L1642.4,792.4L1645.4,792.5L1648.4,792.5L1651.4,792.6L1654.4,792.7L1657.4,792.7L1660.4,792.8L1663.4,792.8L1666.4,792.9L1669.4,792.9L1672.4,793L1675.4,793L1678.4,793.1L1681.4,793.1L1684.4,793.2L1687.4,793.2L1690.4,793.3L1693.5,793.3L1696.5,793.3L1699.5,793.4L1702.5,793.4L1705.5,793.4L1708.5,793.4L1711.5,793.4L1714.5,793.4L1717.5,793.4L1720.5,793.4L1723.5,793.4L1726.5,793.4L1729.5,793.4L1732.5,793.4L1735.5,793.4L1738.5,793.4L1741.5,793.4L1744.5,793.3L1747.5,793.3L1750.5,793.3L1753.5,793.3L1756.5,793.3L1759.5,793.3L1762.5,793.3L1765.6,793.2L1768.6,793.2L1771.6,793.2L1774.6,793.2L1777.6,793.1L1780.6,793.1L1783.6,793L1786.6,793L1789.6,792.9L1792.6,792.8L1795.6,792.8L1798.6,792.7L1801.6,792.6L1804.6,792.5L1807.6,792.5L1810.6,792.4L1813.6,792.3L1816.6,792.3L1819.6,792.2L1822.6,792.2L1825.6,792.1L1828.6,792.1L1831.6,792.1L1834.6,792.1L1837.6,792.2L1840.6,792.2L1843.6,792.3L1846.6,792.4L1849.6,792.5L1852.7,792.7L1855.7,792.8L1858.7,793L1861.7,793.1L1864.7,793.3L1867.7,793.4L1870.7,793.6L1873.7,793.8L1876.7,793.9L1879.7,794.1L1882.7,794.2L1885.7,794.3L1888.7,794.4L1891.7,794.5L1894.7,794.6L1897.7,794.7L1900.7,794.7L1903.7,794.7L1906.7,794.7L1909.7,794.7L1912.7,794.7L1915.7,794.7L1918.7,794.7L1921.7,794.7L1924.7,794.7L1927.7,794.6L1930.7,794.6L1933.7,794.6L1936.7,794.6L1939.7,794.6L1942.7,794.6L1945.7,794.5L1948.7,794.5L1951.7,794.5L1954.7,794.5L1957.7,794.5L1960.8,794.4L1963.8,794.4L1966.8,794.4L1969.8,794.4L1972.8,794.3L1975.8,794.3L1978.8,794.3L1981.8,794.2L1984.8,794.2L1987.8,794.2L1990.8,794.2L1993.8,794.1L1996.8,794.1L1999.8,794.1L2002.8,794L2005.8,794L2008.8,794L2011.8,793.9L2014.8,793.9L2017.8,793.8L2020.8,793.8L2023.8,793.7L2026.8,793.7L2029.8,793.6L2032.8,793.5L2035.8,793.5L2038.9,793.4L2041.9,793.3L2044.9,793.3L2047.9,793.2L2050.9,793.1L2053.9,793.1L2056.9,793L2059.9,792.9L2062.9,792.9L2065.9,792.8L2068.9,792.8L2071.9,792.8L2074.9,792.7L2077.9,792.7L2080.9,792.7L2083.9,792.7L2086.9,792.7L2089.9,792.8L2092.9,793L2095.9,793.1L2098.9,793.3L2101.9,793.5L2104.9,793.7L2107.9,793.9L2110.9,794.1L2113.9,794.4L2116.9,794.6L2119.9,794.9L2122.9,795.1L2125.9,795.4L2128.9,795.7L2131.8,796L2134.8,796.3L2137.8,796.6L2140.8,796.9L2143.8,797.1L2146.8,797.4L2149.8,797.6L2152.8,797.9L2155.8,798.1L2158.8,798.2L2161.8,798.4L2164.8,798.5L2167.8,798.6L2170.8,798.7L2173.8,798.8L2176.8,798.9L2179.8,799L2182.8,799.1L2185.8,799.2L2188.8,799.3L2191.8,799.4L2194.8,799.5L2197.8,799.6L2200.8,799.6L2203.8,799.7L2206.8,799.8L2209.8,799.8L2212.8,799.9L2215.8,800L2218.8,800L2221.8,800.1L2224.9,800.2L2227.9,800.2L2230.9,800.3L2233.9,800.3L2236.9,800.4L2239.9,800.4L2242.9,800.5L2245.9,800.5L2248.9,800.6L2251.9,800.7L2254.9,800.7L2257.9,800.8L2260.9,800.8L2263.9,800.9L2266.9,800.9L2269.9,801L2272.9,801L2275.9,801.1L2278.9,801.1L2281.9,801.2L2284.9,801.2L2287.9,801.3L2290.9,801.3L2293.9,801.4L2296.9,801.4L2299.9,801.5L2302.9,801.5L2306,801.5L2309,801.6L2312,801.6L2315,801.6L2318,801.6L2321,801.7L2324,801.7L2327,801.7L2330,801.7L2333,801.7L2336,801.7L2339,801.7L2342,801.7"/></g>
<g stroke="#c99700"><path class="c" d="M180,560.2L183,560.2L186,560.1L189,560L192,560L195,559.9L198,559.9L201,559.8L204,559.8L207,559.7L210,559.7L213,559.6L216.1,559.5L219.1,559.5L222.1,559.4L225.1,559.4L228.1,559.3L231.1,559.2L234.1,559.2L237.1,559.1L240.1,559L243.1,559L246.1,558.9L249.1,558.8L252.1,558.8L255.1,558.7L258.1,558.6L261.1,558.6L264.1,558.5L267.1,558.4L270.1,558.3L273.1,558.3L276.1,558.2L279.1,558.1L282.1,558L285.1,558L288.1,557.9L291.2,557.8L294.2,557.7L297.2,557.7L300.2,557.6L303.2,557.5L306.2,557.4L309.2,557.4L312.2,557.3L315.2,557.2L318.2,557.1L321.2,557L324.2,557L327.2,556.9L330.2,556.8L333.2,556.7L336.2,556.6L339.2,556.5L342.2,556.4L345.2,556.3L348.2,556.3L351.2,556.2L354.2,556.1L357.2,556L360.2,555.9L363.2,555.8L366.2,555.7L369.2,555.6L372.2,555.5L375.2,555.4L378.3,555.3L381.3,555.2L384.3,555.1L387.3,555L390.3,554.9L393.3,554.8L396.3,554.7L399.3,554.6L402.3,554.5L405.3,554.4L408.3,554.2L411.3,554.1L414.3,554L417.3,553.9L420.3,553.8L423.3,553.7L426.3,553.6L429.3,553.4L432.3,553.3L435.3,553.2L438.3,553.1L441.3,553L444.3,552.8L447.3,552.7L450.3,552.6L453.3,552.4L456.3,552.3L459.3,552.2L462.3,552L465.3,551.9L468.3,551.7L471.3,551.6L474.3,551.4L477.3,551.3L480.3,551.1L483.3,550.9L486.3,550.8L489.3,550.6L492.3,550.4L495.3,550.2L498.3,550L501.3,549.8L504.3,549.6L507.3,549.4L510.3,549.2L513.3,549L516.3,548.7L519.3,548.5L522.3,548.2L525.3,548L528.3,547.7L531.3,547.5L534.3,547.2L537.3,546.9L540.3,546.6L543.2,546.4L546.2,546.1L549.2,545.8L552.2,545.4L555.2,545.1L558.2,544.8L561.2,544.5L564.2,544.2L567.1,543.8L570.1,543.5L573.1,543.2L576.1,542.8L579.1,542.5L582.1,542.2L585.1,541.8L588.1,541.5L591,541.1L594,540.8L597,540.5L600,540.1L603,539.8L606,539.4L609,539.1L611.9,538.8L614.9,538.5L617.9,538.1L620.9,537.8L623.9,537.5L626.9,537.2L629.9,536.8L632.8,536.5L635.8,536.2L638.8,535.9L641.8,535.5L644.8,535.2L647.8,534.9L650.8,534.6L653.8,534.2L656.7,533.9L659.7,533.5L662.7,533.2L665.7,532.8L668.7,532.5L671.7,532.1L674.6,531.8L677.6,531.4L680.6,531L683.6,530.6L686.6,530.2L689.5,529.8L692.5,529.4L695.5,529L698.5,528.5L701.4,528.1L704.4,527.6L707.4,527L710.3,526.5L713.3,525.9L716.2,525.3L719.1,524.7L722.1,524.1L725,523.4L728,522.8L730.9,522.1L733.8,521.4L736.7,520.8L739.7,520.1L742.6,519.4L745.5,518.7L748.4,517.9L751.3,517.2L754.2,516.4L757.1,515.7L760,514.9L763,514.1L765.9,513.3L768.8,512.6L771.7,511.8L774.6,511L777.5,510.2L780.4,509.5L783.3,508.7L786.2,508L789.1,507.2L792,506.5L794.9,505.8L797.9,505.1L800.8,504.5L803.7,503.8L806.7,503.2L809.6,502.5L812.5,501.8L815.4,501.1L818.3,500.3L821.2,499.4L824.1,498.5L826.9,497.5L829.7,496.5L832.5,495.4L835.3,494.3L838,492.9L840.5,491.2L842.6,489.1L844.3,486.6L845.7,483.9L846.9,481.2L847.9,478.4L848.9,475.5L849.9,472.7L850.8,469.8L851.7,466.9L852.5,464.1L853.4,461.2L854.3,458.3L855.1,455.4L856,452.6L856.9,449.7L857.8,446.8L858.7,444L859.6,441.1L860.6,438.3L861.7,435.5L862.9,432.7L864.3,430L866,427.6L868.2,425.6L870.9,424.3L873.9,423.7L876.9,423.7L879.7,424.7L882,426.6L883.7,429.1L885.2,431.7L886.5,434.4L887.8,437.1L888.9,439.9L890.1,442.6L891.4,445.4L892.6,448.1L893.9,450.9L895.1,453.6L896.5,456.3L897.8,459L899.2,461.6L900.6,464.3L902.2,466.8L904,469.2L906,471.4L908.4,473.3L911,474.8L913.8,475.9L916.7,476.4L919.7,476.5L922.7,476.2L925.7,475.8L928.6,475.2L931.5,474.4L934.4,473.5L937.2,472.4L939.9,471L942.4,469.4L944.8,467.6L947,465.5L949,463.3L950.9,461L952.6,458.5L954.2,456L955.8,453.4L957.2,450.7L958.6,448.1L960,445.4L961.3,442.7L962.6,440L963.9,437.3L965.2,434.6L966.4,431.8L967.7,429.1L969,426.4L970.2,423.7L971.5,421L972.8,418.2L974.1,415.5L975.4,412.8L976.7,410.1L978,407.4L979.3,404.7L980.6,402L981.8,399.2L983.1,396.5L984.3,393.8L985.5,391L986.7,388.2L987.8,385.5L988.9,382.7L990,379.9L991.1,377.1L992.1,374.2L993.1,371.4L994.1,368.6L995.1,365.7L996,362.9L997,360L997.9,357.2L998.8,354.3L999.7,351.4L1000.6,348.6L1001.5,345.7L1002.5,342.9L1003.5,340L1004.6,337.2L1005.7,334.4L1007,331.7L1008.6,329.2L1010.5,326.8L1013,325.2L1015.8,325.7L1017.9,327.9L1019.4,330.5L1020.6,333.3L1021.6,336.1L1022.5,339L1023.3,341.9L1024,344.8L1024.8,347.7L1025.4,350.6L1026.1,353.6L1026.7,356.5L1027.3,359.4L1027.9,362.4L1028.5,365.3L1029,368.3L1029.6,371.2L1030.1,374.2L1030.6,377.2L1031.1,380.1L1031.6,383.1L1032.1,386.1L1032.6,389L1033.1,392L1033.6,394.9L1034.1,397.9L1034.6,400.9L1035,403.8L1035.5,406.8L1036,409.8L1036.5,412.7L1037,415.7L1037.5,418.7L1038,421.6L1038.5,424.6L1039,427.6L1039.5,430.5L1040,433.5L1040.6,436.4L1041.1,439.4L1041.7,442.3L1042.3,445.3L1042.9,448.2L1043.5,451.2L1044.1,454.1L1044.7,457.1L1045.4,460L1046,462.9L1046.8,465.8L1047.5,468.7L1048.3,471.6L1049.1,474.5L1050,477.4L1051,480.2L1052.1,483L1053.3,485.8L1054.6,488.5L1056,491.1L1057.6,493.7L1059.3,496.2L1061.1,498.5L1063.1,500.8L1065.4,502.8L1067.9,504.4L1070.7,505.4L1073.7,505.9L1076.7,506.3L1079.7,506.7L1082.6,507.2L1085.6,507.8L1088.5,508.5L1091.4,509.3L1094.3,510.1L1097.2,510.7L1100.2,511.1L1103.2,511.4L1106.2,511.7L1109.1,512.2L1112.1,512.9L1115,513.7L1117.8,514.5L1120.7,515.4L1123.6,516.2L1126.5,517.1L1129.4,517.8L1132.3,518.5L1135.3,519L1138.3,519.4L1141.3,519.5L1144.3,519.6L1147.3,519.5L1150.3,519.4L1153.3,519.2L1156.3,519L1159.3,518.7L1162.3,518.5L1165.3,518.3L1168.3,518.1L1171.3,518L1174.3,517.9L1177.3,518L1180.3,518.2L1183.3,518.5L1186.2,518.9L1189.2,519.4L1192.2,519.9L1195.1,520.6L1198,521.3L1200.9,522.1L1203.8,523L1206.7,523.8L1209.6,524.5L1212.5,525.1L1215.5,525.6L1218.5,526L1221.5,526.3L1224.5,526.6L1227.4,526.9L1230.4,527.2L1233.4,527.5L1236.4,527.7L1239.4,527.9L1242.4,528L1245.4,528.1L1248.4,528.2L1251.4,528.2L1254.4,528.2L1257.4,528.1L1260.4,528L1263.4,527.8L1266.4,527.5L1269.4,527.2L1272.4,526.8L1275.4,526.4L1278.3,525.9L1281.3,525.4L1284.3,524.9L1287.2,524.4L1290.2,524L1293.2,523.4L1296.1,522.8L1299,522.2L1302,521.5L1304.9,520.9L1307.9,520.3L1310.8,519.8L1313.8,519.5L1316.8,519.4L1319.8,519.5L1322.8,519.8L1325.8,520.4L1328.7,521.1L1331.5,522.2L1334.1,523.6L1336.7,525.1L1339.3,526.7L1341.9,528.2L1344.5,529.7L1347.2,531.1L1349.8,532.4L1352.5,533.7L1355.3,535L1358.1,536.1L1360.9,537L1363.8,537.8L1366.7,538.5L1369.7,539.1L1372.6,539.6L1375.6,540.1L1378.6,540.4L1381.6,540.7L1384.6,540.9L1387.6,541.1L1390.6,541.3L1393.6,541.5L1396.6,541.6L1399.6,541.8L1402.6,542L1405.6,542.1L1408.6,542.3L1411.6,542.4L1414.6,542.6L1417.6,542.8L1420.6,542.9L1423.6,543.1L1426.6,543.3L1429.6,543.6L1432.6,543.8L1435.6,544L1438.6,544.2L1441.6,544.5L1444.6,544.7L1447.6,544.9L1450.6,545.2L1453.6,545.4L1456.6,545.6L1459.5,545.8L1462.5,546.1L1465.5,546.3L1468.5,546.5L1471.5,546.7L1474.5,546.9L1477.5,547.1L1480.5,547.3L1483.5,547.5L1486.5,547.7L1489.5,547.9L1492.5,548.1L1495.5,548.2L1498.5,548.4L1501.5,548.4L1504.5,548.4L1507.5,548.4L1510.5,548.3L1513.5,548.1L1516.5,547.9L1519.5,547.6L1522.5,547.4L1525.5,547.2L1528.5,546.9L1531.5,546.7L1534.5,546.4L1537.5,546.2L1540.5,545.9L1543.5,545.7L1546.5,545.5L1549.5,545.3L1552.5,545.3L1555.5,545.3L1558.5,545.5L1561.5,545.7L1564.5,546L1567.5,546.3L1570.5,546.6L1573.5,546.9L1576.4,547.3L1579.4,547.6L1582.4,548.1L1585.4,548.5L1588.3,548.9L1591.3,549.4L1594.3,549.8L1597.3,550.2L1600.2,550.6L1603.2,550.9L1606.2,551.1L1609.2,551.3L1612.2,551.5L1615.2,551.7L1618.2,551.8L1621.2,552L1624.2,552.1L1627.2,552.3L1630.2,552.4L1633.2,552.6L1636.2,552.7L1639.2,552.8L1642.2,552.9L1645.2,553.1L1648.2,553.2L1651.3,553.3L1654.3,553.4L1657.3,553.5L1660.3,553.7L1663.3,553.8L1666.3,553.9L1669.3,554L1672.3,554.1L1675.3,554.3L1678.3,554.4L1681.3,554.5L1684.3,554.6L1687.3,554.7L1690.3,554.8L1693.3,554.9L1696.3,555L1699.3,555.1L1702.3,555.1L1705.3,555.2L1708.3,555.2L1711.3,555.3L1714.3,555.3L1717.3,555.3L1720.3,555.3L1723.3,555.2L1726.3,555.1L1729.3,555L1732.3,554.9L1735.3,554.8L1738.3,554.6L1741.3,554.5L1744.3,554.3L1747.3,554.2L1750.3,554L1753.3,553.9L1756.4,553.8L1759.4,553.7L1762.4,553.6L1765.4,553.5L1768.4,553.5L1771.4,553.5L1774.4,553.5L1777.4,553.6L1780.4,553.6L1783.4,553.7L1786.4,553.7L1789.4,553.8L1792.4,553.9L1795.4,553.9L1798.4,554L1801.4,554.1L1804.4,554.2L1807.4,554.2L1810.4,554.3L1813.4,554.4L1816.4,554.5L1819.4,554.6L1822.4,554.6L1825.4,554.7L1828.4,554.8L1831.5,554.8L1834.5,554.9L1837.5,554.9L1840.5,555L1843.5,555.1L1846.5,555.1L1849.5,555.2L1852.5,555.3L1855.5,555.3L1858.5,555.4L1861.5,555.5L1864.5,555.5L1867.5,555.6L1870.5,555.6L1873.5,555.7L1876.5,555.8L1879.5,555.8L1882.5,555.8L1885.5,555.9L1888.5,555.9L1891.5,555.9L1894.5,556L1897.5,556L1900.5,556L1903.6,556L1906.6,556L1909.6,556L1912.6,556L1915.6,556L1918.6,556L1921.6,555.9L1924.6,555.9L1927.6,555.9L1930.6,555.9L1933.6,555.9L1936.6,555.8L1939.6,555.8L1942.6,555.8L1945.6,555.7L1948.6,555.7L1951.6,555.7L1954.6,555.6L1957.6,555.6L1960.6,555.6L1963.6,555.5L1966.7,555.5L1969.7,555.5L1972.7,555.4L1975.7,555.4L1978.7,555.3L1981.7,555.3L1984.7,555.3L1987.7,555.2L1990.7,555.2L1993.7,555.1L1996.7,555.1L1999.7,555.1L2002.7,555L2005.7,555L2008.7,555L2011.7,554.9L2014.7,554.9L2017.7,554.8L2020.7,554.8L2023.7,554.7L2026.7,554.7L2029.7,554.6L2032.8,554.6L2035.8,554.5L2038.8,554.5L2041.8,554.4L2044.8,554.4L2047.8,554.3L2050.8,554.3L2053.8,554.2L2056.8,554.2L2059.8,554.2L2062.8,554.1L2065.8,554.1L2068.8,554.1L2071.8,554L2074.8,554L2077.8,554L2080.8,554L2083.8,554L2086.8,554.1L2089.8,554.2L2092.8,554.4L2095.8,554.6L2098.8,554.8L2101.8,555L2104.8,555.2L2107.8,555.4L2110.8,555.6L2113.8,555.8L2116.8,556.1L2119.8,556.3L2122.8,556.6L2125.8,556.8L2128.8,557.1L2131.8,557.4L2134.8,557.6L2137.8,557.9L2140.8,558.2L2143.8,558.4L2146.8,558.6L2149.7,558.9L2152.7,559.1L2155.7,559.3L2158.7,559.4L2161.7,559.5L2164.7,559.7L2167.8,559.8L2170.8,559.9L2173.8,560L2176.8,560.1L2179.8,560.2L2182.8,560.3L2185.8,560.4L2188.8,560.5L2191.8,560.6L2194.8,560.7L2197.8,560.7L2200.8,560.8L2203.8,560.9L2206.8,560.9L2209.8,561L2212.8,561.1L2215.8,561.1L2218.8,561.2L2221.8,561.2L2224.8,561.3L2227.8,561.3L2230.8,561.4L2233.8,561.4L2236.8,561.5L2239.8,561.5L2242.8,561.6L2245.9,561.6L2248.9,561.7L2251.9,561.7L2254.9,561.7L2257.9,561.8L2260.9,561.8L2263.9,561.9L2266.9,561.9L2269.9,562L2272.9,562L2275.9,562L2278.9,562.1L2281.9,562.1L2284.9,562.2L2287.9,562.2L2290.9,562.2L2293.9,562.3L2296.9,562.3L2299.9,562.3L2302.9,562.4L2305.9,562.4L2308.9,562.4L2312,562.4L2315,562.4L2318,562.5L2321,562.5L2324,562.5L2327,562.5L2330,562.5L2333,562.5L2336,562.5L2339,562.5L2342,562.5"/><path class="ci" d="M180,560.2L183,560.2L186,560.1L189,560L192,560L195,559.9L198,559.9L201,559.8L204,559.8L207,559.7L210,559.7L213,559.6L216.1,559.5L219.1,559.5L222.1,559.4L225.1,559.4L228.1,559.3L231.1,559.2L234.1,559.2L237.1,559.1L240.1,559L243.1,559L246.1,558.9L249.1,558.8L252.1,558.8L255.1,558.7L258.1,558.6L261.1,558.6L264.1,558.5L267.1,558.4L270.1,558.3L273.1,558.3L276.1,558.2L279.1,558.1L282.1,558L285.1,558L288.1,557.9L291.2,557.8L294.2,557.7L297.2,557.7L300.2,557.6L303.2,557.5L306.2,557.4L309.2,557.4L312.2,557.3L315.2,557.2L318.2,557.1L321.2,557L324.2,557L327.2,556.9L330.2,556.8L333.2,556.7L336.2,556.6L339.2,556.5L342.2,556.4L345.2,556.3L348.2,556.3L351.2,556.2L354.2,556.1L357.2,556L360.2,555.9L363.2,555.8L366.2,555.7L369.2,555.6L372.2,555.5L375.2,555.4L378.3,555.3L381.3,555.2L384.3,555.1L387.3,555L390.3,554.9L393.3,554.8L396.3,554.7L399.3,554.6L402.3,554.5L405.3,554.4L408.3,554.2L411.3,554.1L414.3,554L417.3,553.9L420.3,553.8L423.3,553.7L426.3,553.6L429.3,553.4L432.3,553.3L435.3,553.2L438.3,553.1L441.3,553L444.3,552.8L447.3,552.7L450.3,552.6L453.3,552.4L456.3,552.3L459.3,552.2L462.3,552L465.3,551.9L468.3,551.7L471.3,551.6L474.3,551.4L477.3,551.3L480.3,551.1L483.3,550.9L486.3,550.8L489.3,550.6L492.3,550.4L495.3,550.2L498.3,550L501.3,549.8L504.3,549.6L507.3,549.4L510.3,549.2L513.3,549L516.3,548.7L519.3,548.5L522.3,548.2L525.3,548L528.3,547.7L531.3,547.5L534.3,547.2L537.3,546.9L540.3,546.6L543.2,546.4L546.2,546.1L549.2,545.8L552.2,545.4L555.2,545.1L558.2,544.8L561.2,544.5L564.2,544.2L567.1,543.8L570.1,543.5L573.1,543.2L576.1,542.8L579.1,542.5L582.1,542.2L585.1,541.8L588.1,541.5L591,541.1L594,540.8L597,540.5L600,540.1L603,539.8L606,539.4L609,539.1L611.9,538.8L614.9,538.5L617.9,538.1L620.9,537.8L623.9,537.5L626.9,537.2L629.9,536.8L632.8,536.5L635.8,536.2L638.8,535.9L641.8,535.5L644.8,535.2L647.8,534.9L650.8,534.6L653.8,534.2L656.7,533.9L659.7,533.5L662.7,533.2L665.7,532.8L668.7,532.5L671.7,532.1L674.6,531.8L677.6,531.4L680.6,531L683.6,530.6L686.6,530.2L689.5,529.8L692.5,529.4L695.5,529L698.5,528.5L701.4,528.1L704.4,527.6L707.4,527L710.3,526.5L713.3,525.9L716.2,525.3L719.1,524.7L722.1,524.1L725,523.4L728,522.8L730.9,522.1L733.8,521.4L736.7,520.8L739.7,520.1L742.6,519.4L745.5,518.7L748.4,517.9L751.3,517.2L754.2,516.4L757.1,515.7L760,514.9L763,514.1L765.9,513.3L768.8,512.6L771.7,511.8L774.6,511L777.5,510.2L780.4,509.5L783.3,508.7L786.2,508L789.1,507.2L792,506.5L794.9,505.8L797.9,505.1L800.8,504.5L803.7,503.8L806.7,503.2L809.6,502.5L812.5,501.8L815.4,501.1L818.3,500.3L821.2,499.4L824.1,498.5L826.9,497.5L829.7,496.5L832.5,495.4L835.3,494.3L838,492.9L840.5,491.2L842.6,489.1L844.3,486.6L845.7,483.9L846.9,481.2L847.9,478.4L848.9,475.5L849.9,472.7L850.8,469.8L851.7,466.9L852.5,464.1L853.4,461.2L854.3,458.3L855.1,455.4L856,452.6L856.9,449.7L857.8,446.8L858.7,444L859.6,441.1L860.6,438.3L861.7,435.5L862.9,432.7L864.3,430L866,427.6L868.2,425.6L870.9,424.3L873.9,423.7L876.9,423.7L879.7,424.7L882,426.6L883.7,429.1L885.2,431.7L886.5,434.4L887.8,437.1L888.9,439.9L890.1,442.6L891.4,445.4L892.6,448.1L893.9,450.9L895.1,453.6L896.5,456.3L897.8,459L899.2,461.6L900.6,464.3L902.2,466.8L904,469.2L906,471.4L908.4,473.3L911,474.8L913.8,475.9L916.7,476.4L919.7,476.5L922.7,476.2L925.7,475.8L928.6,475.2L931.5,474.4L934.4,473.5L937.2,472.4L939.9,471L942.4,469.4L944.8,467.6L947,465.5L949,463.3L950.9,461L952.6,458.5L954.2,456L955.8,453.4L957.2,450.7L958.6,448.1L960,445.4L961.3,442.7L962.6,440L963.9,437.3L965.2,434.6L966.4,431.8L967.7,429.1L969,426.4L970.2,423.7L971.5,421L972.8,418.2L974.1,415.5L975.4,412.8L976.7,410.1L978,407.4L979.3,404.7L980.6,402L981.8,399.2L983.1,396.5L984.3,393.8L985.5,391L986.7,388.2L987.8,385.5L988.9,382.7L990,379.9L991.1,377.1L992.1,374.2L993.1,371.4L994.1,368.6L995.1,365.7L996,362.9L997,360L997.9,357.2L998.8,354.3L999.7,351.4L1000.6,348.6L1001.5,345.7L1002.5,342.9L1003.5,340L1004.6,337.2L1005.7,334.4L1007,331.7L1008.6,329.2L1010.5,326.8L1013,325.2L1015.8,325.7L1017.9,327.9L1019.4,330.5L1020.6,333.3L1021.6,336.1L1022.5,339L1023.3,341.9L1024,344.8L1024.8,347.7L1025.4,350.6L1026.1,353.6L1026.7,356.5L1027.3,359.4L1027.9,362.4L1028.5,365.3L1029,368.3L1029.6,371.2L1030.1,374.2L1030.6,377.2L1031.1,380.1L1031.6,383.1L1032.1,386.1L1032.6,389L1033.1,392L1033.6,394.9L1034.1,397.9L1034.6,400.9L1035,403.8L1035.5,406.8L1036,409.8L1036.5,412.7L1037,415.7L1037.5,418.7L1038,421.6L1038.5,424.6L1039,427.6L1039.5,430.5L1040,433.5L1040.6,436.4L1041.1,439.4L1041.7,442.3L1042.3,445.3L1042.9,448.2L1043.5,451.2L1044.1,454.1L1044.7,457.1L1045.4,460L1046,462.9L1046.8,465.8L1047.5,468.7L1048.3,471.6L1049.1,474.5L1050,477.4L1051,480.2L1052.1,483L1053.3,485.8L1054.6,488.5L1056,491.1L1057.6,493.7L1059.3,496.2L1061.1,498.5L1063.1,500.8L1065.4,502.8L1067.9,504.4L1070.7,505.4L1073.7,505.9L1076.7,506.3L1079.7,506.7L1082.6,507.2L1085.6,507.8L1088.5,508.5L1091.4,509.3L1094.3,510.1L1097.2,510.7L1100.2,511.1L1103.2,511.4L1106.2,511.7L1109.1,512.2L1112.1,512.9L1115,513.7L1117.8,514.5L1120.7,515.4L1123.6,516.2L1126.5,517.1L1129.4,517.8L1132.3,518.5L1135.3,519L1138.3,519.4L1141.3,519.5L1144.3,519.6L1147.3,519.5L1150.3,519.4L1153.3,519.2L1156.3,519L1159.3,518.7L1162.3,518.5L1165.3,518.3L1168.3,518.1L1171.3,518L1174.3,517.9L1177.3,518L1180.3,518.2L1183.3,518.5L1186.2,518.9L1189.2,519.4L1192.2,519.9L1195.1,520.6L1198,521.3L1200.9,522.1L1203.8,523L1206.7,523.8L1209.6,524.5L1212.5,525.1L1215.5,525.6L1218.5,526L1221.5,526.3L1224.5,526.6L1227.4,526.9L1230.4,527.2L1233.4,527.5L1236.4,527.7L1239.4,527.9L1242.4,528L1245.4,528.1L1248.4,528.2L1251.4,528.2L1254.4,528.2L1257.4,528.1L1260.4,528L1263.4,527.8L1266.4,527.5L1269.4,527.2L1272.4,526.8L1275.4,526.4L1278.3,525.9L1281.3,525.4L1284.3,524.9L1287.2,524.4L1290.2,524L1293.2,523.4L1296.1,522.8L1299,522.2L1302,521.5L1304.9,520.9L1307.9,520.3L1310.8,519.8L1313.8,519.5L1316.8,519.4L1319.8,519.5L1322.8,519.8L1325.8,520.4L1328.7,521.1L1331.5,522.2L1334.1,523.6L1336.7,525.1L1339.3,526.7L1341.9,528.2L1344.5,529.7L1347.2,531.1L1349.8,532.4L1352.5,533.7L1355.3,535L1358.1,536.1L1360.9,537L1363.8,537.8L1366.7,538.5L1369.7,539.1L1372.6,539.6L1375.6,540.1L1378.6,540.4L1381.6,540.7L1384.6,540.9L1387.6,541.1L1390.6,541.3L1393.6,541.5L1396.6,541.6L1399.6,541.8L1402.6,542L1405.6,542.1L1408.6,542.3L1411.6,542.4L1414.6,542.6L1417.6,542.8L1420.6,542.9L1423.6,543.1L1426.6,543.3L1429.6,543.6L1432.6,543.8L1435.6,544L1438.6,544.2L1441.6,544.5L1444.6,544.7L1447.6,544.9L1450.6,545.2L1453.6,545.4L1456.6,545.6L1459.5,545.8L1462.5,546.1L1465.5,546.3L1468.5,546.5L1471.5,546.7L1474.5,546.9L1477.5,547.1L1480.5,547.3L1483.5,547.5L1486.5,547.7L1489.5,547.9L1492.5,548.1L1495.5,548.2L1498.5,548.4L1501.5,548.4L1504.5,548.4L1507.5,548.4L1510.5,548.3L1513.5,548.1L1516.5,547.9L1519.5,547.6L1522.5,547.4L1525.5,547.2L1528.5,546.9L1531.5,546.7L1534.5,546.4L1537.5,546.2L1540.5,545.9L1543.5,545.7L1546.5,545.5L1549.5,545.3L1552.5,545.3L1555.5,545.3L1558.5,545.5L1561.5,545.7L1564.5,546L1567.5,546.3L1570.5,546.6L1573.5,546.9L1576.4,547.3L1579.4,547.6L1582.4,548.1L1585.4,548.5L1588.3,548.9L1591.3,549.4L1594.3,549.8L1597.3,550.2L1600.2,550.6L1603.2,550.9L1606.2,551.1L1609.2,551.3L1612.2,551.5L1615.2,551.7L1618.2,551.8L1621.2,552L1624.2,552.1L1627.2,552.3L1630.2,552.4L1633.2,552.6L1636.2,552.7L1639.2,552.8L1642.2,552.9L1645.2,553.1L1648.2,553.2L1651.3,553.3L1654.3,553.4L1657.3,553.5L1660.3,553.7L1663.3,553.8L1666.3,553.9L1669.3,554L1672.3,554.1L1675.3,554.3L1678.3,554.4L1681.3,554.5L1684.3,554.6L1687.3,554.7L1690.3,554.8L1693.3,554.9L1696.3,555L1699.3,555.1L1702.3,555.1L1705.3,555.2L1708.3,555.2L1711.3,555.3L1714.3,555.3L1717.3,555.3L1720.3,555.3L1723.3,555.2L1726.3,555.1L1729.3,555L1732.3,554.9L1735.3,554.8L1738.3,554.6L1741.3,554.5L1744.3,554.3L1747.3,554.2L1750.3,554L1753.3,553.9L1756.4,553.8L1759.4,553.7L1762.4,553.6L1765.4,553.5L1768.4,553.5L1771.4,553.5L1774.4,553.5L1777.4,553.6L1780.4,553.6L1783.4,553.7L1786.4,553.7L1789.4,553.8L1792.4,553.9L1795.4,553.9L1798.4,554L1801.4,554.1L1804.4,554.2L1807.4,554.2L1810.4,554.3L1813.4,554.4L1816.4,554.5L1819.4,554.6L1822.4,554.6L1825.4,554.7L1828.4,554.8L1831.5,554.8L1834.5,554.9L1837.5,554.9L1840.5,555L1843.5,555.1L1846.5,555.1L1849.5,555.2L1852.5,555.3L1855.5,555.3L1858.5,555.4L1861.5,555.5L1864.5,555.5L1867.5,555.6L1870.5,555.6L1873.5,555.7L1876.5,555.8L1879.5,555.8L1882.5,555.8L1885.5,555.9L1888.5,555.9L1891.5,555.9L1894.5,556L1897.5,556L1900.5,556L1903.6,556L1906.6,556L1909.6,556L1912.6,556L1915.6,556L1918.6,556L1921.6,555.9L1924.6,555.9L1927.6,555.9L1930.6,555.9L1933.6,555.9L1936.6,555.8L1939.6,555.8L1942.6,555.8L1945.6,555.7L1948.6,555.7L1951.6,555.7L1954.6,555.6L1957.6,555.6L1960.6,555.6L1963.6,555.5L1966.7,555.5L1969.7,555.5L1972.7,555.4L1975.7,555.4L1978.7,555.3L1981.7,555.3L1984.7,555.3L1987.7,555.2L1990.7,555.2L1993.7,555.1L1996.7,555.1L1999.7,555.1L2002.7,555L2005.7,555L2008.7,555L2011.7,554.9L2014.7,554.9L2017.7,554.8L2020.7,554.8L2023.7,554.7L2026.7,554.7L2029.7,554.6L2032.8,554.6L2035.8,554.5L2038.8,554.5L2041.8,554.4L2044.8,554.4L2047.8,554.3L2050.8,554.3L2053.8,554.2L2056.8,554.2L2059.8,554.2L2062.8,554.1L2065.8,554.1L2068.8,554.1L2071.8,554L2074.8,554L2077.8,554L2080.8,554L2083.8,554L2086.8,554.1L2089.8,554.2L2092.8,554.4L2095.8,554.6L2098.8,554.8L2101.8,555L2104.8,555.2L2107.8,555.4L2110.8,555.6L2113.8,555.8L2116.8,556.1L2119.8,556.3L2122.8,556.6L2125.8,556.8L2128.8,557.1L2131.8,557.4L2134.8,557.6L2137.8,557.9L2140.8,558.2L2143.8,558.4L2146.8,558.6L2149.7,558.9L2152.7,559.1L2155.7,559.3L2158.7,559.4L2161.7,559.5L2164.7,559.7L2167.8,559.8L2170.8,559.9L2173.8,560L2176.8,560.1L2179.8,560.2L2182.8,560.3L2185.8,560.4L2188.8,560.5L2191.8,560.6L2194.8,560.7L2197.8,560.7L2200.8,560.8L2203.8,560.9L2206.8,560.9L2209.8,561L2212.8,561.1L2215.8,561.1L2218.8,561.2L2221.8,561.2L2224.8,561.3L2227.8,561.3L2230.8,561.4L2233.8,561.4L2236.8,561.5L2239.8,561.5L2242.8,561.6L2245.9,561.6L2248.9,561.7L2251.9,561.7L2254.9,561.7L2257.9,561.8L2260.9,561.8L2263.9,561.9L2266.9,561.9L2269.9,562L2272.9,562L2275.9,562L2278.9,562.1L2281.9,562.1L2284.9,562.2L2287.9,562.2L2290.9,562.2L2293.9,562.3L2296.9,562.3L2299.9,562.3L2302.9,562.4L2305.9,562.4L2308.9,562.4L2312,562.4L2315,562.4L2318,562.5L2321,562.5L2324,562.5L2327,562.5L2330,562.5L2333,562.5L2336,562.5L2339,562.5L2342,562.5"/></g>
<g stroke="#00cccc"><path class="c" d="M180,301L183,301L186,301L189,301L192,301L195,301L198,300.9L201,300.9L204.1,300.9L207.1,300.9L210.1,300.9L213.1,300.8L216.1,300.8L219.1,300.8L222.1,300.8L225.1,300.7L228.1,300.7L231.1,300.7L234.1,300.7L237.1,300.6L240.1,300.6L243.1,300.6L246.1,300.5L249.2,300.5L252.2,300.5L255.2,300.4L258.2,300.4L261.2,300.4L264.2,300.3L267.2,300.3L270.2,300.2L273.2,300.2L276.2,300.2L279.2,300.1L282.2,300.1L285.2,300L288.2,300L291.2,299.9L294.2,299.9L297.3,299.9L300.3,299.8L303.3,299.8L306.3,299.7L309.3,299.7L312.3,299.6L315.3,299.6L318.3,299.5L321.3,299.5L324.3,299.4L327.3,299.4L330.3,299.3L333.3,299.2L336.3,299.2L339.3,299.1L342.3,299L345.4,299L348.4,298.9L351.4,298.8L354.4,298.8L357.4,298.7L360.4,298.6L363.4,298.5L366.4,298.5L369.4,298.4L372.4,298.3L375.4,298.2L378.4,298.1L381.4,298.1L384.4,298L387.4,297.9L390.4,297.8L393.4,297.7L396.4,297.6L399.5,297.5L402.5,297.4L405.5,297.3L408.5,297.2L411.5,297.1L414.5,297L417.5,296.9L420.5,296.8L423.5,296.7L426.5,296.6L429.5,296.5L432.5,296.4L435.5,296.3L438.5,296.2L441.5,296.1L444.5,296L447.5,295.9L450.5,295.8L453.5,295.7L456.5,295.6L459.6,295.4L462.6,295.3L465.6,295.2L468.6,295L471.6,294.9L474.6,294.7L477.6,294.6L480.6,294.4L483.6,294.3L486.6,294.1L489.6,293.9L492.6,293.8L495.6,293.6L498.6,293.4L501.6,293.2L504.6,293L507.6,292.8L510.6,292.6L513.6,292.4L516.6,292.2L519.6,292L522.6,291.8L525.6,291.6L528.6,291.3L531.6,291.1L534.6,290.8L537.6,290.6L540.6,290.3L543.6,290.1L546.6,289.8L549.5,289.5L552.5,289.2L555.5,289L558.5,288.7L561.5,288.4L564.5,288.1L567.5,287.8L570.5,287.5L573.5,287.1L576.5,286.8L579.5,286.5L582.5,286.2L585.4,285.9L588.4,285.5L591.4,285.2L594.4,284.9L597.4,284.5L600.4,284.2L603.4,283.9L606.4,283.5L609.3,283.2L612.3,282.8L615.3,282.5L618.3,282.2L621.3,281.8L624.3,281.5L627.3,281.1L630.3,280.8L633.2,280.5L636.2,280.1L639.2,279.8L642.2,279.4L645.2,279.1L648.2,278.7L651.2,278.4L654.1,278L657.1,277.6L660.1,277.2L663.1,276.9L666.1,276.5L669.1,276.1L672,275.7L675,275.3L678,274.9L681,274.4L683.9,274L686.9,273.6L689.9,273.1L692.9,272.7L695.8,272.2L698.8,271.7L701.8,271.2L704.7,270.7L707.7,270.2L710.7,269.7L713.6,269.1L716.6,268.6L719.5,268.1L722.5,267.5L725.5,267L728.4,266.5L731.4,265.9L734.3,265.4L737.3,264.8L740.2,264.3L743.2,263.7L746.1,263.2L749.1,262.6L752.1,262.1L755,261.6L758,261L760.9,260.5L763.9,260L766.9,259.5L769.8,258.9L772.8,258.4L775.7,257.8L778.7,257.2L781.6,256.6L784.6,255.9L787.5,255.3L790.4,254.6L793.3,253.8L796.2,253L799.1,252.2L802,251.4L804.9,250.5L807.7,249.6L810.6,248.7L813.5,247.8L816.3,246.9L819.2,246L822.1,245.2L825,244.3L827.8,243.3L830.6,242.1L833.1,240.5L835.4,238.6L837.5,236.4L839.4,234L841.1,231.5L842.7,229L844.3,226.4L845.8,223.9L847.3,221.3L848.8,218.6L850.2,216L851.5,213.3L852.7,210.5L853.8,207.7L854.9,204.9L856,202.1L857,199.3L858.1,196.5L859.2,193.7L860.4,190.9L861.8,188.2L863.3,185.7L865.2,183.3L867.7,181.7L870.6,181.1L873.5,181.7L876.2,183L878.5,185L880.4,187.3L882,189.8L883.4,192.5L884.7,195.2L886,197.9L887.2,200.7L888.5,203.4L889.8,206.1L891.1,208.8L892.5,211.5L894.1,214L895.8,216.5L897.8,218.8L900,220.8L902.5,222.5L905.1,224L907.8,225.3L910.6,226.2L913.6,226.7L916.6,226.7L919.6,226.4L922.6,226L925.5,225.5L928.5,224.8L931.3,223.9L934.1,222.7L936.7,221.1L939,219.2L941.2,217.1L943.1,214.9L944.9,212.5L946.7,210L948.3,207.5L950,205L951.6,202.5L953.3,200L955.1,197.6L957,195.2L958.9,192.9L960.7,190.5L962.3,187.9L963.8,185.3L965.2,182.7L966.5,180L967.8,177.3L969.2,174.6L970.6,171.9L972,169.3L973.4,166.6L974.9,164L976.3,161.4L977.8,158.7L979.2,156.1L980.6,153.4L982,150.8L983.4,148.1L984.8,145.4L986.1,142.7L987.3,140L988.6,137.2L989.8,134.5L990.9,131.7L992.1,128.9L993.2,126.2L994.4,123.4L995.5,120.6L996.6,117.8L997.7,115L998.7,112.2L999.8,109.4L1000.9,106.6L1002,103.7L1003.1,101L1004.3,98.2L1005.6,95.5L1007,92.8L1008.8,90.4L1011.4,89L1014,90.2L1015.7,92.6L1017,95.4L1018.1,98.2L1019,101L1019.9,103.9L1020.7,106.8L1021.4,109.7L1022.1,112.6L1022.8,115.6L1023.5,118.5L1024.2,121.4L1024.8,124.4L1025.4,127.3L1026.1,130.2L1026.7,133.2L1027.3,136.1L1027.9,139.1L1028.4,142L1029,145L1029.6,147.9L1030.1,150.9L1030.7,153.9L1031.2,156.8L1031.7,159.8L1032.3,162.7L1032.8,165.7L1033.3,168.6L1033.9,171.6L1034.4,174.6L1035,177.5L1035.5,180.5L1036.1,183.4L1036.7,186.4L1037.3,189.3L1037.9,192.3L1038.5,195.2L1039.2,198.1L1039.8,201.1L1040.5,204L1041.3,206.9L1042,209.8L1042.8,212.7L1043.7,215.6L1044.5,218.5L1045.5,221.3L1046.5,224.2L1047.5,227L1048.7,229.7L1050.1,232.4L1051.5,235.1L1053,237.7L1054.7,240.2L1056.5,242.6L1058.5,244.8L1060.8,246.8L1063.4,248.2L1066.3,249L1069.3,249.4L1072.3,249.7L1075.2,250.1L1078.2,250.5L1081.2,251.1L1084.1,251.7L1087,252.4L1090,253.1L1092.9,253.7L1095.9,254.2L1098.9,254.5L1101.9,254.6L1104.9,254.7L1107.9,254.9L1110.8,255.4L1113.8,256L1116.7,256.6L1119.7,257.2L1122.6,257.9L1125.5,258.6L1128.5,259.2L1131.4,259.7L1134.4,260.1L1137.4,260.4L1140.4,260.5L1143.4,260.5L1146.4,260.4L1149.4,260.3L1152.4,260.2L1155.4,260.1L1158.4,259.9L1161.4,259.8L1164.4,259.7L1167.4,259.6L1170.5,259.5L1173.5,259.5L1176.5,259.6L1179.5,259.7L1182.5,259.8L1185.5,260.1L1188.4,260.5L1191.4,261.1L1194.3,261.8L1197.2,262.7L1200.1,263.5L1203,264.3L1205.9,265L1208.8,265.6L1211.8,266L1214.8,266.3L1217.8,266.6L1220.8,266.9L1223.8,267.1L1226.8,267.4L1229.8,267.6L1232.8,267.8L1235.8,268L1238.8,268.1L1241.8,268.2L1244.8,268.3L1247.8,268.3L1250.8,268.3L1253.8,268.3L1256.8,268.2L1259.8,268L1262.8,267.8L1265.8,267.5L1268.8,267.1L1271.8,266.6L1274.7,266.1L1277.7,265.5L1280.6,265L1283.6,264.4L1286.5,263.8L1289.5,263.2L1292.4,262.6L1295.4,261.9L1298.3,261.2L1301.2,260.5L1304.1,259.8L1307.1,259.2L1310,258.7L1313,258.5L1316,258.5L1319,258.7L1322,259.2L1324.9,259.9L1327.8,260.8L1330.5,262.1L1333.1,263.6L1335.7,265.2L1338.2,266.8L1340.8,268.3L1343.5,269.7L1346.2,271L1348.9,272.3L1351.6,273.5L1354.4,274.7L1357.3,275.7L1360.1,276.6L1363,277.4L1365.9,278.1L1368.9,278.7L1371.8,279.2L1374.8,279.7L1377.8,280L1380.8,280.2L1383.8,280.4L1386.8,280.6L1389.8,280.8L1392.8,280.9L1395.8,281.1L1398.8,281.2L1401.8,281.4L1404.8,281.5L1407.8,281.7L1410.8,281.8L1413.8,281.9L1416.8,282.1L1419.8,282.2L1422.8,282.4L1425.8,282.6L1428.8,282.8L1431.8,282.9L1434.9,283.1L1437.9,283.3L1440.9,283.5L1443.9,283.7L1446.9,283.9L1449.9,284.1L1452.9,284.3L1455.9,284.5L1458.9,284.7L1461.9,284.9L1464.9,285.1L1467.9,285.2L1470.9,285.4L1473.9,285.5L1476.9,285.6L1479.9,285.7L1482.9,285.9L1485.9,285.9L1488.9,286L1491.9,286.1L1494.9,286.2L1497.9,286.2L1500.9,286.2L1503.9,286.2L1506.9,286.2L1509.9,286.2L1512.9,286.1L1515.9,285.9L1518.9,285.7L1521.9,285.5L1524.9,285.3L1527.9,285.1L1530.9,284.9L1533.9,284.7L1536.9,284.4L1539.9,284.2L1542.9,284L1545.9,283.9L1548.9,283.8L1551.9,283.8L1555,283.9L1558,284.2L1560.9,284.5L1563.9,284.8L1566.9,285.2L1569.9,285.6L1572.9,286L1575.9,286.3L1578.9,286.7L1581.8,287L1584.8,287.4L1587.8,287.8L1590.8,288.1L1593.8,288.5L1596.8,288.8L1599.8,289.1L1602.8,289.3L1605.8,289.6L1608.8,289.7L1611.8,289.9L1614.8,290L1617.8,290.2L1620.8,290.3L1623.8,290.4L1626.8,290.5L1629.8,290.6L1632.8,290.7L1635.8,290.8L1638.8,290.8L1641.8,290.9L1644.8,291L1647.8,291.1L1650.8,291.1L1653.8,291.2L1656.8,291.3L1659.8,291.4L1662.8,291.5L1665.8,291.6L1668.9,291.7L1671.9,291.8L1674.9,291.9L1677.9,292L1680.9,292.1L1683.9,292.2L1686.9,292.3L1689.9,292.4L1692.9,292.4L1695.9,292.5L1698.9,292.5L1701.9,292.6L1704.9,292.6L1707.9,292.6L1710.9,292.6L1713.9,292.6L1716.9,292.6L1720,292.5L1723,292.5L1726,292.5L1729,292.4L1732,292.4L1735,292.3L1738,292.3L1741,292.2L1744,292.2L1747,292.2L1750,292.1L1753,292.1L1756,292L1759,292L1762,292L1765,291.9L1768.1,291.9L1771.1,291.9L1774.1,291.9L1777.1,291.8L1780.1,291.8L1783.1,291.8L1786.1,291.8L1789.1,291.7L1792.1,291.7L1795.1,291.7L1798.1,291.7L1801.1,291.6L1804.1,291.6L1807.1,291.6L1810.1,291.6L1813.2,291.6L1816.2,291.5L1819.2,291.5L1822.2,291.5L1825.2,291.5L1828.2,291.5L1831.2,291.5L1834.2,291.5L1837.2,291.5L1840.2,291.6L1843.2,291.6L1846.2,291.7L1849.2,291.8L1852.2,291.9L1855.2,292L1858.2,292.1L1861.3,292.2L1864.3,292.3L1867.3,292.4L1870.3,292.6L1873.3,292.7L1876.3,292.8L1879.3,292.9L1882.3,293L1885.3,293.1L1888.3,293.1L1891.3,293.2L1894.3,293.2L1897.3,293.3L1900.3,293.3L1903.3,293.3L1906.3,293.3L1909.3,293.3L1912.3,293.3L1915.4,293.2L1918.4,293.2L1921.4,293.2L1924.4,293.2L1927.4,293.2L1930.4,293.1L1933.4,293.1L1936.4,293.1L1939.4,293.1L1942.4,293L1945.4,293L1948.4,293L1951.4,292.9L1954.4,292.9L1957.4,292.9L1960.5,292.8L1963.5,292.8L1966.5,292.8L1969.5,292.7L1972.5,292.7L1975.5,292.7L1978.5,292.6L1981.5,292.6L1984.5,292.6L1987.5,292.5L1990.5,292.5L1993.5,292.4L1996.5,292.4L1999.5,292.4L2002.5,292.3L2005.5,292.3L2008.6,292.3L2011.6,292.2L2014.6,292.2L2017.6,292.1L2020.6,292.1L2023.6,292L2026.6,292L2029.6,291.9L2032.6,291.9L2035.6,291.8L2038.6,291.8L2041.6,291.7L2044.6,291.7L2047.6,291.6L2050.6,291.6L2053.7,291.5L2056.7,291.5L2059.7,291.5L2062.7,291.4L2065.7,291.4L2068.7,291.4L2071.7,291.3L2074.7,291.3L2077.7,291.3L2080.7,291.3L2083.7,291.4L2086.7,291.5L2089.7,291.6L2092.7,291.7L2095.7,291.9L2098.7,292.1L2101.7,292.3L2104.7,292.5L2107.7,292.7L2110.7,292.9L2113.7,293.1L2116.7,293.4L2119.7,293.6L2122.7,293.9L2125.7,294.2L2128.7,294.5L2131.7,294.8L2134.7,295.1L2137.7,295.4L2140.7,295.7L2143.7,295.9L2146.7,296.2L2149.7,296.5L2152.7,296.7L2155.7,296.9L2158.7,297.1L2161.7,297.3L2164.7,297.4L2167.7,297.5L2170.7,297.7L2173.7,297.8L2176.7,298L2179.7,298.1L2182.7,298.2L2185.7,298.3L2188.7,298.4L2191.7,298.5L2194.7,298.7L2197.7,298.8L2200.7,298.9L2203.7,299L2206.7,299L2209.7,299.1L2212.7,299.2L2215.7,299.3L2218.7,299.4L2221.7,299.5L2224.8,299.5L2227.8,299.6L2230.8,299.7L2233.8,299.7L2236.8,299.8L2239.8,299.8L2242.8,299.9L2245.8,299.9L2248.8,300L2251.8,300.1L2254.8,300.1L2257.8,300.2L2260.8,300.2L2263.8,300.3L2266.8,300.3L2269.8,300.4L2272.8,300.4L2275.9,300.5L2278.9,300.5L2281.9,300.6L2284.9,300.6L2287.9,300.6L2290.9,300.7L2293.9,300.7L2296.9,300.8L2299.9,300.8L2302.9,300.8L2305.9,300.9L2308.9,300.9L2311.9,300.9L2314.9,300.9L2317.9,301L2321,301L2324,301L2327,301L2330,301L2333,301L2336,301L2339,301L2342,301"/><path class="ci" d="M180,301L183,301L186,301L189,301L192,301L195,301L198,300.9L201,300.9L204.1,300.9L207.1,300.9L210.1,300.9L213.1,300.8L216.1,300.8L219.1,300.8L222.1,300.8L225.1,300.7L228.1,300.7L231.1,300.7L234.1,300.7L237.1,300.6L240.1,300.6L243.1,300.6L246.1,300.5L249.2,300.5L252.2,300.5L255.2,300.4L258.2,300.4L261.2,300.4L264.2,300.3L267.2,300.3L270.2,300.2L273.2,300.2L276.2,300.2L279.2,300.1L282.2,300.1L285.2,300L288.2,300L291.2,299.9L294.2,299.9L297.3,299.9L300.3,299.8L303.3,299.8L306.3,299.7L309.3,299.7L312.3,299.6L315.3,299.6L318.3,299.5L321.3,299.5L324.3,299.4L327.3,299.4L330.3,299.3L333.3,299.2L336.3,299.2L339.3,299.1L342.3,299L345.4,299L348.4,298.9L351.4,298.8L354.4,298.8L357.4,298.7L360.4,298.6L363.4,298.5L366.4,298.5L369.4,298.4L372.4,298.3L375.4,298.2L378.4,298.1L381.4,298.1L384.4,298L387.4,297.9L390.4,297.8L393.4,297.7L396.4,297.6L399.5,297.5L402.5,297.4L405.5,297.3L408.5,297.2L411.5,297.1L414.5,297L417.5,296.9L420.5,296.8L423.5,296.7L426.5,296.6L429.5,296.5L432.5,296.4L435.5,296.3L438.5,296.2L441.5,296.1L444.5,296L447.5,295.9L450.5,295.8L453.5,295.7L456.5,295.6L459.6,295.4L462.6,295.3L465.6,295.2L468.6,295L471.6,294.9L474.6,294.7L477.6,294.6L480.6,294.4L483.6,294.3L486.6,294.1L489.6,293.9L492.6,293.8L495.6,293.6L498.6,293.4L501.6,293.2L504.6,293L507.6,292.8L510.6,292.6L513.6,292.4L516.6,292.2L519.6,292L522.6,291.8L525.6,291.6L528.6,291.3L531.6,291.1L534.6,290.8L537.6,290.6L540.6,290.3L543.6,290.1L546.6,289.8L549.5,289.5L552.5,289.2L555.5,289L558.5,288.7L561.5,288.4L564.5,288.1L567.5,287.8L570.5,287.5L573.5,287.1L576.5,286.8L579.5,286.5L582.5,286.2L585.4,285.9L588.4,285.5L591.4,285.2L594.4,284.9L597.4,284.5L600.4,284.2L603.4,283.9L606.4,283.5L609.3,283.2L612.3,282.8L615.3,282.5L618.3,282.2L621.3,281.8L624.3,281.5L627.3,281.1L630.3,280.8L633.2,280.5L636.2,280.1L639.2,279.8L642.2,279.4L645.2,279.1L648.2,278.7L651.2,278.4L654.1,278L657.1,277.6L660.1,277.2L663.1,276.9L666.1,276.5L669.1,276.1L672,275.7L675,275.3L678,274.9L681,274.4L683.9,274L686.9,273.6L689.9,273.1L692.9,272.7L695.8,272.2L698.8,271.7L701.8,271.2L704.7,270.7L707.7,270.2L710.7,269.7L713.6,269.1L716.6,268.6L719.5,268.1L722.5,267.5L725.5,267L728.4,266.5L731.4,265.9L734.3,265.4L737.3,264.8L740.2,264.3L743.2,263.7L746.1,263.2L749.1,262.6L752.1,262.1L755,261.6L758,261L760.9,260.5L763.9,260L766.9,259.5L769.8,258.9L772.8,258.4L775.7,257.8L778.7,257.2L781.6,256.6L784.6,255.9L787.5,255.3L790.4,254.6L793.3,253.8L796.2,253L799.1,252.2L802,251.4L804.9,250.5L807.7,249.6L810.6,248.7L813.5,247.8L816.3,246.9L819.2,246L822.1,245.2L825,244.3L827.8,243.3L830.6,242.1L833.1,240.5L835.4,238.6L837.5,236.4L839.4,234L841.1,231.5L842.7,229L844.3,226.4L845.8,223.9L847.3,221.3L848.8,218.6L850.2,216L851.5,213.3L852.7,210.5L853.8,207.7L854.9,204.9L856,202.1L857,199.3L858.1,196.5L859.2,193.7L860.4,190.9L861.8,188.2L863.3,185.7L865.2,183.3L867.7,181.7L870.6,181.1L873.5,181.7L876.2,183L878.5,185L880.4,187.3L882,189.8L883.4,192.5L884.7,195.2L886,197.9L887.2,200.7L888.5,203.4L889.8,206.1L891.1,208.8L892.5,211.5L894.1,214L895.8,216.5L897.8,218.8L900,220.8L902.5,222.5L905.1,224L907.8,225.3L910.6,226.2L913.6,226.7L916.6,226.7L919.6,226.4L922.6,226L925.5,225.5L928.5,224.8L931.3,223.9L934.1,222.7L936.7,221.1L939,219.2L941.2,217.1L943.1,214.9L944.9,212.5L946.7,210L948.3,207.5L950,205L951.6,202.5L953.3,200L955.1,197.6L957,195.2L958.9,192.9L960.7,190.5L962.3,187.9L963.8,185.3L965.2,182.7L966.5,180L967.8,177.3L969.2,174.6L970.6,171.9L972,169.3L973.4,166.6L974.9,164L976.3,161.4L977.8,158.7L979.2,156.1L980.6,153.4L982,150.8L983.4,148.1L984.8,145.4L986.1,142.7L987.3,140L988.6,137.2L989.8,134.5L990.9,131.7L992.1,128.9L993.2,126.2L994.4,123.4L995.5,120.6L996.6,117.8L997.7,115L998.7,112.2L999.8,109.4L1000.9,106.6L1002,103.7L1003.1,101L1004.3,98.2L1005.6,95.5L1007,92.8L1008.8,90.4L1011.4,89L1014,90.2L1015.7,92.6L1017,95.4L1018.1,98.2L1019,101L1019.9,103.9L1020.7,106.8L1021.4,109.7L1022.1,112.6L1022.8,115.6L1023.5,118.5L1024.2,121.4L1024.8,124.4L1025.4,127.3L1026.1,130.2L1026.7,133.2L1027.3,136.1L1027.9,139.1L1028.4,142L1029,145L1029.6,147.9L1030.1,150.9L1030.7,153.9L1031.2,156.8L1031.7,159.8L1032.3,162.7L1032.8,165.7L1033.3,168.6L1033.9,171.6L1034.4,174.6L1035,177.5L1035.5,180.5L1036.1,183.4L1036.7,186.4L1037.3,189.3L1037.9,192.3L1038.5,195.2L1039.2,198.1L1039.8,201.1L1040.5,204L1041.3,206.9L1042,209.8L1042.8,212.7L1043.7,215.6L1044.5,218.5L1045.5,221.3L1046.5,224.2L1047.5,227L1048.7,229.7L1050.1,232.4L1051.5,235.1L1053,237.7L1054.7,240.2L1056.5,242.6L1058.5,244.8L1060.8,246.8L1063.4,248.2L1066.3,249L1069.3,249.4L1072.3,249.7L1075.2,250.1L1078.2,250.5L1081.2,251.1L1084.1,251.7L1087,252.4L1090,253.1L1092.9,253.7L1095.9,254.2L1098.9,254.5L1101.9,254.6L1104.9,254.7L1107.9,254.9L1110.8,255.4L1113.8,256L1116.7,256.6L1119.7,257.2L1122.6,257.9L1125.5,258.6L1128.5,259.2L1131.4,259.7L1134.4,260.1L1137.4,260.4L1140.4,260.5L1143.4,260.5L1146.4,260.4L1149.4,260.3L1152.4,260.2L1155.4,260.1L1158.4,259.9L1161.4,259.8L1164.4,259.7L1167.4,259.6L1170.5,259.5L1173.5,259.5L1176.5,259.6L1179.5,259.7L1182.5,259.8L1185.5,260.1L1188.4,260.5L1191.4,261.1L1194.3,261.8L1197.2,262.7L1200.1,263.5L1203,264.3L1205.9,265L1208.8,265.6L1211.8,266L1214.8,266.3L1217.8,266.6L1220.8,266.9L1223.8,267.1L1226.8,267.4L1229.8,267.6L1232.8,267.8L1235.8,268L1238.8,268.1L1241.8,268.2L1244.8,268.3L1247.8,268.3L1250.8,268.3L1253.8,268.3L1256.8,268.2L1259.8,268L1262.8,267.8L1265.8,267.5L1268.8,267.1L1271.8,266.6L1274.7,266.1L1277.7,265.5L1280.6,265L1283.6,264.4L1286.5,263.8L1289.5,263.2L1292.4,262.6L1295.4,261.9L1298.3,261.2L1301.2,260.5L1304.1,259.8L1307.1,259.2L1310,258.7L1313,258.5L1316,258.5L1319,258.7L1322,259.2L1324.9,259.9L1327.8,260.8L1330.5,262.1L1333.1,263.6L1335.7,265.2L1338.2,266.8L1340.8,268.3L1343.5,269.7L1346.2,271L1348.9,272.3L1351.6,273.5L1354.4,274.7L1357.3,275.7L1360.1,276.6L1363,277.4L1365.9,278.1L1368.9,278.7L1371.8,279.2L1374.8,279.7L1377.8,280L1380.8,280.2L1383.8,280.4L1386.8,280.6L1389.8,280.8L1392.8,280.9L1395.8,281.1L1398.8,281.2L1401.8,281.4L1404.8,281.5L1407.8,281.7L1410.8,281.8L1413.8,281.9L1416.8,282.1L1419.8,282.2L1422.8,282.4L1425.8,282.6L1428.8,282.8L1431.8,282.9L1434.9,283.1L1437.9,283.3L1440.9,283.5L1443.9,283.7L1446.9,283.9L1449.9,284.1L1452.9,284.3L1455.9,284.5L1458.9,284.7L1461.9,284.9L1464.9,285.1L1467.9,285.2L1470.9,285.4L1473.9,285.5L1476.9,285.6L1479.9,285.7L1482.9,285.9L1485.9,285.9L1488.9,286L1491.9,286.1L1494.9,286.2L1497.9,286.2L1500.9,286.2L1503.9,286.2L1506.9,286.2L1509.9,286.2L1512.9,286.1L1515.9,285.9L1518.9,285.7L1521.9,285.5L1524.9,285.3L1527.9,285.1L1530.9,284.9L1533.9,284.7L1536.9,284.4L1539.9,284.2L1542.9,284L1545.9,283.9L1548.9,283.8L1551.9,283.8L1555,283.9L1558,284.2L1560.9,284.5L1563.9,284.8L1566.9,285.2L1569.9,285.6L1572.9,286L1575.9,286.3L1578.9,286.7L1581.8,287L1584.8,287.4L1587.8,287.8L1590.8,288.1L1593.8,288.5L1596.8,288.8L1599.8,289.1L1602.8,289.3L1605.8,289.6L1608.8,289.7L1611.8,289.9L1614.8,290L1617.8,290.2L1620.8,290.3L1623.8,290.4L1626.8,290.5L1629.8,290.6L1632.8,290.7L1635.8,290.8L1638.8,290.8L1641.8,290.9L1644.8,291L1647.8,291.1L1650.8,291.1L1653.8,291.2L1656.8,291.3L1659.8,291.4L1662.8,291.5L1665.8,291.6L1668.9,291.7L1671.9,291.8L1674.9,291.9L1677.9,292L1680.9,292.1L1683.9,292.2L1686.9,292.3L1689.9,292.4L1692.9,292.4L1695.9,292.5L1698.9,292.5L1701.9,292.6L1704.9,292.6L1707.9,292.6L1710.9,292.6L1713.9,292.6L1716.9,292.6L1720,292.5L1723,292.5L1726,292.5L1729,292.4L1732,292.4L1735,292.3L1738,292.3L1741,292.2L1744,292.2L1747,292.2L1750,292.1L1753,292.1L1756,292L1759,292L1762,292L1765,291.9L1768.1,291.9L1771.1,291.9L1774.1,291.9L1777.1,291.8L1780.1,291.8L1783.1,291.8L1786.1,291.8L1789.1,291.7L1792.1,291.7L1795.1,291.7L1798.1,291.7L1801.1,291.6L1804.1,291.6L1807.1,291.6L1810.1,291.6L1813.2,291.6L1816.2,291.5L1819.2,291.5L1822.2,291.5L1825.2,291.5L1828.2,291.5L1831.2,291.5L1834.2,291.5L1837.2,291.5L1840.2,291.6L1843.2,291.6L1846.2,291.7L1849.2,291.8L1852.2,291.9L1855.2,292L1858.2,292.1L1861.3,292.2L1864.3,292.3L1867.3,292.4L1870.3,292.6L1873.3,292.7L1876.3,292.8L1879.3,292.9L1882.3,293L1885.3,293.1L1888.3,293.1L1891.3,293.2L1894.3,293.2L1897.3,293.3L1900.3,293.3L1903.3,293.3L1906.3,293.3L1909.3,293.3L1912.3,293.3L1915.4,293.2L1918.4,293.2L1921.4,293.2L1924.4,293.2L1927.4,293.2L1930.4,293.1L1933.4,293.1L1936.4,293.1L1939.4,293.1L1942.4,293L1945.4,293L1948.4,293L1951.4,292.9L1954.4,292.9L1957.4,292.9L1960.5,292.8L1963.5,292.8L1966.5,292.8L1969.5,292.7L1972.5,292.7L1975.5,292.7L1978.5,292.6L1981.5,292.6L1984.5,292.6L1987.5,292.5L1990.5,292.5L1993.5,292.4L1996.5,292.4L1999.5,292.4L2002.5,292.3L2005.5,292.3L2008.6,292.3L2011.6,292.2L2014.6,292.2L2017.6,292.1L2020.6,292.1L2023.6,292L2026.6,292L2029.6,291.9L2032.6,291.9L2035.6,291.8L2038.6,291.8L2041.6,291.7L2044.6,291.7L2047.6,291.6L2050.6,291.6L2053.7,291.5L2056.7,291.5L2059.7,291.5L2062.7,291.4L2065.7,291.4L2068.7,291.4L2071.7,291.3L2074.7,291.3L2077.7,291.3L2080.7,291.3L2083.7,291.4L2086.7,291.5L2089.7,291.6L2092.7,291.7L2095.7,291.9L2098.7,292.1L2101.7,292.3L2104.7,292.5L2107.7,292.7L2110.7,292.9L2113.7,293.1L2116.7,293.4L2119.7,293.6L2122.7,293.9L2125.7,294.2L2128.7,294.5L2131.7,294.8L2134.7,295.1L2137.7,295.4L2140.7,295.7L2143.7,295.9L2146.7,296.2L2149.7,296.5L2152.7,296.7L2155.7,296.9L2158.7,297.1L2161.7,297.3L2164.7,297.4L2167.7,297.5L2170.7,297.7L2173.7,297.8L2176.7,298L2179.7,298.1L2182.7,298.2L2185.7,298.3L2188.7,298.4L2191.7,298.5L2194.7,298.7L2197.7,298.8L2200.7,298.9L2203.7,299L2206.7,299L2209.7,299.1L2212.7,299.2L2215.7,299.3L2218.7,299.4L2221.7,299.5L2224.8,299.5L2227.8,299.6L2230.8,299.7L2233.8,299.7L2236.8,299.8L2239.8,299.8L2242.8,299.9L2245.8,299.9L2248.8,300L2251.8,300.1L2254.8,300.1L2257.8,300.2L2260.8,300.2L2263.8,300.3L2266.8,300.3L2269.8,300.4L2272.8,300.4L2275.9,300.5L2278.9,300.5L2281.9,300.6L2284.9,300.6L2287.9,300.6L2290.9,300.7L2293.9,300.7L2296.9,300.8L2299.9,300.8L2302.9,300.8L2305.9,300.9L2308.9,300.9L2311.9,300.9L2314.9,300.9L2317.9,301L2321,301L2324,301L2327,301L2330,301L2333,301L2336,301L2339,301L2342,301"/></g>
<rect x="2335" y="19" width="5" height="1590" fill="#000"/>
<line class="d" x1="868.8" y1="103" x2="868.8" y2="1508" stroke-width="6" stroke-dasharray="20.3 17.4"/>
<line class="d" x1="975.8" y1="77" x2="975.5" y2="1455" stroke-width="5.5" stroke-dasharray="20.3 17.4"/>
<line class="d" x1="1008.6" y1="73" x2="1012.2" y2="1452" stroke-width="5.5" stroke-dasharray="20.3 17.4"/>
<line class="d" x1="1323.7" y1="121" x2="1320.8" y2="1500" stroke-width="5.5" stroke-dasharray="20.3 17.4"/>
<rect x="973.2" y="1470.6" width="5" height="1" fill="#000"/><rect x="973.2" y="1472.6" width="5" height="1" fill="#000"/>
<text x="418.8" y="1700.3" font-size="87" text-anchor="middle">10</text>
<text x="897.8" y="1700.3" font-size="87" text-anchor="middle">20</text>
<text x="1376.8" y="1700.3" font-size="87" text-anchor="middle">30</text>
<text x="1855.8" y="1700.3" font-size="87" text-anchor="middle">40</text>
<text x="2334.8" y="1700.3" font-size="87" text-anchor="middle">50</text>
<text transform="translate(1160.9,1842.6) scale(0.988,1)" font-size="92.6">2θ(°)</text>
<text transform="translate(74.6,1072.5) rotate(-90)" font-size="89">Intensity(esp)</text>
<text x="725" y="1560.7" font-size="60.8">(020)</text>
<text x="876.3" y="1533" font-size="60.8">(021)</text>
<text x="1008.5" y="1533" font-size="60.8">(010)</text>
<text x="1257.3" y="1533" font-size="60.8" style="font-kerning:none">(111)</text>
<text transform="translate(1903.5,262.5) scale(0.996,1)" font-size="68.8" fill="#00ffff">85/15/T-PBS<tspan dy="20.5" dx="-2.5">5</tspan></text>
<text transform="translate(1893.5,517.6) scale(0.996,1)" font-size="68.8" fill="#e6ac2c">85/15/T-PBS<tspan dy="20.5" dx="-2.5">4</tspan></text>
<text transform="translate(1901.3,751.7) scale(0.996,1)" font-size="68.8" fill="#6a007f">85/15/T-PBS<tspan dy="19.2" dx="-2.5">3</tspan></text>
<text transform="translate(1893.5,1011.7) scale(0.996,1)" font-size="68.8" fill="#089000">85/15/T-PBS<tspan dy="18.9" dx="-2.5">2</tspan></text>
<text transform="translate(1893.5,1203.7) scale(0.996,1)" font-size="68.8" fill="#0000ff">85/15/T-PBS<tspan dy="20.1" dx="-2.5">1</tspan></text>
<text transform="translate(1952.4,1318.8) scale(0.984,1)" font-size="68.8" fill="#ff0000">85/15PBS</text>
<text transform="translate(2028.8,1434.8) scale(0.996,1)" font-size="68.8" fill="#000000">PBS</text>
</svg>
</body>
</html>
